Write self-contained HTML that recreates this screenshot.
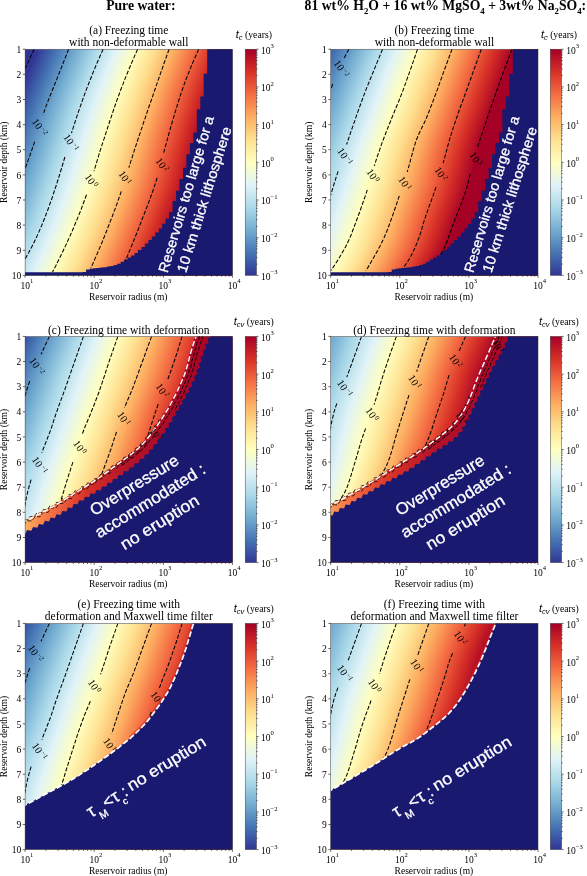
<!DOCTYPE html><html><head><meta charset="utf-8"><title>Figure</title><style>
html,body{margin:0;padding:0;background:#fff}svg{display:block;will-change:transform}text{font-family:"Liberation Serif",serif;fill:#000}.s{font-family:"Liberation Sans",sans-serif;fill:#fff;stroke:#fff;stroke-width:.3}.c{fill:none;stroke:#000;stroke-width:1.05;stroke-dasharray:4.1 1.75}.w{fill:none;stroke:#fff;stroke-width:1.7;stroke-dasharray:5.6 2.4}.t{font-size:9.5px}.l{fill:#000}.k{stroke:#000;stroke-width:.6;fill:none}
</style></head><body>
<svg width="587" height="876" viewBox="0 0 587 876">
<rect width="587" height="876" fill="#fff"/>
<defs>
<linearGradient id="cm" gradientUnits="userSpaceOnUse" x1="0" x2="100" y1="0" y2="0"><stop offset="0" stop-color="#313695"/><stop offset=".1" stop-color="#4575b4"/><stop offset=".2" stop-color="#74add1"/><stop offset=".3" stop-color="#abd9e9"/><stop offset=".4" stop-color="#e0f3f8"/><stop offset=".5" stop-color="#ffffbf"/><stop offset=".6" stop-color="#fee090"/><stop offset=".7" stop-color="#fdae61"/><stop offset=".8" stop-color="#f46d43"/><stop offset=".9" stop-color="#d73027"/><stop offset="1" stop-color="#a50026"/></linearGradient>
<linearGradient id="cb" x1="0" x2="0" y1="1" y2="0"><stop offset="0" stop-color="#313695"/><stop offset="0.1" stop-color="#4575b4"/><stop offset="0.2" stop-color="#74add1"/><stop offset="0.3" stop-color="#abd9e9"/><stop offset="0.4" stop-color="#e0f3f8"/><stop offset="0.5" stop-color="#ffffbf"/><stop offset="0.6" stop-color="#fee090"/><stop offset="0.7" stop-color="#fdae61"/><stop offset="0.8" stop-color="#f46d43"/><stop offset="0.9" stop-color="#d73027"/><stop offset="1" stop-color="#a50026"/></linearGradient>
<clipPath id="p0"><rect x="25.1" y="49.2" width="207.3" height="226.2"/></clipPath>
<linearGradient id="g0_0" href="#cm" x1="37.2" y1="50.2" x2="204.8" y2="118.7"/>
<linearGradient id="g0_1" href="#cm" x1="36.4" y1="52.2" x2="203.2" y2="121.4"/>
<linearGradient id="g0_2" href="#cm" x1="35.5" y1="54.2" x2="202.6" y2="123.2"/>
<linearGradient id="g0_3" href="#cm" x1="34.7" y1="56.2" x2="202" y2="125"/>
<linearGradient id="g0_4" href="#cm" x1="33.9" y1="58.2" x2="201.4" y2="126.7"/>
<linearGradient id="g0_5" href="#cm" x1="33.1" y1="60.2" x2="200.9" y2="128.5"/>
<linearGradient id="g0_6" href="#cm" x1="32.3" y1="62.2" x2="200.3" y2="130.2"/>
<linearGradient id="g0_7" href="#cm" x1="31.4" y1="64.2" x2="199.8" y2="132"/>
<linearGradient id="g0_8" href="#cm" x1="30.6" y1="66.2" x2="199.2" y2="133.7"/>
<linearGradient id="g0_9" href="#cm" x1="29.8" y1="68.2" x2="198.7" y2="135.4"/>
<linearGradient id="g0_10" href="#cm" x1="29" y1="70.2" x2="198.2" y2="137.1"/>
<linearGradient id="g0_11" href="#cm" x1="28.2" y1="72.2" x2="197.7" y2="138.9"/>
<linearGradient id="g0_12" href="#cm" x1="27.4" y1="74.2" x2="197.3" y2="140.6"/>
<linearGradient id="g0_13" href="#cm" x1="26.5" y1="76.2" x2="196.8" y2="142.3"/>
<linearGradient id="g0_14" href="#cm" x1="25.7" y1="78.2" x2="196.4" y2="144"/>
<linearGradient id="g0_15" href="#cm" x1="24.9" y1="80.2" x2="196" y2="145.7"/>
<linearGradient id="g0_16" href="#cm" x1="24.1" y1="82.2" x2="195.5" y2="147.4"/>
<linearGradient id="g0_17" href="#cm" x1="23.3" y1="84.2" x2="195" y2="149.2"/>
<linearGradient id="g0_18" href="#cm" x1="22.4" y1="86.2" x2="194.6" y2="150.9"/>
<linearGradient id="g0_19" href="#cm" x1="21.6" y1="88.2" x2="194.2" y2="152.6"/>
<linearGradient id="g0_20" href="#cm" x1="20.7" y1="90.2" x2="193.9" y2="154.3"/>
<linearGradient id="g0_21" href="#cm" x1="19.9" y1="92.2" x2="193.6" y2="155.9"/>
<linearGradient id="g0_22" href="#cm" x1="19.1" y1="94.2" x2="193.3" y2="157.5"/>
<linearGradient id="g0_23" href="#cm" x1="18.3" y1="96.2" x2="193.1" y2="159.1"/>
<linearGradient id="g0_24" href="#cm" x1="17.5" y1="98.2" x2="192.9" y2="160.6"/>
<linearGradient id="g0_25" href="#cm" x1="16.7" y1="100.2" x2="192.6" y2="162.2"/>
<linearGradient id="g0_26" href="#cm" x1="15.9" y1="102.2" x2="192.3" y2="163.9"/>
<linearGradient id="g0_27" href="#cm" x1="15.1" y1="104.2" x2="192" y2="165.5"/>
<linearGradient id="g0_28" href="#cm" x1="14.3" y1="106.2" x2="191.7" y2="167.1"/>
<linearGradient id="g0_29" href="#cm" x1="13.6" y1="108.2" x2="191.4" y2="168.8"/>
<linearGradient id="g0_30" href="#cm" x1="12.8" y1="110.2" x2="191.1" y2="170.3"/>
<linearGradient id="g0_31" href="#cm" x1="12.1" y1="112.2" x2="190.9" y2="171.9"/>
<linearGradient id="g0_32" href="#cm" x1="11.4" y1="114.2" x2="190.6" y2="173.5"/>
<linearGradient id="g0_33" href="#cm" x1="10.7" y1="116.2" x2="190.4" y2="175"/>
<linearGradient id="g0_34" href="#cm" x1="10" y1="118.2" x2="190.1" y2="176.5"/>
<linearGradient id="g0_35" href="#cm" x1="9.3" y1="120.2" x2="189.8" y2="178.1"/>
<linearGradient id="g0_36" href="#cm" x1="8.6" y1="122.2" x2="189.4" y2="179.8"/>
<linearGradient id="g0_37" href="#cm" x1="8" y1="124.2" x2="189" y2="181.5"/>
<linearGradient id="g0_38" href="#cm" x1="7.3" y1="126.2" x2="188.6" y2="183.2"/>
<linearGradient id="g0_39" href="#cm" x1="6.7" y1="128.2" x2="188.1" y2="185"/>
<linearGradient id="g0_40" href="#cm" x1="6.1" y1="130.2" x2="187.7" y2="186.7"/>
<linearGradient id="g0_41" href="#cm" x1="5.4" y1="132.2" x2="187.3" y2="188.4"/>
<linearGradient id="g0_42" href="#cm" x1="4.8" y1="134.2" x2="186.9" y2="190.2"/>
<linearGradient id="g0_43" href="#cm" x1="4.2" y1="136.2" x2="186.4" y2="192"/>
<linearGradient id="g0_44" href="#cm" x1="3.6" y1="138.2" x2="185.8" y2="193.9"/>
<linearGradient id="g0_45" href="#cm" x1="2.9" y1="140.2" x2="185.2" y2="196"/>
<linearGradient id="g0_46" href="#cm" x1="2.3" y1="142.2" x2="184.5" y2="198.1"/>
<linearGradient id="g0_47" href="#cm" x1="1.7" y1="144.2" x2="183.9" y2="200.2"/>
<linearGradient id="g0_48" href="#cm" x1="1" y1="146.2" x2="183.3" y2="202.3"/>
<linearGradient id="g0_49" href="#cm" x1="0.3" y1="148.2" x2="182.7" y2="204.2"/>
<linearGradient id="g0_50" href="#cm" x1="-0.3" y1="150.2" x2="182.2" y2="206.2"/>
<linearGradient id="g0_51" href="#cm" x1="-1" y1="152.2" x2="181.6" y2="208.2"/>
<linearGradient id="g0_52" href="#cm" x1="-1.7" y1="154.2" x2="181.2" y2="210.2"/>
<linearGradient id="g0_53" href="#cm" x1="-2.4" y1="156.2" x2="180.7" y2="212.2"/>
<linearGradient id="g0_54" href="#cm" x1="-3.1" y1="158.2" x2="180.2" y2="214.2"/>
<linearGradient id="g0_55" href="#cm" x1="-3.8" y1="160.2" x2="179.7" y2="216.2"/>
<linearGradient id="g0_56" href="#cm" x1="-4.6" y1="162.2" x2="179.2" y2="218.3"/>
<linearGradient id="g0_57" href="#cm" x1="-5.3" y1="164.2" x2="178.6" y2="220.5"/>
<linearGradient id="g0_58" href="#cm" x1="-6.1" y1="166.2" x2="178" y2="222.7"/>
<linearGradient id="g0_59" href="#cm" x1="-6.8" y1="168.2" x2="177.5" y2="224.8"/>
<linearGradient id="g0_60" href="#cm" x1="-7.6" y1="170.2" x2="177" y2="226.8"/>
<linearGradient id="g0_61" href="#cm" x1="-8.3" y1="172.2" x2="176.3" y2="229.2"/>
<linearGradient id="g0_62" href="#cm" x1="-9" y1="174.2" x2="175.5" y2="231.6"/>
<linearGradient id="g0_63" href="#cm" x1="-9.7" y1="176.2" x2="174.5" y2="234.2"/>
<linearGradient id="g0_64" href="#cm" x1="-10.4" y1="178.2" x2="173.6" y2="236.8"/>
<linearGradient id="g0_65" href="#cm" x1="-11.1" y1="180.2" x2="172.6" y2="239.3"/>
<linearGradient id="g0_66" href="#cm" x1="-11.8" y1="182.2" x2="171.6" y2="241.9"/>
<linearGradient id="g0_67" href="#cm" x1="-12.5" y1="184.2" x2="170.6" y2="244.4"/>
<linearGradient id="g0_68" href="#cm" x1="-13.2" y1="186.2" x2="169.6" y2="247"/>
<linearGradient id="g0_69" href="#cm" x1="-13.9" y1="188.2" x2="168.5" y2="249.5"/>
<linearGradient id="g0_70" href="#cm" x1="-14.5" y1="190.2" x2="167.4" y2="252.1"/>
<linearGradient id="g0_71" href="#cm" x1="-15.2" y1="192.2" x2="166.3" y2="254.6"/>
<linearGradient id="g0_72" href="#cm" x1="-15.9" y1="194.2" x2="165.2" y2="257.2"/>
<linearGradient id="g0_73" href="#cm" x1="-16.6" y1="196.2" x2="164" y2="259.8"/>
<linearGradient id="g0_74" href="#cm" x1="-17.3" y1="198.2" x2="162.8" y2="262.4"/>
<linearGradient id="g0_75" href="#cm" x1="-18" y1="200.2" x2="161.6" y2="264.9"/>
<linearGradient id="g0_76" href="#cm" x1="-18.7" y1="202.2" x2="160.4" y2="267.4"/>
<linearGradient id="g0_77" href="#cm" x1="-19.4" y1="204.2" x2="159.4" y2="269.7"/>
<linearGradient id="g0_78" href="#cm" x1="-20.1" y1="206.2" x2="158.3" y2="272.1"/>
<linearGradient id="g0_79" href="#cm" x1="-20.8" y1="208.2" x2="157.2" y2="274.4"/>
<linearGradient id="g0_80" href="#cm" x1="-21.5" y1="210.2" x2="156.1" y2="276.8"/>
<linearGradient id="g0_81" href="#cm" x1="-22.2" y1="212.2" x2="155" y2="279.1"/>
<linearGradient id="g0_82" href="#cm" x1="-22.9" y1="214.2" x2="153.9" y2="281.4"/>
<linearGradient id="g0_83" href="#cm" x1="-23.7" y1="216.2" x2="152.9" y2="283.7"/>
<linearGradient id="g0_84" href="#cm" x1="-24.4" y1="218.2" x2="151.8" y2="286"/>
<linearGradient id="g0_85" href="#cm" x1="-25.1" y1="220.2" x2="150.7" y2="288.3"/>
<linearGradient id="g0_86" href="#cm" x1="-25.9" y1="222.2" x2="149.6" y2="290.6"/>
<linearGradient id="g0_87" href="#cm" x1="-26.6" y1="224.2" x2="148.5" y2="292.9"/>
<linearGradient id="g0_88" href="#cm" x1="-27.4" y1="226.2" x2="147.3" y2="295.3"/>
<linearGradient id="g0_89" href="#cm" x1="-28.2" y1="228.2" x2="146.1" y2="297.7"/>
<linearGradient id="g0_90" href="#cm" x1="-28.9" y1="230.2" x2="144.9" y2="300.1"/>
<linearGradient id="g0_91" href="#cm" x1="-29.7" y1="232.2" x2="143.6" y2="302.6"/>
<linearGradient id="g0_92" href="#cm" x1="-30.5" y1="234.2" x2="142.3" y2="305"/>
<linearGradient id="g0_93" href="#cm" x1="-31.3" y1="236.2" x2="141" y2="307.5"/>
<linearGradient id="g0_94" href="#cm" x1="-32.2" y1="238.2" x2="139.6" y2="310"/>
<linearGradient id="g0_95" href="#cm" x1="-33" y1="240.2" x2="138.3" y2="312.5"/>
<linearGradient id="g0_96" href="#cm" x1="-33.8" y1="242.2" x2="136.9" y2="315"/>
<linearGradient id="g0_97" href="#cm" x1="-34.7" y1="244.2" x2="135.6" y2="317.5"/>
<linearGradient id="g0_98" href="#cm" x1="-35.5" y1="246.2" x2="134.2" y2="319.9"/>
<linearGradient id="g0_99" href="#cm" x1="-36.4" y1="248.2" x2="132.9" y2="322.3"/>
<linearGradient id="g0_100" href="#cm" x1="-37.3" y1="250.2" x2="131.6" y2="324.7"/>
<linearGradient id="g0_101" href="#cm" x1="-38.2" y1="252.2" x2="130.3" y2="327.1"/>
<linearGradient id="g0_102" href="#cm" x1="-39.1" y1="254.2" x2="129" y2="329.5"/>
<linearGradient id="g0_103" href="#cm" x1="-40" y1="256.2" x2="127.7" y2="331.8"/>
<linearGradient id="g0_104" href="#cm" x1="-40.9" y1="258.2" x2="126.9" y2="333.8"/>
<linearGradient id="g0_105" href="#cm" x1="-41.8" y1="260.2" x2="126.4" y2="335.3"/>
<linearGradient id="g0_106" href="#cm" x1="-42.6" y1="262.2" x2="125.8" y2="337.1"/>
<linearGradient id="g0_107" href="#cm" x1="-43.5" y1="264.2" x2="124.9" y2="339.1"/>
<linearGradient id="g0_108" href="#cm" x1="-44.4" y1="266.2" x2="123.8" y2="341.2"/>
<linearGradient id="g0_109" href="#cm" x1="-45.3" y1="268.2" x2="123.3" y2="342.9"/>
<linearGradient id="g0_110" href="#cm" x1="-46.2" y1="270.2" x2="122.9" y2="344.4"/>
<linearGradient id="g0_111" href="#cm" x1="-47.1" y1="272.2" x2="122.9" y2="345.7"/>
<linearGradient id="g0_112" href="#cm" x1="-47.9" y1="274.2" x2="122.9" y2="346.9"/>
<linearGradient id="g0_113" href="#cm" x1="-48.8" y1="276.2" x2="122" y2="348.9"/>
<clipPath id="p1"><rect x="330.7" y="49.2" width="207.3" height="226.2"/></clipPath>
<linearGradient id="g1_0" href="#cm" x1="317.3" y1="50.2" x2="485.5" y2="119.3"/>
<linearGradient id="g1_1" href="#cm" x1="316.3" y1="52.2" x2="484.4" y2="121.8"/>
<linearGradient id="g1_2" href="#cm" x1="315.3" y1="54.2" x2="484.1" y2="123.5"/>
<linearGradient id="g1_3" href="#cm" x1="314.3" y1="56.2" x2="483.7" y2="125.3"/>
<linearGradient id="g1_4" href="#cm" x1="313.3" y1="58.2" x2="483.3" y2="127.1"/>
<linearGradient id="g1_5" href="#cm" x1="312.4" y1="60.2" x2="482.9" y2="128.8"/>
<linearGradient id="g1_6" href="#cm" x1="311.5" y1="62.2" x2="482.5" y2="130.6"/>
<linearGradient id="g1_7" href="#cm" x1="310.6" y1="64.2" x2="482.1" y2="132.4"/>
<linearGradient id="g1_8" href="#cm" x1="309.7" y1="66.2" x2="481.7" y2="134.1"/>
<linearGradient id="g1_9" href="#cm" x1="308.8" y1="68.2" x2="481.2" y2="135.9"/>
<linearGradient id="g1_10" href="#cm" x1="307.9" y1="70.2" x2="480.8" y2="137.7"/>
<linearGradient id="g1_11" href="#cm" x1="307" y1="72.2" x2="480.3" y2="139.4"/>
<linearGradient id="g1_12" href="#cm" x1="306.2" y1="74.2" x2="479.9" y2="141.2"/>
<linearGradient id="g1_13" href="#cm" x1="305.3" y1="76.2" x2="479.4" y2="143"/>
<linearGradient id="g1_14" href="#cm" x1="304.5" y1="78.2" x2="479" y2="144.8"/>
<linearGradient id="g1_15" href="#cm" x1="303.7" y1="80.2" x2="478.5" y2="146.5"/>
<linearGradient id="g1_16" href="#cm" x1="302.8" y1="82.2" x2="478.3" y2="148"/>
<linearGradient id="g1_17" href="#cm" x1="302.1" y1="84.2" x2="478" y2="149.5"/>
<linearGradient id="g1_18" href="#cm" x1="301.3" y1="86.2" x2="477.7" y2="151"/>
<linearGradient id="g1_19" href="#cm" x1="300.6" y1="88.2" x2="477.2" y2="152.9"/>
<linearGradient id="g1_20" href="#cm" x1="299.8" y1="90.2" x2="476.2" y2="155.1"/>
<linearGradient id="g1_21" href="#cm" x1="299.1" y1="92.2" x2="475.2" y2="157.4"/>
<linearGradient id="g1_22" href="#cm" x1="298.3" y1="94.2" x2="474.4" y2="159.5"/>
<linearGradient id="g1_23" href="#cm" x1="297.5" y1="96.2" x2="473.6" y2="161.6"/>
<linearGradient id="g1_24" href="#cm" x1="296.8" y1="98.2" x2="472.9" y2="163.6"/>
<linearGradient id="g1_25" href="#cm" x1="296" y1="100.2" x2="472.1" y2="165.6"/>
<linearGradient id="g1_26" href="#cm" x1="295.3" y1="102.2" x2="471.4" y2="167.6"/>
<linearGradient id="g1_27" href="#cm" x1="294.5" y1="104.2" x2="470.7" y2="169.6"/>
<linearGradient id="g1_28" href="#cm" x1="293.8" y1="106.2" x2="470" y2="171.6"/>
<linearGradient id="g1_29" href="#cm" x1="293" y1="108.2" x2="469.3" y2="173.6"/>
<linearGradient id="g1_30" href="#cm" x1="292.2" y1="110.2" x2="468.6" y2="175.6"/>
<linearGradient id="g1_31" href="#cm" x1="291.5" y1="112.2" x2="467.9" y2="177.5"/>
<linearGradient id="g1_32" href="#cm" x1="290.7" y1="114.2" x2="467.2" y2="179.5"/>
<linearGradient id="g1_33" href="#cm" x1="290" y1="116.2" x2="466.5" y2="181.5"/>
<linearGradient id="g1_34" href="#cm" x1="289.2" y1="118.2" x2="465.7" y2="183.6"/>
<linearGradient id="g1_35" href="#cm" x1="288.4" y1="120.2" x2="464.7" y2="185.9"/>
<linearGradient id="g1_36" href="#cm" x1="287.7" y1="122.2" x2="463.6" y2="188.3"/>
<linearGradient id="g1_37" href="#cm" x1="286.9" y1="124.2" x2="462.6" y2="190.6"/>
<linearGradient id="g1_38" href="#cm" x1="286.1" y1="126.2" x2="461.8" y2="192.7"/>
<linearGradient id="g1_39" href="#cm" x1="285.4" y1="128.2" x2="461.2" y2="194.6"/>
<linearGradient id="g1_40" href="#cm" x1="284.6" y1="130.2" x2="460.7" y2="196.3"/>
<linearGradient id="g1_41" href="#cm" x1="283.8" y1="132.2" x2="460.4" y2="197.9"/>
<linearGradient id="g1_42" href="#cm" x1="283.1" y1="134.2" x2="460.2" y2="199.2"/>
<linearGradient id="g1_43" href="#cm" x1="282.3" y1="136.2" x2="460.3" y2="200.3"/>
<linearGradient id="g1_44" href="#cm" x1="281.6" y1="138.2" x2="460.5" y2="201.2"/>
<linearGradient id="g1_45" href="#cm" x1="280.8" y1="140.2" x2="460.6" y2="202.2"/>
<linearGradient id="g1_46" href="#cm" x1="280.1" y1="142.2" x2="460.6" y2="203.4"/>
<linearGradient id="g1_47" href="#cm" x1="279.4" y1="144.2" x2="460.5" y2="204.8"/>
<linearGradient id="g1_48" href="#cm" x1="278.6" y1="146.2" x2="460.4" y2="206.2"/>
<linearGradient id="g1_49" href="#cm" x1="277.9" y1="148.2" x2="460.2" y2="207.6"/>
<linearGradient id="g1_50" href="#cm" x1="277.2" y1="150.2" x2="460" y2="209.1"/>
<linearGradient id="g1_51" href="#cm" x1="276.5" y1="152.2" x2="459.8" y2="210.7"/>
<linearGradient id="g1_52" href="#cm" x1="275.7" y1="154.2" x2="459.5" y2="212.4"/>
<linearGradient id="g1_53" href="#cm" x1="275" y1="156.2" x2="459.2" y2="214.1"/>
<linearGradient id="g1_54" href="#cm" x1="274.3" y1="158.2" x2="458.8" y2="215.9"/>
<linearGradient id="g1_55" href="#cm" x1="273.5" y1="160.2" x2="458.4" y2="217.7"/>
<linearGradient id="g1_56" href="#cm" x1="272.8" y1="162.2" x2="458" y2="219.6"/>
<linearGradient id="g1_57" href="#cm" x1="272.1" y1="164.2" x2="457.6" y2="221.5"/>
<linearGradient id="g1_58" href="#cm" x1="271.3" y1="166.2" x2="457.2" y2="223.4"/>
<linearGradient id="g1_59" href="#cm" x1="270.6" y1="168.2" x2="456.8" y2="225.4"/>
<linearGradient id="g1_60" href="#cm" x1="269.9" y1="170.2" x2="456.2" y2="227.5"/>
<linearGradient id="g1_61" href="#cm" x1="269.1" y1="172.2" x2="455.6" y2="229.7"/>
<linearGradient id="g1_62" href="#cm" x1="268.4" y1="174.2" x2="455" y2="232"/>
<linearGradient id="g1_63" href="#cm" x1="267.7" y1="176.2" x2="454.3" y2="234.2"/>
<linearGradient id="g1_64" href="#cm" x1="267" y1="178.2" x2="453.6" y2="236.5"/>
<linearGradient id="g1_65" href="#cm" x1="266.2" y1="180.2" x2="452.9" y2="238.8"/>
<linearGradient id="g1_66" href="#cm" x1="265.5" y1="182.2" x2="452.1" y2="241.2"/>
<linearGradient id="g1_67" href="#cm" x1="264.8" y1="184.2" x2="451.2" y2="243.7"/>
<linearGradient id="g1_68" href="#cm" x1="264.1" y1="186.2" x2="450.2" y2="246.2"/>
<linearGradient id="g1_69" href="#cm" x1="263.4" y1="188.2" x2="449.2" y2="248.9"/>
<linearGradient id="g1_70" href="#cm" x1="262.7" y1="190.2" x2="448.1" y2="251.5"/>
<linearGradient id="g1_71" href="#cm" x1="262" y1="192.2" x2="447.1" y2="254"/>
<linearGradient id="g1_72" href="#cm" x1="261.4" y1="194.2" x2="446" y2="256.6"/>
<linearGradient id="g1_73" href="#cm" x1="260.7" y1="196.2" x2="445" y2="259"/>
<linearGradient id="g1_74" href="#cm" x1="260" y1="198.2" x2="444" y2="261.3"/>
<linearGradient id="g1_75" href="#cm" x1="259.4" y1="200.2" x2="443.1" y2="263.6"/>
<linearGradient id="g1_76" href="#cm" x1="258.7" y1="202.2" x2="442.2" y2="265.7"/>
<linearGradient id="g1_77" href="#cm" x1="258.1" y1="204.2" x2="441.3" y2="267.9"/>
<linearGradient id="g1_78" href="#cm" x1="257.4" y1="206.2" x2="440.5" y2="270"/>
<linearGradient id="g1_79" href="#cm" x1="256.8" y1="208.2" x2="439.7" y2="272.1"/>
<linearGradient id="g1_80" href="#cm" x1="256.2" y1="210.2" x2="438.8" y2="274.1"/>
<linearGradient id="g1_81" href="#cm" x1="255.5" y1="212.2" x2="438.1" y2="276.1"/>
<linearGradient id="g1_82" href="#cm" x1="254.9" y1="214.2" x2="437.3" y2="278.1"/>
<linearGradient id="g1_83" href="#cm" x1="254.2" y1="216.2" x2="436.6" y2="280.1"/>
<linearGradient id="g1_84" href="#cm" x1="253.6" y1="218.2" x2="435.9" y2="282"/>
<linearGradient id="g1_85" href="#cm" x1="252.9" y1="220.2" x2="435.2" y2="283.9"/>
<linearGradient id="g1_86" href="#cm" x1="252.2" y1="222.2" x2="434.6" y2="285.7"/>
<linearGradient id="g1_87" href="#cm" x1="251.6" y1="224.2" x2="434.1" y2="287.4"/>
<linearGradient id="g1_88" href="#cm" x1="250.9" y1="226.2" x2="433.6" y2="289.2"/>
<linearGradient id="g1_89" href="#cm" x1="250.2" y1="228.2" x2="432.9" y2="291.2"/>
<linearGradient id="g1_90" href="#cm" x1="249.4" y1="230.2" x2="432" y2="293.6"/>
<linearGradient id="g1_91" href="#cm" x1="248.7" y1="232.2" x2="430.7" y2="296.4"/>
<linearGradient id="g1_92" href="#cm" x1="248" y1="234.2" x2="428.8" y2="299.7"/>
<linearGradient id="g1_93" href="#cm" x1="247.3" y1="236.2" x2="426.9" y2="303.1"/>
<linearGradient id="g1_94" href="#cm" x1="246.6" y1="238.2" x2="425.1" y2="306.3"/>
<linearGradient id="g1_95" href="#cm" x1="245.8" y1="240.2" x2="423.4" y2="309.2"/>
<linearGradient id="g1_96" href="#cm" x1="245.1" y1="242.2" x2="421.6" y2="312.2"/>
<linearGradient id="g1_97" href="#cm" x1="244.4" y1="244.2" x2="419.7" y2="315.3"/>
<linearGradient id="g1_98" href="#cm" x1="243.7" y1="246.2" x2="417.7" y2="318.4"/>
<linearGradient id="g1_99" href="#cm" x1="243" y1="248.2" x2="415.5" y2="321.5"/>
<linearGradient id="g1_100" href="#cm" x1="242.3" y1="250.2" x2="413.3" y2="324.5"/>
<linearGradient id="g1_101" href="#cm" x1="241.6" y1="252.2" x2="411.1" y2="327.4"/>
<linearGradient id="g1_102" href="#cm" x1="241" y1="254.2" x2="409.3" y2="330"/>
<linearGradient id="g1_103" href="#cm" x1="240.3" y1="256.2" x2="407.4" y2="332.5"/>
<linearGradient id="g1_104" href="#cm" x1="239.6" y1="258.2" x2="405.3" y2="335.2"/>
<linearGradient id="g1_105" href="#cm" x1="238.9" y1="260.2" x2="402.7" y2="338.3"/>
<linearGradient id="g1_106" href="#cm" x1="238.2" y1="262.2" x2="399.8" y2="341.5"/>
<linearGradient id="g1_107" href="#cm" x1="237.5" y1="264.2" x2="397.1" y2="344.4"/>
<linearGradient id="g1_108" href="#cm" x1="236.8" y1="266.2" x2="394.8" y2="346.9"/>
<linearGradient id="g1_109" href="#cm" x1="236.1" y1="268.2" x2="393.3" y2="348.8"/>
<linearGradient id="g1_110" href="#cm" x1="235.4" y1="270.2" x2="394.2" y2="349"/>
<linearGradient id="g1_111" href="#cm" x1="234.8" y1="272.2" x2="395.5" y2="348.8"/>
<linearGradient id="g1_112" href="#cm" x1="234.2" y1="274.2" x2="394.9" y2="350.1"/>
<linearGradient id="g1_113" href="#cm" x1="233.5" y1="276.2" x2="393.8" y2="351.9"/>
<clipPath id="p2"><rect x="25.1" y="336.4" width="207.3" height="226.2"/></clipPath>
<linearGradient id="g2_0" href="#cm" x1="16.3" y1="337.4" x2="192.6" y2="402.6"/>
<linearGradient id="g2_1" href="#cm" x1="15.4" y1="339.4" x2="192.1" y2="404.6"/>
<linearGradient id="g2_2" href="#cm" x1="14.5" y1="341.4" x2="191.5" y2="406.7"/>
<linearGradient id="g2_3" href="#cm" x1="13.5" y1="343.4" x2="190.9" y2="408.8"/>
<linearGradient id="g2_4" href="#cm" x1="12.6" y1="345.4" x2="190.4" y2="410.9"/>
<linearGradient id="g2_5" href="#cm" x1="11.7" y1="347.4" x2="189.8" y2="413"/>
<linearGradient id="g2_6" href="#cm" x1="10.8" y1="349.4" x2="189.2" y2="415"/>
<linearGradient id="g2_7" href="#cm" x1="9.9" y1="351.4" x2="188.6" y2="417.1"/>
<linearGradient id="g2_8" href="#cm" x1="9.1" y1="353.4" x2="188" y2="419.2"/>
<linearGradient id="g2_9" href="#cm" x1="8.2" y1="355.4" x2="187.3" y2="421.4"/>
<linearGradient id="g2_10" href="#cm" x1="7.3" y1="357.4" x2="186.6" y2="423.5"/>
<linearGradient id="g2_11" href="#cm" x1="6.4" y1="359.4" x2="185.9" y2="425.7"/>
<linearGradient id="g2_12" href="#cm" x1="5.6" y1="361.4" x2="185.3" y2="427.6"/>
<linearGradient id="g2_13" href="#cm" x1="4.7" y1="363.4" x2="184.9" y2="429.5"/>
<linearGradient id="g2_14" href="#cm" x1="3.9" y1="365.4" x2="184.4" y2="431.3"/>
<linearGradient id="g2_15" href="#cm" x1="3" y1="367.4" x2="184" y2="433.2"/>
<linearGradient id="g2_16" href="#cm" x1="2.2" y1="369.4" x2="183.5" y2="435"/>
<linearGradient id="g2_17" href="#cm" x1="1.4" y1="371.4" x2="183" y2="436.9"/>
<linearGradient id="g2_18" href="#cm" x1="0.6" y1="373.4" x2="182.5" y2="438.8"/>
<linearGradient id="g2_19" href="#cm" x1="-0.1" y1="375.4" x2="181.8" y2="440.8"/>
<linearGradient id="g2_20" href="#cm" x1="-0.9" y1="377.4" x2="181.1" y2="442.8"/>
<linearGradient id="g2_21" href="#cm" x1="-1.6" y1="379.4" x2="180.4" y2="444.8"/>
<linearGradient id="g2_22" href="#cm" x1="-2.3" y1="381.4" x2="179.6" y2="446.8"/>
<linearGradient id="g2_23" href="#cm" x1="-2.9" y1="383.4" x2="178.7" y2="448.9"/>
<linearGradient id="g2_24" href="#cm" x1="-3.5" y1="385.4" x2="177.8" y2="451"/>
<linearGradient id="g2_25" href="#cm" x1="-4.2" y1="387.4" x2="176.9" y2="453.1"/>
<linearGradient id="g2_26" href="#cm" x1="-4.8" y1="389.4" x2="175.8" y2="455.3"/>
<linearGradient id="g2_27" href="#cm" x1="-5.4" y1="391.4" x2="174.6" y2="457.6"/>
<linearGradient id="g2_28" href="#cm" x1="-6" y1="393.4" x2="173.2" y2="460.1"/>
<linearGradient id="g2_29" href="#cm" x1="-6.6" y1="395.4" x2="171.9" y2="462.6"/>
<linearGradient id="g2_30" href="#cm" x1="-7.2" y1="397.4" x2="171" y2="464.6"/>
<linearGradient id="g2_31" href="#cm" x1="-7.9" y1="399.4" x2="170.5" y2="466.2"/>
<linearGradient id="g2_32" href="#cm" x1="-8.6" y1="401.4" x2="170.1" y2="467.6"/>
<linearGradient id="g2_33" href="#cm" x1="-9.2" y1="403.4" x2="169.9" y2="469"/>
<linearGradient id="g2_34" href="#cm" x1="-9.9" y1="405.4" x2="169.6" y2="470.4"/>
<linearGradient id="g2_35" href="#cm" x1="-10.6" y1="407.4" x2="169.1" y2="472"/>
<linearGradient id="g2_36" href="#cm" x1="-11.3" y1="409.4" x2="168.7" y2="473.6"/>
<linearGradient id="g2_37" href="#cm" x1="-12" y1="411.4" x2="168.3" y2="475.2"/>
<linearGradient id="g2_38" href="#cm" x1="-12.7" y1="413.4" x2="167.9" y2="476.8"/>
<linearGradient id="g2_39" href="#cm" x1="-13.4" y1="415.4" x2="167.4" y2="478.6"/>
<linearGradient id="g2_40" href="#cm" x1="-14.1" y1="417.4" x2="166.8" y2="480.4"/>
<linearGradient id="g2_41" href="#cm" x1="-14.8" y1="419.4" x2="166.2" y2="482.3"/>
<linearGradient id="g2_42" href="#cm" x1="-15.4" y1="421.4" x2="165.6" y2="484.1"/>
<linearGradient id="g2_43" href="#cm" x1="-16.1" y1="423.4" x2="165" y2="486"/>
<linearGradient id="g2_44" href="#cm" x1="-16.8" y1="425.4" x2="164.4" y2="487.9"/>
<linearGradient id="g2_45" href="#cm" x1="-17.5" y1="427.4" x2="163.8" y2="489.8"/>
<linearGradient id="g2_46" href="#cm" x1="-18.2" y1="429.4" x2="163.1" y2="491.9"/>
<linearGradient id="g2_47" href="#cm" x1="-18.9" y1="431.4" x2="162.3" y2="494"/>
<linearGradient id="g2_48" href="#cm" x1="-19.6" y1="433.4" x2="161.6" y2="496.1"/>
<linearGradient id="g2_49" href="#cm" x1="-20.3" y1="435.4" x2="160.9" y2="498.1"/>
<linearGradient id="g2_50" href="#cm" x1="-21.1" y1="437.4" x2="160.2" y2="500.1"/>
<linearGradient id="g2_51" href="#cm" x1="-21.8" y1="439.4" x2="159.5" y2="502.2"/>
<linearGradient id="g2_52" href="#cm" x1="-22.5" y1="441.4" x2="158.9" y2="504.2"/>
<linearGradient id="g2_53" href="#cm" x1="-23.2" y1="443.4" x2="158.2" y2="506.2"/>
<linearGradient id="g2_54" href="#cm" x1="-23.9" y1="445.4" x2="157.6" y2="508.1"/>
<linearGradient id="g2_55" href="#cm" x1="-24.7" y1="447.4" x2="156.9" y2="510.1"/>
<linearGradient id="g2_56" href="#cm" x1="-25.4" y1="449.4" x2="156.3" y2="512.1"/>
<linearGradient id="g2_57" href="#cm" x1="-26.1" y1="451.4" x2="155.5" y2="514.3"/>
<linearGradient id="g2_58" href="#cm" x1="-26.8" y1="453.4" x2="154.5" y2="516.6"/>
<linearGradient id="g2_59" href="#cm" x1="-27.5" y1="455.4" x2="153.6" y2="518.9"/>
<linearGradient id="g2_60" href="#cm" x1="-28.2" y1="457.4" x2="152.7" y2="521.2"/>
<linearGradient id="g2_61" href="#cm" x1="-29" y1="459.4" x2="151.9" y2="523.3"/>
<linearGradient id="g2_62" href="#cm" x1="-29.7" y1="461.4" x2="151.2" y2="525.4"/>
<linearGradient id="g2_63" href="#cm" x1="-30.4" y1="463.4" x2="150.5" y2="527.4"/>
<linearGradient id="g2_64" href="#cm" x1="-31.1" y1="465.4" x2="149.8" y2="529.4"/>
<linearGradient id="g2_65" href="#cm" x1="-31.9" y1="467.4" x2="149.2" y2="531.4"/>
<linearGradient id="g2_66" href="#cm" x1="-32.6" y1="469.4" x2="148.6" y2="533.3"/>
<linearGradient id="g2_67" href="#cm" x1="-33.3" y1="471.4" x2="148" y2="535"/>
<linearGradient id="g2_68" href="#cm" x1="-34" y1="473.4" x2="147.7" y2="536.6"/>
<linearGradient id="g2_69" href="#cm" x1="-34.7" y1="475.4" x2="147.4" y2="538"/>
<linearGradient id="g2_70" href="#cm" x1="-35.3" y1="477.4" x2="147.2" y2="539.4"/>
<linearGradient id="g2_71" href="#cm" x1="-36" y1="479.4" x2="147" y2="540.8"/>
<linearGradient id="g2_72" href="#cm" x1="-36.6" y1="481.4" x2="146.8" y2="542"/>
<linearGradient id="g2_73" href="#cm" x1="-37.2" y1="483.4" x2="146.5" y2="543.4"/>
<linearGradient id="g2_74" href="#cm" x1="-37.7" y1="485.4" x2="146.1" y2="545"/>
<linearGradient id="g2_75" href="#cm" x1="-38.3" y1="487.4" x2="145.6" y2="546.6"/>
<linearGradient id="g2_76" href="#cm" x1="-38.9" y1="489.4" x2="145" y2="548.3"/>
<linearGradient id="g2_77" href="#cm" x1="-39.4" y1="491.4" x2="144.5" y2="550.1"/>
<linearGradient id="g2_78" href="#cm" x1="-40" y1="493.4" x2="143.9" y2="551.8"/>
<linearGradient id="g2_79" href="#cm" x1="-40.5" y1="495.4" x2="143.5" y2="553.4"/>
<linearGradient id="g2_80" href="#cm" x1="-41" y1="497.4" x2="143" y2="555"/>
<linearGradient id="g2_81" href="#cm" x1="-41.5" y1="499.4" x2="142.5" y2="556.6"/>
<linearGradient id="g2_82" href="#cm" x1="-42" y1="501.4" x2="142" y2="558.1"/>
<linearGradient id="g2_83" href="#cm" x1="-42.5" y1="503.4" x2="141.3" y2="560.2"/>
<linearGradient id="g2_84" href="#cm" x1="-43" y1="505.4" x2="140" y2="562.8"/>
<linearGradient id="g2_85" href="#cm" x1="-43.6" y1="507.4" x2="139" y2="565.2"/>
<linearGradient id="g2_86" href="#cm" x1="-44.1" y1="509.4" x2="138.3" y2="567.2"/>
<linearGradient id="g2_87" href="#cm" x1="-44.6" y1="511.4" x2="137.6" y2="569.1"/>
<linearGradient id="g2_88" href="#cm" x1="-45.2" y1="513.4" x2="136.9" y2="571.1"/>
<linearGradient id="g2_89" href="#cm" x1="-45.7" y1="515.4" x2="136.1" y2="573"/>
<linearGradient id="g2_90" href="#cm" x1="-46.2" y1="517.4" x2="135.4" y2="574.9"/>
<linearGradient id="g2_91" href="#cm" x1="-46.8" y1="519.4" x2="134.7" y2="576.9"/>
<linearGradient id="g2_92" href="#cm" x1="-47.3" y1="521.4" x2="134" y2="578.8"/>
<linearGradient id="g2_93" href="#cm" x1="-47.8" y1="523.4" x2="133.3" y2="580.8"/>
<linearGradient id="g2_94" href="#cm" x1="-48.4" y1="525.4" x2="132.6" y2="582.7"/>
<linearGradient id="g2_95" href="#cm" x1="-48.9" y1="527.4" x2="131.9" y2="584.7"/>
<linearGradient id="g2_96" href="#cm" x1="-49.4" y1="529.4" x2="131.1" y2="586.6"/>
<linearGradient id="g2_97" href="#cm" x1="-50" y1="531.4" x2="130.4" y2="588.5"/>
<linearGradient id="g2_98" href="#cm" x1="-50.5" y1="533.4" x2="129.7" y2="590.5"/>
<linearGradient id="g2_99" href="#cm" x1="-51" y1="535.4" x2="129" y2="592.4"/>
<linearGradient id="g2_100" href="#cm" x1="-51.6" y1="537.4" x2="128.3" y2="594.4"/>
<linearGradient id="g2_101" href="#cm" x1="-52.1" y1="539.4" x2="127.6" y2="596.3"/>
<linearGradient id="g2_102" href="#cm" x1="-52.7" y1="541.4" x2="126.9" y2="598.3"/>
<linearGradient id="g2_103" href="#cm" x1="-53.2" y1="543.4" x2="126.2" y2="600.2"/>
<linearGradient id="g2_104" href="#cm" x1="-53.7" y1="545.4" x2="125.4" y2="602.1"/>
<linearGradient id="g2_105" href="#cm" x1="-54.3" y1="547.4" x2="124.7" y2="604.1"/>
<linearGradient id="g2_106" href="#cm" x1="-54.8" y1="549.4" x2="124" y2="606"/>
<linearGradient id="g2_107" href="#cm" x1="-55.3" y1="551.4" x2="123.3" y2="608"/>
<linearGradient id="g2_108" href="#cm" x1="-55.9" y1="553.4" x2="122.6" y2="609.9"/>
<linearGradient id="g2_109" href="#cm" x1="-56.4" y1="555.4" x2="121.9" y2="611.9"/>
<linearGradient id="g2_110" href="#cm" x1="-56.9" y1="557.4" x2="121.2" y2="613.8"/>
<linearGradient id="g2_111" href="#cm" x1="-57.5" y1="559.4" x2="120.4" y2="615.7"/>
<linearGradient id="g2_112" href="#cm" x1="-58" y1="561.4" x2="119.7" y2="617.7"/>
<linearGradient id="g2_113" href="#cm" x1="-58.5" y1="563.4" x2="119" y2="619.6"/>
<clipPath id="p3"><rect x="330.7" y="336.4" width="207.3" height="226.2"/></clipPath>
<linearGradient id="g3_0" href="#cm" x1="292.1" y1="337.4" x2="474.3" y2="404.3"/>
<linearGradient id="g3_1" href="#cm" x1="291.5" y1="339.4" x2="473.3" y2="406.3"/>
<linearGradient id="g3_2" href="#cm" x1="291" y1="341.4" x2="472.6" y2="408"/>
<linearGradient id="g3_3" href="#cm" x1="290.4" y1="343.4" x2="471.9" y2="409.8"/>
<linearGradient id="g3_4" href="#cm" x1="289.8" y1="345.4" x2="471.2" y2="411.6"/>
<linearGradient id="g3_5" href="#cm" x1="289.2" y1="347.4" x2="470.5" y2="413.3"/>
<linearGradient id="g3_6" href="#cm" x1="288.6" y1="349.4" x2="469.8" y2="415.1"/>
<linearGradient id="g3_7" href="#cm" x1="288" y1="351.4" x2="469.1" y2="416.8"/>
<linearGradient id="g3_8" href="#cm" x1="287.4" y1="353.4" x2="468.3" y2="418.7"/>
<linearGradient id="g3_9" href="#cm" x1="286.8" y1="355.4" x2="467.5" y2="420.5"/>
<linearGradient id="g3_10" href="#cm" x1="286.3" y1="357.4" x2="466.8" y2="422.4"/>
<linearGradient id="g3_11" href="#cm" x1="285.7" y1="359.4" x2="466" y2="424.1"/>
<linearGradient id="g3_12" href="#cm" x1="285.1" y1="361.4" x2="465.3" y2="425.9"/>
<linearGradient id="g3_13" href="#cm" x1="284.6" y1="363.4" x2="464.7" y2="427.6"/>
<linearGradient id="g3_14" href="#cm" x1="284" y1="365.4" x2="464.1" y2="429.2"/>
<linearGradient id="g3_15" href="#cm" x1="283.4" y1="367.4" x2="463.6" y2="430.9"/>
<linearGradient id="g3_16" href="#cm" x1="282.8" y1="369.4" x2="463.1" y2="432.4"/>
<linearGradient id="g3_17" href="#cm" x1="282.1" y1="371.4" x2="462.7" y2="434"/>
<linearGradient id="g3_18" href="#cm" x1="281.4" y1="373.4" x2="462.4" y2="435.5"/>
<linearGradient id="g3_19" href="#cm" x1="280.7" y1="375.4" x2="462.2" y2="436.9"/>
<linearGradient id="g3_20" href="#cm" x1="280" y1="377.4" x2="462" y2="438.4"/>
<linearGradient id="g3_21" href="#cm" x1="279.2" y1="379.4" x2="461.7" y2="440"/>
<linearGradient id="g3_22" href="#cm" x1="278.5" y1="381.4" x2="461.4" y2="441.8"/>
<linearGradient id="g3_23" href="#cm" x1="277.7" y1="383.4" x2="460.9" y2="443.7"/>
<linearGradient id="g3_24" href="#cm" x1="276.9" y1="385.4" x2="460.2" y2="446"/>
<linearGradient id="g3_25" href="#cm" x1="276.1" y1="387.4" x2="459.1" y2="448.7"/>
<linearGradient id="g3_26" href="#cm" x1="275.3" y1="389.4" x2="458" y2="451.5"/>
<linearGradient id="g3_27" href="#cm" x1="274.5" y1="391.4" x2="457.1" y2="454.1"/>
<linearGradient id="g3_28" href="#cm" x1="273.7" y1="393.4" x2="456.2" y2="456.5"/>
<linearGradient id="g3_29" href="#cm" x1="272.9" y1="395.4" x2="455.5" y2="458.7"/>
<linearGradient id="g3_30" href="#cm" x1="272.1" y1="397.4" x2="454.9" y2="460.8"/>
<linearGradient id="g3_31" href="#cm" x1="271.3" y1="399.4" x2="454.4" y2="462.7"/>
<linearGradient id="g3_32" href="#cm" x1="270.5" y1="401.4" x2="454" y2="464.4"/>
<linearGradient id="g3_33" href="#cm" x1="269.8" y1="403.4" x2="453.7" y2="466"/>
<linearGradient id="g3_34" href="#cm" x1="269.1" y1="405.4" x2="453.5" y2="467.4"/>
<linearGradient id="g3_35" href="#cm" x1="268.4" y1="407.4" x2="453.4" y2="468.7"/>
<linearGradient id="g3_36" href="#cm" x1="267.7" y1="409.4" x2="453.5" y2="469.7"/>
<linearGradient id="g3_37" href="#cm" x1="267.2" y1="411.4" x2="453.7" y2="470.4"/>
<linearGradient id="g3_38" href="#cm" x1="266.6" y1="413.4" x2="453.6" y2="471.4"/>
<linearGradient id="g3_39" href="#cm" x1="266.1" y1="415.4" x2="453.4" y2="472.6"/>
<linearGradient id="g3_40" href="#cm" x1="265.7" y1="417.4" x2="453.2" y2="473.8"/>
<linearGradient id="g3_41" href="#cm" x1="265.2" y1="419.4" x2="453" y2="474.9"/>
<linearGradient id="g3_42" href="#cm" x1="264.8" y1="421.4" x2="452.9" y2="475.9"/>
<linearGradient id="g3_43" href="#cm" x1="264.4" y1="423.4" x2="452.7" y2="476.9"/>
<linearGradient id="g3_44" href="#cm" x1="264" y1="425.4" x2="452.5" y2="477.9"/>
<linearGradient id="g3_45" href="#cm" x1="263.7" y1="427.4" x2="451.3" y2="480.6"/>
<linearGradient id="g3_46" href="#cm" x1="263.3" y1="429.4" x2="449.7" y2="483.8"/>
<linearGradient id="g3_47" href="#cm" x1="262.9" y1="431.4" x2="449" y2="485.6"/>
<linearGradient id="g3_48" href="#cm" x1="262.5" y1="433.4" x2="448.5" y2="487.2"/>
<linearGradient id="g3_49" href="#cm" x1="262.2" y1="435.4" x2="447.9" y2="488.7"/>
<linearGradient id="g3_50" href="#cm" x1="261.9" y1="437.4" x2="447.4" y2="490.2"/>
<linearGradient id="g3_51" href="#cm" x1="261.6" y1="439.4" x2="446.7" y2="491.7"/>
<linearGradient id="g3_52" href="#cm" x1="261.4" y1="441.4" x2="446.1" y2="493.2"/>
<linearGradient id="g3_53" href="#cm" x1="261.2" y1="443.4" x2="445.4" y2="494.8"/>
<linearGradient id="g3_54" href="#cm" x1="261" y1="445.4" x2="444.5" y2="496.5"/>
<linearGradient id="g3_55" href="#cm" x1="260.9" y1="447.4" x2="443.7" y2="498.1"/>
<linearGradient id="g3_56" href="#cm" x1="260.7" y1="449.4" x2="443" y2="499.7"/>
<linearGradient id="g3_57" href="#cm" x1="260.6" y1="451.4" x2="442" y2="501.6"/>
<linearGradient id="g3_58" href="#cm" x1="260.4" y1="453.4" x2="440.9" y2="503.7"/>
<linearGradient id="g3_59" href="#cm" x1="260.2" y1="455.4" x2="439.7" y2="506"/>
<linearGradient id="g3_60" href="#cm" x1="260.1" y1="457.4" x2="438.4" y2="508.4"/>
<linearGradient id="g3_61" href="#cm" x1="259.9" y1="459.4" x2="437" y2="511"/>
<linearGradient id="g3_62" href="#cm" x1="259.7" y1="461.4" x2="435.4" y2="513.8"/>
<linearGradient id="g3_63" href="#cm" x1="259.6" y1="463.4" x2="433.5" y2="517"/>
<linearGradient id="g3_64" href="#cm" x1="259.4" y1="465.4" x2="431.4" y2="520.3"/>
<linearGradient id="g3_65" href="#cm" x1="259.2" y1="467.4" x2="429.8" y2="522.8"/>
<linearGradient id="g3_66" href="#cm" x1="259.1" y1="469.4" x2="428.5" y2="524.9"/>
<linearGradient id="g3_67" href="#cm" x1="258.9" y1="471.4" x2="427.5" y2="526.4"/>
<linearGradient id="g3_68" href="#cm" x1="258.8" y1="473.4" x2="426.9" y2="527.5"/>
<linearGradient id="g3_69" href="#cm" x1="258.7" y1="475.4" x2="426" y2="529"/>
<linearGradient id="g3_70" href="#cm" x1="258.5" y1="477.4" x2="424.7" y2="531"/>
<linearGradient id="g3_71" href="#cm" x1="258.3" y1="479.4" x2="423.4" y2="533.2"/>
<linearGradient id="g3_72" href="#cm" x1="258.2" y1="481.4" x2="421.9" y2="535.5"/>
<linearGradient id="g3_73" href="#cm" x1="258" y1="483.4" x2="420.3" y2="537.9"/>
<linearGradient id="g3_74" href="#cm" x1="257.7" y1="485.4" x2="418.7" y2="540.4"/>
<linearGradient id="g3_75" href="#cm" x1="257.5" y1="487.4" x2="416.9" y2="543.1"/>
<linearGradient id="g3_76" href="#cm" x1="257.2" y1="489.4" x2="415" y2="545.9"/>
<linearGradient id="g3_77" href="#cm" x1="256.9" y1="491.4" x2="412.2" y2="549.8"/>
<linearGradient id="g3_78" href="#cm" x1="256.5" y1="493.4" x2="408.5" y2="554.4"/>
<linearGradient id="g3_79" href="#cm" x1="255.9" y1="495.4" x2="405.7" y2="557.9"/>
<linearGradient id="g3_80" href="#cm" x1="255.4" y1="497.4" x2="405.1" y2="559.3"/>
<linearGradient id="g3_81" href="#cm" x1="254.9" y1="499.4" x2="404.8" y2="560.3"/>
<linearGradient id="g3_82" href="#cm" x1="254.4" y1="501.4" x2="403.8" y2="562.1"/>
<linearGradient id="g3_83" href="#cm" x1="253.9" y1="503.4" x2="402.8" y2="563.8"/>
<linearGradient id="g3_84" href="#cm" x1="253.4" y1="505.4" x2="401.7" y2="565.6"/>
<linearGradient id="g3_85" href="#cm" x1="252.9" y1="507.4" x2="400.7" y2="567.4"/>
<linearGradient id="g3_86" href="#cm" x1="252.4" y1="509.4" x2="399.6" y2="569.2"/>
<linearGradient id="g3_87" href="#cm" x1="251.9" y1="511.4" x2="398.6" y2="570.9"/>
<linearGradient id="g3_88" href="#cm" x1="251.5" y1="513.4" x2="397.5" y2="572.7"/>
<linearGradient id="g3_89" href="#cm" x1="251" y1="515.4" x2="396.5" y2="574.5"/>
<linearGradient id="g3_90" href="#cm" x1="250.5" y1="517.4" x2="395.5" y2="576.3"/>
<linearGradient id="g3_91" href="#cm" x1="250" y1="519.4" x2="394.4" y2="578.1"/>
<linearGradient id="g3_92" href="#cm" x1="249.5" y1="521.4" x2="393.4" y2="579.8"/>
<linearGradient id="g3_93" href="#cm" x1="249" y1="523.4" x2="392.3" y2="581.6"/>
<linearGradient id="g3_94" href="#cm" x1="248.5" y1="525.4" x2="391.3" y2="583.4"/>
<linearGradient id="g3_95" href="#cm" x1="248" y1="527.4" x2="390.3" y2="585.2"/>
<linearGradient id="g3_96" href="#cm" x1="247.5" y1="529.4" x2="389.2" y2="586.9"/>
<linearGradient id="g3_97" href="#cm" x1="247" y1="531.4" x2="388.2" y2="588.7"/>
<linearGradient id="g3_98" href="#cm" x1="246.5" y1="533.4" x2="387.1" y2="590.5"/>
<linearGradient id="g3_99" href="#cm" x1="246" y1="535.4" x2="386.1" y2="592.3"/>
<linearGradient id="g3_100" href="#cm" x1="245.5" y1="537.4" x2="385" y2="594"/>
<linearGradient id="g3_101" href="#cm" x1="245.1" y1="539.4" x2="384" y2="595.8"/>
<linearGradient id="g3_102" href="#cm" x1="244.6" y1="541.4" x2="383" y2="597.6"/>
<linearGradient id="g3_103" href="#cm" x1="244.1" y1="543.4" x2="381.9" y2="599.4"/>
<linearGradient id="g3_104" href="#cm" x1="243.6" y1="545.4" x2="380.9" y2="601.2"/>
<linearGradient id="g3_105" href="#cm" x1="243.1" y1="547.4" x2="379.8" y2="602.9"/>
<linearGradient id="g3_106" href="#cm" x1="242.6" y1="549.4" x2="378.8" y2="604.7"/>
<linearGradient id="g3_107" href="#cm" x1="242.1" y1="551.4" x2="377.8" y2="606.5"/>
<linearGradient id="g3_108" href="#cm" x1="241.6" y1="553.4" x2="376.7" y2="608.3"/>
<linearGradient id="g3_109" href="#cm" x1="241.1" y1="555.4" x2="375.7" y2="610"/>
<linearGradient id="g3_110" href="#cm" x1="240.6" y1="557.4" x2="374.6" y2="611.8"/>
<linearGradient id="g3_111" href="#cm" x1="240.1" y1="559.4" x2="373.6" y2="613.6"/>
<linearGradient id="g3_112" href="#cm" x1="239.6" y1="561.4" x2="372.5" y2="615.4"/>
<linearGradient id="g3_113" href="#cm" x1="239.2" y1="563.4" x2="371.5" y2="617.1"/>
<clipPath id="p4"><rect x="25.1" y="623.4" width="207.3" height="226.2"/></clipPath>
<linearGradient id="g4_0" href="#cm" x1="16.3" y1="624.4" x2="192.6" y2="689.6"/>
<linearGradient id="g4_1" href="#cm" x1="15.4" y1="626.4" x2="192.1" y2="691.6"/>
<linearGradient id="g4_2" href="#cm" x1="14.5" y1="628.4" x2="191.5" y2="693.7"/>
<linearGradient id="g4_3" href="#cm" x1="13.5" y1="630.4" x2="190.9" y2="695.8"/>
<linearGradient id="g4_4" href="#cm" x1="12.6" y1="632.4" x2="190.4" y2="697.9"/>
<linearGradient id="g4_5" href="#cm" x1="11.7" y1="634.4" x2="189.8" y2="700"/>
<linearGradient id="g4_6" href="#cm" x1="10.8" y1="636.4" x2="189.2" y2="702"/>
<linearGradient id="g4_7" href="#cm" x1="9.9" y1="638.4" x2="188.6" y2="704.1"/>
<linearGradient id="g4_8" href="#cm" x1="9.1" y1="640.4" x2="188" y2="706.2"/>
<linearGradient id="g4_9" href="#cm" x1="8.2" y1="642.4" x2="187.3" y2="708.4"/>
<linearGradient id="g4_10" href="#cm" x1="7.3" y1="644.4" x2="186.6" y2="710.5"/>
<linearGradient id="g4_11" href="#cm" x1="6.4" y1="646.4" x2="185.9" y2="712.7"/>
<linearGradient id="g4_12" href="#cm" x1="5.6" y1="648.4" x2="185.3" y2="714.6"/>
<linearGradient id="g4_13" href="#cm" x1="4.7" y1="650.4" x2="184.9" y2="716.5"/>
<linearGradient id="g4_14" href="#cm" x1="3.9" y1="652.4" x2="184.4" y2="718.3"/>
<linearGradient id="g4_15" href="#cm" x1="3" y1="654.4" x2="184" y2="720.2"/>
<linearGradient id="g4_16" href="#cm" x1="2.2" y1="656.4" x2="183.5" y2="722"/>
<linearGradient id="g4_17" href="#cm" x1="1.4" y1="658.4" x2="183" y2="723.9"/>
<linearGradient id="g4_18" href="#cm" x1="0.6" y1="660.4" x2="182.5" y2="725.8"/>
<linearGradient id="g4_19" href="#cm" x1="-0.1" y1="662.4" x2="181.8" y2="727.8"/>
<linearGradient id="g4_20" href="#cm" x1="-0.9" y1="664.4" x2="181.1" y2="729.8"/>
<linearGradient id="g4_21" href="#cm" x1="-1.6" y1="666.4" x2="180.4" y2="731.8"/>
<linearGradient id="g4_22" href="#cm" x1="-2.3" y1="668.4" x2="179.6" y2="733.8"/>
<linearGradient id="g4_23" href="#cm" x1="-2.9" y1="670.4" x2="178.7" y2="735.9"/>
<linearGradient id="g4_24" href="#cm" x1="-3.5" y1="672.4" x2="177.8" y2="738"/>
<linearGradient id="g4_25" href="#cm" x1="-4.2" y1="674.4" x2="176.9" y2="740.1"/>
<linearGradient id="g4_26" href="#cm" x1="-4.8" y1="676.4" x2="175.8" y2="742.3"/>
<linearGradient id="g4_27" href="#cm" x1="-5.4" y1="678.4" x2="174.6" y2="744.6"/>
<linearGradient id="g4_28" href="#cm" x1="-6" y1="680.4" x2="173.2" y2="747.1"/>
<linearGradient id="g4_29" href="#cm" x1="-6.6" y1="682.4" x2="171.9" y2="749.6"/>
<linearGradient id="g4_30" href="#cm" x1="-7.2" y1="684.4" x2="171" y2="751.6"/>
<linearGradient id="g4_31" href="#cm" x1="-7.9" y1="686.4" x2="170.5" y2="753.2"/>
<linearGradient id="g4_32" href="#cm" x1="-8.6" y1="688.4" x2="170.1" y2="754.6"/>
<linearGradient id="g4_33" href="#cm" x1="-9.2" y1="690.4" x2="169.9" y2="756"/>
<linearGradient id="g4_34" href="#cm" x1="-9.9" y1="692.4" x2="169.6" y2="757.4"/>
<linearGradient id="g4_35" href="#cm" x1="-10.6" y1="694.4" x2="169.1" y2="759"/>
<linearGradient id="g4_36" href="#cm" x1="-11.3" y1="696.4" x2="168.7" y2="760.6"/>
<linearGradient id="g4_37" href="#cm" x1="-12" y1="698.4" x2="168.3" y2="762.2"/>
<linearGradient id="g4_38" href="#cm" x1="-12.7" y1="700.4" x2="167.9" y2="763.8"/>
<linearGradient id="g4_39" href="#cm" x1="-13.4" y1="702.4" x2="167.4" y2="765.6"/>
<linearGradient id="g4_40" href="#cm" x1="-14.1" y1="704.4" x2="166.8" y2="767.4"/>
<linearGradient id="g4_41" href="#cm" x1="-14.8" y1="706.4" x2="166.2" y2="769.3"/>
<linearGradient id="g4_42" href="#cm" x1="-15.4" y1="708.4" x2="165.6" y2="771.1"/>
<linearGradient id="g4_43" href="#cm" x1="-16.1" y1="710.4" x2="165" y2="773"/>
<linearGradient id="g4_44" href="#cm" x1="-16.8" y1="712.4" x2="164.4" y2="774.9"/>
<linearGradient id="g4_45" href="#cm" x1="-17.5" y1="714.4" x2="163.8" y2="776.8"/>
<linearGradient id="g4_46" href="#cm" x1="-18.2" y1="716.4" x2="163.1" y2="778.9"/>
<linearGradient id="g4_47" href="#cm" x1="-18.9" y1="718.4" x2="162.3" y2="781"/>
<linearGradient id="g4_48" href="#cm" x1="-19.6" y1="720.4" x2="161.6" y2="783.1"/>
<linearGradient id="g4_49" href="#cm" x1="-20.3" y1="722.4" x2="160.9" y2="785.1"/>
<linearGradient id="g4_50" href="#cm" x1="-21.1" y1="724.4" x2="160.2" y2="787.1"/>
<linearGradient id="g4_51" href="#cm" x1="-21.8" y1="726.4" x2="159.5" y2="789.2"/>
<linearGradient id="g4_52" href="#cm" x1="-22.5" y1="728.4" x2="158.9" y2="791.2"/>
<linearGradient id="g4_53" href="#cm" x1="-23.2" y1="730.4" x2="158.2" y2="793.2"/>
<linearGradient id="g4_54" href="#cm" x1="-23.9" y1="732.4" x2="157.6" y2="795.1"/>
<linearGradient id="g4_55" href="#cm" x1="-24.7" y1="734.4" x2="156.9" y2="797.1"/>
<linearGradient id="g4_56" href="#cm" x1="-25.4" y1="736.4" x2="156.3" y2="799.1"/>
<linearGradient id="g4_57" href="#cm" x1="-26.1" y1="738.4" x2="155.5" y2="801.3"/>
<linearGradient id="g4_58" href="#cm" x1="-26.8" y1="740.4" x2="154.5" y2="803.6"/>
<linearGradient id="g4_59" href="#cm" x1="-27.5" y1="742.4" x2="153.6" y2="805.9"/>
<linearGradient id="g4_60" href="#cm" x1="-28.2" y1="744.4" x2="152.7" y2="808.2"/>
<linearGradient id="g4_61" href="#cm" x1="-29" y1="746.4" x2="151.9" y2="810.3"/>
<linearGradient id="g4_62" href="#cm" x1="-29.7" y1="748.4" x2="151.2" y2="812.4"/>
<linearGradient id="g4_63" href="#cm" x1="-30.4" y1="750.4" x2="150.5" y2="814.4"/>
<linearGradient id="g4_64" href="#cm" x1="-31.1" y1="752.4" x2="149.8" y2="816.4"/>
<linearGradient id="g4_65" href="#cm" x1="-31.9" y1="754.4" x2="149.2" y2="818.4"/>
<linearGradient id="g4_66" href="#cm" x1="-32.6" y1="756.4" x2="148.6" y2="820.3"/>
<linearGradient id="g4_67" href="#cm" x1="-33.3" y1="758.4" x2="148" y2="822"/>
<linearGradient id="g4_68" href="#cm" x1="-34" y1="760.4" x2="147.7" y2="823.6"/>
<linearGradient id="g4_69" href="#cm" x1="-34.7" y1="762.4" x2="147.4" y2="825"/>
<linearGradient id="g4_70" href="#cm" x1="-35.3" y1="764.4" x2="147.2" y2="826.4"/>
<linearGradient id="g4_71" href="#cm" x1="-36" y1="766.4" x2="147" y2="827.8"/>
<linearGradient id="g4_72" href="#cm" x1="-36.6" y1="768.4" x2="146.8" y2="829"/>
<linearGradient id="g4_73" href="#cm" x1="-37.2" y1="770.4" x2="146.5" y2="830.4"/>
<linearGradient id="g4_74" href="#cm" x1="-37.7" y1="772.4" x2="146.1" y2="832"/>
<linearGradient id="g4_75" href="#cm" x1="-38.3" y1="774.4" x2="145.6" y2="833.6"/>
<linearGradient id="g4_76" href="#cm" x1="-38.9" y1="776.4" x2="145" y2="835.3"/>
<linearGradient id="g4_77" href="#cm" x1="-39.4" y1="778.4" x2="144.5" y2="837.1"/>
<linearGradient id="g4_78" href="#cm" x1="-40" y1="780.4" x2="143.9" y2="838.8"/>
<linearGradient id="g4_79" href="#cm" x1="-40.5" y1="782.4" x2="143.5" y2="840.4"/>
<linearGradient id="g4_80" href="#cm" x1="-41" y1="784.4" x2="143" y2="842"/>
<linearGradient id="g4_81" href="#cm" x1="-41.5" y1="786.4" x2="142.5" y2="843.6"/>
<linearGradient id="g4_82" href="#cm" x1="-42" y1="788.4" x2="142" y2="845.1"/>
<linearGradient id="g4_83" href="#cm" x1="-42.5" y1="790.4" x2="141.3" y2="847.2"/>
<linearGradient id="g4_84" href="#cm" x1="-43" y1="792.4" x2="140" y2="849.8"/>
<linearGradient id="g4_85" href="#cm" x1="-43.6" y1="794.4" x2="139" y2="852.2"/>
<linearGradient id="g4_86" href="#cm" x1="-44.1" y1="796.4" x2="138.3" y2="854.2"/>
<linearGradient id="g4_87" href="#cm" x1="-44.6" y1="798.4" x2="137.6" y2="856.1"/>
<linearGradient id="g4_88" href="#cm" x1="-45.2" y1="800.4" x2="136.9" y2="858.1"/>
<linearGradient id="g4_89" href="#cm" x1="-45.7" y1="802.4" x2="136.1" y2="860"/>
<linearGradient id="g4_90" href="#cm" x1="-46.2" y1="804.4" x2="135.4" y2="861.9"/>
<linearGradient id="g4_91" href="#cm" x1="-46.8" y1="806.4" x2="134.7" y2="863.9"/>
<linearGradient id="g4_92" href="#cm" x1="-47.3" y1="808.4" x2="134" y2="865.8"/>
<linearGradient id="g4_93" href="#cm" x1="-47.8" y1="810.4" x2="133.3" y2="867.8"/>
<linearGradient id="g4_94" href="#cm" x1="-48.4" y1="812.4" x2="132.6" y2="869.7"/>
<linearGradient id="g4_95" href="#cm" x1="-48.9" y1="814.4" x2="131.9" y2="871.7"/>
<linearGradient id="g4_96" href="#cm" x1="-49.4" y1="816.4" x2="131.1" y2="873.6"/>
<linearGradient id="g4_97" href="#cm" x1="-50" y1="818.4" x2="130.4" y2="875.5"/>
<linearGradient id="g4_98" href="#cm" x1="-50.5" y1="820.4" x2="129.7" y2="877.5"/>
<linearGradient id="g4_99" href="#cm" x1="-51" y1="822.4" x2="129" y2="879.4"/>
<linearGradient id="g4_100" href="#cm" x1="-51.6" y1="824.4" x2="128.3" y2="881.4"/>
<linearGradient id="g4_101" href="#cm" x1="-52.1" y1="826.4" x2="127.6" y2="883.3"/>
<linearGradient id="g4_102" href="#cm" x1="-52.7" y1="828.4" x2="126.9" y2="885.3"/>
<linearGradient id="g4_103" href="#cm" x1="-53.2" y1="830.4" x2="126.2" y2="887.2"/>
<linearGradient id="g4_104" href="#cm" x1="-53.7" y1="832.4" x2="125.4" y2="889.1"/>
<linearGradient id="g4_105" href="#cm" x1="-54.3" y1="834.4" x2="124.7" y2="891.1"/>
<linearGradient id="g4_106" href="#cm" x1="-54.8" y1="836.4" x2="124" y2="893"/>
<linearGradient id="g4_107" href="#cm" x1="-55.3" y1="838.4" x2="123.3" y2="895"/>
<linearGradient id="g4_108" href="#cm" x1="-55.9" y1="840.4" x2="122.6" y2="896.9"/>
<linearGradient id="g4_109" href="#cm" x1="-56.4" y1="842.4" x2="121.9" y2="898.9"/>
<linearGradient id="g4_110" href="#cm" x1="-56.9" y1="844.4" x2="121.2" y2="900.8"/>
<linearGradient id="g4_111" href="#cm" x1="-57.5" y1="846.4" x2="120.4" y2="902.7"/>
<linearGradient id="g4_112" href="#cm" x1="-58" y1="848.4" x2="119.7" y2="904.7"/>
<linearGradient id="g4_113" href="#cm" x1="-58.5" y1="850.4" x2="119" y2="906.6"/>
<clipPath id="p5"><rect x="330.7" y="623.4" width="207.3" height="226.2"/></clipPath>
<linearGradient id="g5_0" href="#cm" x1="292.1" y1="624.4" x2="474.3" y2="691.3"/>
<linearGradient id="g5_1" href="#cm" x1="291.5" y1="626.4" x2="473.3" y2="693.3"/>
<linearGradient id="g5_2" href="#cm" x1="291" y1="628.4" x2="472.6" y2="695"/>
<linearGradient id="g5_3" href="#cm" x1="290.4" y1="630.4" x2="471.9" y2="696.8"/>
<linearGradient id="g5_4" href="#cm" x1="289.8" y1="632.4" x2="471.2" y2="698.6"/>
<linearGradient id="g5_5" href="#cm" x1="289.2" y1="634.4" x2="470.5" y2="700.3"/>
<linearGradient id="g5_6" href="#cm" x1="288.6" y1="636.4" x2="469.8" y2="702.1"/>
<linearGradient id="g5_7" href="#cm" x1="288" y1="638.4" x2="469.1" y2="703.8"/>
<linearGradient id="g5_8" href="#cm" x1="287.4" y1="640.4" x2="468.3" y2="705.7"/>
<linearGradient id="g5_9" href="#cm" x1="286.8" y1="642.4" x2="467.5" y2="707.5"/>
<linearGradient id="g5_10" href="#cm" x1="286.3" y1="644.4" x2="466.8" y2="709.4"/>
<linearGradient id="g5_11" href="#cm" x1="285.7" y1="646.4" x2="466" y2="711.1"/>
<linearGradient id="g5_12" href="#cm" x1="285.1" y1="648.4" x2="465.3" y2="712.9"/>
<linearGradient id="g5_13" href="#cm" x1="284.6" y1="650.4" x2="464.7" y2="714.6"/>
<linearGradient id="g5_14" href="#cm" x1="284" y1="652.4" x2="464.1" y2="716.2"/>
<linearGradient id="g5_15" href="#cm" x1="283.4" y1="654.4" x2="463.6" y2="717.9"/>
<linearGradient id="g5_16" href="#cm" x1="282.8" y1="656.4" x2="463.1" y2="719.4"/>
<linearGradient id="g5_17" href="#cm" x1="282.1" y1="658.4" x2="462.7" y2="721"/>
<linearGradient id="g5_18" href="#cm" x1="281.4" y1="660.4" x2="462.4" y2="722.5"/>
<linearGradient id="g5_19" href="#cm" x1="280.7" y1="662.4" x2="462.2" y2="723.9"/>
<linearGradient id="g5_20" href="#cm" x1="280" y1="664.4" x2="462" y2="725.4"/>
<linearGradient id="g5_21" href="#cm" x1="279.2" y1="666.4" x2="461.7" y2="727"/>
<linearGradient id="g5_22" href="#cm" x1="278.5" y1="668.4" x2="461.4" y2="728.8"/>
<linearGradient id="g5_23" href="#cm" x1="277.7" y1="670.4" x2="460.9" y2="730.7"/>
<linearGradient id="g5_24" href="#cm" x1="276.9" y1="672.4" x2="460.2" y2="733"/>
<linearGradient id="g5_25" href="#cm" x1="276.1" y1="674.4" x2="459.1" y2="735.7"/>
<linearGradient id="g5_26" href="#cm" x1="275.3" y1="676.4" x2="458" y2="738.5"/>
<linearGradient id="g5_27" href="#cm" x1="274.5" y1="678.4" x2="457.1" y2="741.1"/>
<linearGradient id="g5_28" href="#cm" x1="273.7" y1="680.4" x2="456.2" y2="743.5"/>
<linearGradient id="g5_29" href="#cm" x1="272.9" y1="682.4" x2="455.5" y2="745.7"/>
<linearGradient id="g5_30" href="#cm" x1="272.1" y1="684.4" x2="454.9" y2="747.8"/>
<linearGradient id="g5_31" href="#cm" x1="271.3" y1="686.4" x2="454.4" y2="749.7"/>
<linearGradient id="g5_32" href="#cm" x1="270.5" y1="688.4" x2="454" y2="751.4"/>
<linearGradient id="g5_33" href="#cm" x1="269.8" y1="690.4" x2="453.7" y2="753"/>
<linearGradient id="g5_34" href="#cm" x1="269.1" y1="692.4" x2="453.5" y2="754.4"/>
<linearGradient id="g5_35" href="#cm" x1="268.4" y1="694.4" x2="453.4" y2="755.7"/>
<linearGradient id="g5_36" href="#cm" x1="267.7" y1="696.4" x2="453.5" y2="756.7"/>
<linearGradient id="g5_37" href="#cm" x1="267.2" y1="698.4" x2="453.7" y2="757.4"/>
<linearGradient id="g5_38" href="#cm" x1="266.6" y1="700.4" x2="453.6" y2="758.4"/>
<linearGradient id="g5_39" href="#cm" x1="266.1" y1="702.4" x2="453.4" y2="759.6"/>
<linearGradient id="g5_40" href="#cm" x1="265.7" y1="704.4" x2="453.2" y2="760.8"/>
<linearGradient id="g5_41" href="#cm" x1="265.2" y1="706.4" x2="453" y2="761.9"/>
<linearGradient id="g5_42" href="#cm" x1="264.8" y1="708.4" x2="452.9" y2="762.9"/>
<linearGradient id="g5_43" href="#cm" x1="264.4" y1="710.4" x2="452.7" y2="763.9"/>
<linearGradient id="g5_44" href="#cm" x1="264" y1="712.4" x2="452.5" y2="764.9"/>
<linearGradient id="g5_45" href="#cm" x1="263.7" y1="714.4" x2="451.3" y2="767.6"/>
<linearGradient id="g5_46" href="#cm" x1="263.3" y1="716.4" x2="449.7" y2="770.8"/>
<linearGradient id="g5_47" href="#cm" x1="262.9" y1="718.4" x2="449" y2="772.6"/>
<linearGradient id="g5_48" href="#cm" x1="262.5" y1="720.4" x2="448.5" y2="774.2"/>
<linearGradient id="g5_49" href="#cm" x1="262.2" y1="722.4" x2="447.9" y2="775.7"/>
<linearGradient id="g5_50" href="#cm" x1="261.9" y1="724.4" x2="447.4" y2="777.2"/>
<linearGradient id="g5_51" href="#cm" x1="261.6" y1="726.4" x2="446.7" y2="778.7"/>
<linearGradient id="g5_52" href="#cm" x1="261.4" y1="728.4" x2="446.1" y2="780.2"/>
<linearGradient id="g5_53" href="#cm" x1="261.2" y1="730.4" x2="445.4" y2="781.8"/>
<linearGradient id="g5_54" href="#cm" x1="261" y1="732.4" x2="444.5" y2="783.5"/>
<linearGradient id="g5_55" href="#cm" x1="260.9" y1="734.4" x2="443.7" y2="785.1"/>
<linearGradient id="g5_56" href="#cm" x1="260.7" y1="736.4" x2="443" y2="786.7"/>
<linearGradient id="g5_57" href="#cm" x1="260.6" y1="738.4" x2="442" y2="788.6"/>
<linearGradient id="g5_58" href="#cm" x1="260.4" y1="740.4" x2="440.9" y2="790.7"/>
<linearGradient id="g5_59" href="#cm" x1="260.2" y1="742.4" x2="439.7" y2="793"/>
<linearGradient id="g5_60" href="#cm" x1="260.1" y1="744.4" x2="438.4" y2="795.4"/>
<linearGradient id="g5_61" href="#cm" x1="259.9" y1="746.4" x2="437" y2="798"/>
<linearGradient id="g5_62" href="#cm" x1="259.7" y1="748.4" x2="435.4" y2="800.8"/>
<linearGradient id="g5_63" href="#cm" x1="259.6" y1="750.4" x2="433.5" y2="804"/>
<linearGradient id="g5_64" href="#cm" x1="259.4" y1="752.4" x2="431.4" y2="807.3"/>
<linearGradient id="g5_65" href="#cm" x1="259.2" y1="754.4" x2="429.8" y2="809.8"/>
<linearGradient id="g5_66" href="#cm" x1="259.1" y1="756.4" x2="428.5" y2="811.9"/>
<linearGradient id="g5_67" href="#cm" x1="258.9" y1="758.4" x2="427.5" y2="813.4"/>
<linearGradient id="g5_68" href="#cm" x1="258.8" y1="760.4" x2="426.9" y2="814.5"/>
<linearGradient id="g5_69" href="#cm" x1="258.7" y1="762.4" x2="426" y2="816"/>
<linearGradient id="g5_70" href="#cm" x1="258.5" y1="764.4" x2="424.7" y2="818"/>
<linearGradient id="g5_71" href="#cm" x1="258.3" y1="766.4" x2="423.4" y2="820.2"/>
<linearGradient id="g5_72" href="#cm" x1="258.2" y1="768.4" x2="421.9" y2="822.5"/>
<linearGradient id="g5_73" href="#cm" x1="258" y1="770.4" x2="420.3" y2="824.9"/>
<linearGradient id="g5_74" href="#cm" x1="257.7" y1="772.4" x2="418.7" y2="827.4"/>
<linearGradient id="g5_75" href="#cm" x1="257.5" y1="774.4" x2="416.9" y2="830.1"/>
<linearGradient id="g5_76" href="#cm" x1="257.2" y1="776.4" x2="415" y2="832.9"/>
<linearGradient id="g5_77" href="#cm" x1="256.9" y1="778.4" x2="412.2" y2="836.8"/>
<linearGradient id="g5_78" href="#cm" x1="256.5" y1="780.4" x2="408.5" y2="841.4"/>
<linearGradient id="g5_79" href="#cm" x1="255.9" y1="782.4" x2="405.7" y2="844.9"/>
<linearGradient id="g5_80" href="#cm" x1="255.4" y1="784.4" x2="405.1" y2="846.3"/>
<linearGradient id="g5_81" href="#cm" x1="254.9" y1="786.4" x2="404.8" y2="847.3"/>
<linearGradient id="g5_82" href="#cm" x1="254.4" y1="788.4" x2="403.8" y2="849.1"/>
<linearGradient id="g5_83" href="#cm" x1="253.9" y1="790.4" x2="402.8" y2="850.8"/>
<linearGradient id="g5_84" href="#cm" x1="253.4" y1="792.4" x2="401.7" y2="852.6"/>
<linearGradient id="g5_85" href="#cm" x1="252.9" y1="794.4" x2="400.7" y2="854.4"/>
<linearGradient id="g5_86" href="#cm" x1="252.4" y1="796.4" x2="399.6" y2="856.2"/>
<linearGradient id="g5_87" href="#cm" x1="251.9" y1="798.4" x2="398.6" y2="857.9"/>
<linearGradient id="g5_88" href="#cm" x1="251.5" y1="800.4" x2="397.5" y2="859.7"/>
<linearGradient id="g5_89" href="#cm" x1="251" y1="802.4" x2="396.5" y2="861.5"/>
<linearGradient id="g5_90" href="#cm" x1="250.5" y1="804.4" x2="395.5" y2="863.3"/>
<linearGradient id="g5_91" href="#cm" x1="250" y1="806.4" x2="394.4" y2="865.1"/>
<linearGradient id="g5_92" href="#cm" x1="249.5" y1="808.4" x2="393.4" y2="866.8"/>
<linearGradient id="g5_93" href="#cm" x1="249" y1="810.4" x2="392.3" y2="868.6"/>
<linearGradient id="g5_94" href="#cm" x1="248.5" y1="812.4" x2="391.3" y2="870.4"/>
<linearGradient id="g5_95" href="#cm" x1="248" y1="814.4" x2="390.3" y2="872.2"/>
<linearGradient id="g5_96" href="#cm" x1="247.5" y1="816.4" x2="389.2" y2="873.9"/>
<linearGradient id="g5_97" href="#cm" x1="247" y1="818.4" x2="388.2" y2="875.7"/>
<linearGradient id="g5_98" href="#cm" x1="246.5" y1="820.4" x2="387.1" y2="877.5"/>
<linearGradient id="g5_99" href="#cm" x1="246" y1="822.4" x2="386.1" y2="879.3"/>
<linearGradient id="g5_100" href="#cm" x1="245.5" y1="824.4" x2="385" y2="881"/>
<linearGradient id="g5_101" href="#cm" x1="245.1" y1="826.4" x2="384" y2="882.8"/>
<linearGradient id="g5_102" href="#cm" x1="244.6" y1="828.4" x2="383" y2="884.6"/>
<linearGradient id="g5_103" href="#cm" x1="244.1" y1="830.4" x2="381.9" y2="886.4"/>
<linearGradient id="g5_104" href="#cm" x1="243.6" y1="832.4" x2="380.9" y2="888.2"/>
<linearGradient id="g5_105" href="#cm" x1="243.1" y1="834.4" x2="379.8" y2="889.9"/>
<linearGradient id="g5_106" href="#cm" x1="242.6" y1="836.4" x2="378.8" y2="891.7"/>
<linearGradient id="g5_107" href="#cm" x1="242.1" y1="838.4" x2="377.8" y2="893.5"/>
<linearGradient id="g5_108" href="#cm" x1="241.6" y1="840.4" x2="376.7" y2="895.3"/>
<linearGradient id="g5_109" href="#cm" x1="241.1" y1="842.4" x2="375.7" y2="897"/>
<linearGradient id="g5_110" href="#cm" x1="240.6" y1="844.4" x2="374.6" y2="898.8"/>
<linearGradient id="g5_111" href="#cm" x1="240.1" y1="846.4" x2="373.6" y2="900.6"/>
<linearGradient id="g5_112" href="#cm" x1="239.6" y1="848.4" x2="372.5" y2="902.4"/>
<linearGradient id="g5_113" href="#cm" x1="239.2" y1="850.4" x2="371.5" y2="904.1"/>
</defs>
<g clip-path="url(#p0)">
<rect x="25.1" y="49.2" width="207.3" height="3.3" fill="url(#g0_0)"/>
<rect x="25.1" y="51.2" width="207.3" height="3.3" fill="url(#g0_1)"/>
<rect x="25.1" y="53.2" width="207.3" height="3.3" fill="url(#g0_2)"/>
<rect x="25.1" y="55.2" width="207.3" height="3.3" fill="url(#g0_3)"/>
<rect x="25.1" y="57.2" width="207.3" height="3.3" fill="url(#g0_4)"/>
<rect x="25.1" y="59.2" width="207.3" height="3.3" fill="url(#g0_5)"/>
<rect x="25.1" y="61.2" width="207.3" height="3.3" fill="url(#g0_6)"/>
<rect x="25.1" y="63.2" width="207.3" height="3.3" fill="url(#g0_7)"/>
<rect x="25.1" y="65.2" width="207.3" height="3.3" fill="url(#g0_8)"/>
<rect x="25.1" y="67.2" width="207.3" height="3.3" fill="url(#g0_9)"/>
<rect x="25.1" y="69.2" width="207.3" height="3.3" fill="url(#g0_10)"/>
<rect x="25.1" y="71.2" width="207.3" height="3.3" fill="url(#g0_11)"/>
<rect x="25.1" y="73.2" width="207.3" height="3.3" fill="url(#g0_12)"/>
<rect x="25.1" y="75.2" width="207.3" height="3.3" fill="url(#g0_13)"/>
<rect x="25.1" y="77.2" width="207.3" height="3.3" fill="url(#g0_14)"/>
<rect x="25.1" y="79.2" width="207.3" height="3.3" fill="url(#g0_15)"/>
<rect x="25.1" y="81.2" width="207.3" height="3.3" fill="url(#g0_16)"/>
<rect x="25.1" y="83.2" width="207.3" height="3.3" fill="url(#g0_17)"/>
<rect x="25.1" y="85.2" width="207.3" height="3.3" fill="url(#g0_18)"/>
<rect x="25.1" y="87.2" width="207.3" height="3.3" fill="url(#g0_19)"/>
<rect x="25.1" y="89.2" width="207.3" height="3.3" fill="url(#g0_20)"/>
<rect x="25.1" y="91.2" width="207.3" height="3.3" fill="url(#g0_21)"/>
<rect x="25.1" y="93.2" width="207.3" height="3.3" fill="url(#g0_22)"/>
<rect x="25.1" y="95.2" width="207.3" height="3.3" fill="url(#g0_23)"/>
<rect x="25.1" y="97.2" width="207.3" height="3.3" fill="url(#g0_24)"/>
<rect x="25.1" y="99.2" width="207.3" height="3.3" fill="url(#g0_25)"/>
<rect x="25.1" y="101.2" width="207.3" height="3.3" fill="url(#g0_26)"/>
<rect x="25.1" y="103.2" width="207.3" height="3.3" fill="url(#g0_27)"/>
<rect x="25.1" y="105.2" width="207.3" height="3.3" fill="url(#g0_28)"/>
<rect x="25.1" y="107.2" width="207.3" height="3.3" fill="url(#g0_29)"/>
<rect x="25.1" y="109.2" width="207.3" height="3.3" fill="url(#g0_30)"/>
<rect x="25.1" y="111.2" width="207.3" height="3.3" fill="url(#g0_31)"/>
<rect x="25.1" y="113.2" width="207.3" height="3.3" fill="url(#g0_32)"/>
<rect x="25.1" y="115.2" width="207.3" height="3.3" fill="url(#g0_33)"/>
<rect x="25.1" y="117.2" width="207.3" height="3.3" fill="url(#g0_34)"/>
<rect x="25.1" y="119.2" width="207.3" height="3.3" fill="url(#g0_35)"/>
<rect x="25.1" y="121.2" width="207.3" height="3.3" fill="url(#g0_36)"/>
<rect x="25.1" y="123.2" width="207.3" height="3.3" fill="url(#g0_37)"/>
<rect x="25.1" y="125.2" width="207.3" height="3.3" fill="url(#g0_38)"/>
<rect x="25.1" y="127.2" width="207.3" height="3.3" fill="url(#g0_39)"/>
<rect x="25.1" y="129.2" width="207.3" height="3.3" fill="url(#g0_40)"/>
<rect x="25.1" y="131.2" width="207.3" height="3.3" fill="url(#g0_41)"/>
<rect x="25.1" y="133.2" width="207.3" height="3.3" fill="url(#g0_42)"/>
<rect x="25.1" y="135.2" width="207.3" height="3.3" fill="url(#g0_43)"/>
<rect x="25.1" y="137.2" width="207.3" height="3.3" fill="url(#g0_44)"/>
<rect x="25.1" y="139.2" width="207.3" height="3.3" fill="url(#g0_45)"/>
<rect x="25.1" y="141.2" width="207.3" height="3.3" fill="url(#g0_46)"/>
<rect x="25.1" y="143.2" width="207.3" height="3.3" fill="url(#g0_47)"/>
<rect x="25.1" y="145.2" width="207.3" height="3.3" fill="url(#g0_48)"/>
<rect x="25.1" y="147.2" width="207.3" height="3.3" fill="url(#g0_49)"/>
<rect x="25.1" y="149.2" width="207.3" height="3.3" fill="url(#g0_50)"/>
<rect x="25.1" y="151.2" width="207.3" height="3.3" fill="url(#g0_51)"/>
<rect x="25.1" y="153.2" width="207.3" height="3.3" fill="url(#g0_52)"/>
<rect x="25.1" y="155.2" width="207.3" height="3.3" fill="url(#g0_53)"/>
<rect x="25.1" y="157.2" width="207.3" height="3.3" fill="url(#g0_54)"/>
<rect x="25.1" y="159.2" width="207.3" height="3.3" fill="url(#g0_55)"/>
<rect x="25.1" y="161.2" width="207.3" height="3.3" fill="url(#g0_56)"/>
<rect x="25.1" y="163.2" width="207.3" height="3.3" fill="url(#g0_57)"/>
<rect x="25.1" y="165.2" width="207.3" height="3.3" fill="url(#g0_58)"/>
<rect x="25.1" y="167.2" width="207.3" height="3.3" fill="url(#g0_59)"/>
<rect x="25.1" y="169.2" width="207.3" height="3.3" fill="url(#g0_60)"/>
<rect x="25.1" y="171.2" width="207.3" height="3.3" fill="url(#g0_61)"/>
<rect x="25.1" y="173.2" width="207.3" height="3.3" fill="url(#g0_62)"/>
<rect x="25.1" y="175.2" width="207.3" height="3.3" fill="url(#g0_63)"/>
<rect x="25.1" y="177.2" width="207.3" height="3.3" fill="url(#g0_64)"/>
<rect x="25.1" y="179.2" width="207.3" height="3.3" fill="url(#g0_65)"/>
<rect x="25.1" y="181.2" width="207.3" height="3.3" fill="url(#g0_66)"/>
<rect x="25.1" y="183.2" width="207.3" height="3.3" fill="url(#g0_67)"/>
<rect x="25.1" y="185.2" width="207.3" height="3.3" fill="url(#g0_68)"/>
<rect x="25.1" y="187.2" width="207.3" height="3.3" fill="url(#g0_69)"/>
<rect x="25.1" y="189.2" width="207.3" height="3.3" fill="url(#g0_70)"/>
<rect x="25.1" y="191.2" width="207.3" height="3.3" fill="url(#g0_71)"/>
<rect x="25.1" y="193.2" width="207.3" height="3.3" fill="url(#g0_72)"/>
<rect x="25.1" y="195.2" width="207.3" height="3.3" fill="url(#g0_73)"/>
<rect x="25.1" y="197.2" width="207.3" height="3.3" fill="url(#g0_74)"/>
<rect x="25.1" y="199.2" width="207.3" height="3.3" fill="url(#g0_75)"/>
<rect x="25.1" y="201.2" width="207.3" height="3.3" fill="url(#g0_76)"/>
<rect x="25.1" y="203.2" width="207.3" height="3.3" fill="url(#g0_77)"/>
<rect x="25.1" y="205.2" width="207.3" height="3.3" fill="url(#g0_78)"/>
<rect x="25.1" y="207.2" width="207.3" height="3.3" fill="url(#g0_79)"/>
<rect x="25.1" y="209.2" width="207.3" height="3.3" fill="url(#g0_80)"/>
<rect x="25.1" y="211.2" width="207.3" height="3.3" fill="url(#g0_81)"/>
<rect x="25.1" y="213.2" width="207.3" height="3.3" fill="url(#g0_82)"/>
<rect x="25.1" y="215.2" width="207.3" height="3.3" fill="url(#g0_83)"/>
<rect x="25.1" y="217.2" width="207.3" height="3.3" fill="url(#g0_84)"/>
<rect x="25.1" y="219.2" width="207.3" height="3.3" fill="url(#g0_85)"/>
<rect x="25.1" y="221.2" width="207.3" height="3.3" fill="url(#g0_86)"/>
<rect x="25.1" y="223.2" width="207.3" height="3.3" fill="url(#g0_87)"/>
<rect x="25.1" y="225.2" width="207.3" height="3.3" fill="url(#g0_88)"/>
<rect x="25.1" y="227.2" width="207.3" height="3.3" fill="url(#g0_89)"/>
<rect x="25.1" y="229.2" width="207.3" height="3.3" fill="url(#g0_90)"/>
<rect x="25.1" y="231.2" width="207.3" height="3.3" fill="url(#g0_91)"/>
<rect x="25.1" y="233.2" width="207.3" height="3.3" fill="url(#g0_92)"/>
<rect x="25.1" y="235.2" width="207.3" height="3.3" fill="url(#g0_93)"/>
<rect x="25.1" y="237.2" width="207.3" height="3.3" fill="url(#g0_94)"/>
<rect x="25.1" y="239.2" width="207.3" height="3.3" fill="url(#g0_95)"/>
<rect x="25.1" y="241.2" width="207.3" height="3.3" fill="url(#g0_96)"/>
<rect x="25.1" y="243.2" width="207.3" height="3.3" fill="url(#g0_97)"/>
<rect x="25.1" y="245.2" width="207.3" height="3.3" fill="url(#g0_98)"/>
<rect x="25.1" y="247.2" width="207.3" height="3.3" fill="url(#g0_99)"/>
<rect x="25.1" y="249.2" width="207.3" height="3.3" fill="url(#g0_100)"/>
<rect x="25.1" y="251.2" width="207.3" height="3.3" fill="url(#g0_101)"/>
<rect x="25.1" y="253.2" width="207.3" height="3.3" fill="url(#g0_102)"/>
<rect x="25.1" y="255.2" width="207.3" height="3.3" fill="url(#g0_103)"/>
<rect x="25.1" y="257.2" width="207.3" height="3.3" fill="url(#g0_104)"/>
<rect x="25.1" y="259.2" width="207.3" height="3.3" fill="url(#g0_105)"/>
<rect x="25.1" y="261.2" width="207.3" height="3.3" fill="url(#g0_106)"/>
<rect x="25.1" y="263.2" width="207.3" height="3.3" fill="url(#g0_107)"/>
<rect x="25.1" y="265.2" width="207.3" height="3.3" fill="url(#g0_108)"/>
<rect x="25.1" y="267.2" width="207.3" height="3.3" fill="url(#g0_109)"/>
<rect x="25.1" y="269.2" width="207.3" height="3.3" fill="url(#g0_110)"/>
<rect x="25.1" y="271.2" width="207.3" height="3.3" fill="url(#g0_111)"/>
<rect x="25.1" y="273.2" width="207.3" height="3.3" fill="url(#g0_112)"/>
<rect x="25.1" y="275.2" width="207.3" height="3.3" fill="url(#g0_113)"/>
<path fill="#191970" d="M24.1 276.4V272.3H27.3V272.3H30.7V272.3H34.2V272.3H37.7V272.3H41.1V272.3H44.6V272.3H48V272.3H51.5V272.3H55V272.3H58.4V272.3H61.9V272.3H65.3V272.3H68.8V272.3H72.3V272.2H75.7V272.2H79.2V272.2H82.6V272.1H86.1V269.4H89.6V268.7H93V268.2H96.5V267.9H99.9V267.6H103.4V267.2H106.9V266.6H110.3V265.9H113.8V265H117.2V263.8H120.7V261.7H124.2V259.5H127.6V257.6H131.1V255.4H134.5V252.9H138V250.1H141.5V247H144.9V243.6H148.4V240.1H151.8V236.5H155.3V232.6H158.8V228.4H162.2V223.7H165.7V218.6H169.1V212.2H172.6V201.1H176.1V190.7H179.5V179H183V167.7H186.4V154.2H189.9V142.9H193.4V132.4H196.8V109.2H200.3V96.4H203.7V73.8H207.2V48.2H233.4V276.4Z"/>
<path class="c" d="M34.1 49.2L32.8 52L31.5 54.7L30.2 57.5L29 60.3L27.7 63.1L26.4 65.8L25.1 68.6"/>
<path class="c" d="M68.6 49.2L67.4 52.2L66.3 55.2L65.1 58.2L63.9 61.1L62.8 64.1L61.6 67.1L60.4 70.1L59.2 73.1L58 76.1L56.8 79.1L55.6 82L54.4 85L53.2 88L52 91L50.8 94L49.6 97L48.5 99.9L47.3 102.9L46.2 105.9L45.1 108.9L44 111.9L43 114.9M34.6 141.7L33.6 144.7L32.6 147.7L31.6 150.7L30.5 153.7L29.5 156.7L28.4 159.6L27.3 162.6L26.2 165.6L25.1 168.6"/>
<path class="c" d="M103.1 49.2L101.8 52.2L100.4 55.2L99.1 58.2L97.8 61.2L96.5 64.2L95.3 67.2L94 70.2L92.8 73.2L91.6 76.2L90.4 79.2L89.2 82.2L88.1 85.1L86.9 88.1L85.8 91.1L84.7 94.1L83.6 97.1L82.5 100.1L81.5 103.1L80.4 106.1L79.4 109.1L78.3 112.1L77.3 115.1L76.3 118.1L75.3 121.1L74.4 124.1L73.4 127.1L72.4 130.1L71.5 133.1M64.9 157L64 160L63.1 163L62.2 166L61.3 169L60.4 172L59.5 175L58.5 178L57.6 181L56.7 184L55.7 187L54.7 190L53.7 193L52.7 196L51.7 199L50.6 202L49.5 205L48.5 208L47.4 211L46.2 214L45.1 217L43.9 220L42.7 223L41.5 225.9L40.2 228.9L38.9 231.9L37.6 234.9L36.2 237.9L34.7 240.9L33.2 243.9L31.7 246.9L30.1 249.9L28.5 252.9L26.8 255.9L25.1 258.9"/>
<path class="c" d="M137.6 49.2L136.3 52.2L135 55.1L133.7 58.1L132.4 61.1L131.1 64.1L129.9 67L128.6 70L127.4 73L126.2 75.9L125 78.9L123.8 81.9L122.7 84.9L121.5 87.8L120.4 90.8L119.3 93.8L118.2 96.8L117.1 99.7L116.1 102.7L115 105.7L114 108.6L113 111.6L112 114.6L111 117.6L110 120.5L109 123.5L108 126.5L107.1 129.4L106.1 132.4L105.1 135.4L104.2 138.4L103.2 141.3L102.2 144.3L101.3 147.3L100.3 150.2L99.4 153.2L98.5 156.2L97.6 159.2L96.7 162.1L95.8 165.1L94.9 168.1L94 171.1M86.5 194.8L85.4 197.8L84.3 200.8L83.2 203.7L82.1 206.7L81 209.7L79.8 212.7L78.6 215.6L77.4 218.6L76.2 221.6L74.9 224.5L73.7 227.5L72.4 230.5L71.1 233.5L69.8 236.4L68.4 239.4L67.1 242.4L65.7 245.4L64.3 248.3L62.9 251.3L61.5 254.3L60 257.2L58.5 260.2L57.1 263.2L55.6 266.2L54 269.1L52.5 272.1"/>
<path class="c" d="M169.1 49.2L168 52.2L167 55.1L165.9 58.1L164.9 61L163.8 64L162.8 67L161.8 69.9L160.7 72.9L159.7 75.8L158.6 78.8L157.6 81.8L156.6 84.7L155.6 87.7L154.5 90.7L153.5 93.6L152.5 96.6L151.5 99.5L150.5 102.5L149.4 105.5L148.4 108.4L147.4 111.4L146.4 114.3L145.4 117.3L144.4 120.3L143.4 123.2L142.4 126.2L141.4 129.1L140.4 132.1L139.4 135.1L138.4 138L137.4 141L136.5 143.9L135.5 146.9L134.5 149.9L133.5 152.8L132.6 155.8L131.7 158.8L130.7 161.7L129.8 164.7L128.9 167.6M121.3 191.3L120.3 194.3L119.3 197.2L118.2 200.2L117.2 203.2L116.1 206.1L115 209.1L113.9 212L112.8 215L111.7 218L110.5 220.9L109.4 223.9L108.2 226.8L107.1 229.8L105.9 232.8L104.7 235.7L103.5 238.7L102.3 241.7L101 244.6L99.8 247.6L98.5 250.5L97.3 253.5L96 256.5L94.7 259.4L93.4 262.4L92.1 265.3L90.8 268.3"/>
<path class="c" d="M198.6 49.2L197.3 52.2L196 55.2L194.7 58.2L193.4 61.2L192.1 64.2L190.9 67.1L189.7 70.1L188.5 73.1L187.3 76.1L186.1 79.1L185 82.1L183.9 85.1L182.9 88.1L181.8 91.1L180.8 94.1L179.8 97.1L178.9 100.1L177.9 103L177 106L176.1 109L175.2 112L174.3 115L173.4 118L172.5 121L171.7 124L170.8 127L170 130L169.1 133L168.3 136L167.5 138.9L166.7 141.9L165.8 144.9L165 147.9L164.2 150.9L163.4 153.9M157.1 177.8L156.2 180.8L155.2 183.8L154.2 186.8L153.2 189.8L152.2 192.8L151.1 195.8L150 198.8L148.9 201.8L147.7 204.8L146.6 207.8L145.4 210.7L144.3 213.7L143.1 216.7L141.9 219.7L140.8 222.7L139.6 225.7L138.5 228.7L137.3 231.7L136.1 234.7L134.9 237.7L133.7 240.7L132.5 243.7L131.3 246.6L130.1 249.6L128.8 252.6L127.6 255.6L126.4 258.6L125.1 261.6"/>
</g>
<text class="l" transform="translate(39.1 128.7) rotate(56)" text-anchor="middle" font-size="10.4" x="-0.8" y="2.2">10<tspan dx="0.9" dy="-3.5" font-size="6.9">−2</tspan></text>
<text class="l" transform="translate(70.4 144.2) rotate(56)" text-anchor="middle" font-size="10.4" x="-0.8" y="2.2">10<tspan dx="0.9" dy="-3.5" font-size="6.9">−1</tspan></text>
<text class="l" transform="translate(90.6 182.2) rotate(56)" text-anchor="middle" font-size="10.4" x="-0.8" y="2.2">10<tspan dx="0.9" dy="-3.5" font-size="6.9">0</tspan></text>
<text class="l" transform="translate(124.3 179.2) rotate(56)" text-anchor="middle" font-size="10.4" x="-0.8" y="2.2">10<tspan dx="0.9" dy="-3.5" font-size="6.9">1</tspan></text>
<text class="l" transform="translate(161.4 166.2) rotate(56)" text-anchor="middle" font-size="10.4" x="-0.8" y="2.2">10<tspan dx="0.9" dy="-3.5" font-size="6.9">2</tspan></text>
<text class="s" font-size="14.2" transform="translate(167.6 273.5) rotate(-73.4)" textLength="162.5" lengthAdjust="spacingAndGlyphs">Reservoirs too large for a</text><text class="s" font-size="14.2" transform="translate(186 273.5) rotate(-72.5)" textLength="152" lengthAdjust="spacingAndGlyphs">10 km thick lithosphere</text>
<text class="t" x="21.2" y="52.8" text-anchor="end">1</text>
<text class="t" x="21.2" y="77.9" text-anchor="end">2</text>
<text class="t" x="21.2" y="103.1" text-anchor="end">3</text>
<text class="t" x="21.2" y="128.2" text-anchor="end">4</text>
<text class="t" x="21.2" y="153.3" text-anchor="end">5</text>
<text class="t" x="21.2" y="178.5" text-anchor="end">6</text>
<text class="t" x="21.2" y="203.6" text-anchor="end">7</text>
<text class="t" x="21.2" y="228.7" text-anchor="end">8</text>
<text class="t" x="21.2" y="253.9" text-anchor="end">9</text>
<text class="t" x="21.2" y="279" text-anchor="end">10</text>
<text x="20.4" y="288.7" font-size="9.5" text-anchor="start">10<tspan dy="-5.5" font-size="6.6">1</tspan></text>
<text x="89.5" y="288.7" font-size="9.5" text-anchor="start">10<tspan dy="-5.5" font-size="6.6">2</tspan></text>
<text x="158.6" y="288.7" font-size="9.5" text-anchor="start">10<tspan dy="-5.5" font-size="6.6">3</tspan></text>
<text x="227.7" y="288.7" font-size="9.5" text-anchor="start">10<tspan dy="-5.5" font-size="6.6">4</tspan></text>
<path class="k" d="M25.1 49.2h-2.3M25.1 74.3h-2.3M25.1 99.5h-2.3M25.1 124.6h-2.3M25.1 149.7h-2.3M25.1 174.9h-2.3M25.1 200h-2.3M25.1 225.1h-2.3M25.1 250.3h-2.3M25.1 275.4h-2.3M25.1 275.4v2.3M45.9 275.4v1.3M58.1 275.4v1.3M66.7 275.4v1.3M73.4 275.4v1.3M78.9 275.4v1.3M83.5 275.4v1.3M87.5 275.4v1.3M91 275.4v1.3M94.2 275.4v2.3M115 275.4v1.3M127.2 275.4v1.3M135.8 275.4v1.3M142.5 275.4v1.3M148 275.4v1.3M152.6 275.4v1.3M156.6 275.4v1.3M160.1 275.4v1.3M163.3 275.4v2.3M184.1 275.4v1.3M196.3 275.4v1.3M204.9 275.4v1.3M211.6 275.4v1.3M217.1 275.4v1.3M221.7 275.4v1.3M225.7 275.4v1.3M229.2 275.4v1.3M232.4 275.4v2.3"/>
<text class="t" x="128.2" y="299.7" text-anchor="middle" font-size="9.6">Reservoir radius (m)</text>
<text class="t" transform="translate(6.7 162.3) rotate(-90)" text-anchor="middle" font-size="9.7">Reservoir depth (km)</text>
<text x="128.8" y="34" text-anchor="middle" font-size="11.5">(a) Freezing time</text>
<text x="128.8" y="45.7" text-anchor="middle" font-size="11.5">with non-deformable wall</text>
<rect x="245.2" y="49.2" width="11.3" height="226.2" fill="url(#cb)" stroke="#333" stroke-width=".45"/>
<rect x="25.1" y="49.2" width="207.3" height="226.2" fill="none" stroke="#222" stroke-width=".45"/>
<text x="261.1" y="53.6" font-size="9.5" text-anchor="start">10<tspan dy="-5.5" font-size="6.6">3</tspan></text>
<text x="261.1" y="91.3" font-size="9.5" text-anchor="start">10<tspan dy="-5.5" font-size="6.6">2</tspan></text>
<text x="261.1" y="129" font-size="9.5" text-anchor="start">10<tspan dy="-5.5" font-size="6.6">1</tspan></text>
<text x="261.1" y="166.7" font-size="9.5" text-anchor="start">10<tspan dy="-5.5" font-size="6.6">0</tspan></text>
<text x="261.1" y="204.4" font-size="9.5" text-anchor="start">10<tspan dy="-5.5" font-size="6.6">−1</tspan></text>
<text x="261.1" y="242.1" font-size="9.5" text-anchor="start">10<tspan dy="-5.5" font-size="6.6">−2</tspan></text>
<text x="261.1" y="279.8" font-size="9.5" text-anchor="start">10<tspan dy="-5.5" font-size="6.6">−3</tspan></text>
<path class="k" d="M256.5 49.2h2M256.5 75.6h1.1M256.5 68.9h1.1M256.5 64.2h1.1M256.5 60.5h1.1M256.5 57.6h1.1M256.5 55h1.1M256.5 52.9h1.1M256.5 50.9h1.1M256.5 86.9h2M256.5 113.3h1.1M256.5 106.6h1.1M256.5 101.9h1.1M256.5 98.2h1.1M256.5 95.3h1.1M256.5 92.7h1.1M256.5 90.6h1.1M256.5 88.6h1.1M256.5 124.6h2M256.5 151h1.1M256.5 144.3h1.1M256.5 139.6h1.1M256.5 135.9h1.1M256.5 133h1.1M256.5 130.4h1.1M256.5 128.3h1.1M256.5 126.3h1.1M256.5 162.3h2M256.5 188.7h1.1M256.5 182h1.1M256.5 177.3h1.1M256.5 173.6h1.1M256.5 170.7h1.1M256.5 168.1h1.1M256.5 166h1.1M256.5 164h1.1M256.5 200h2M256.5 226.4h1.1M256.5 219.7h1.1M256.5 215h1.1M256.5 211.3h1.1M256.5 208.4h1.1M256.5 205.8h1.1M256.5 203.7h1.1M256.5 201.7h1.1M256.5 237.7h2M256.5 264.1h1.1M256.5 257.4h1.1M256.5 252.7h1.1M256.5 249h1.1M256.5 246.1h1.1M256.5 243.5h1.1M256.5 241.4h1.1M256.5 239.4h1.1M256.5 275.4h2"/>
<text x="235.8" y="38.1" font-size="9.7"><tspan font-style="italic" font-family="Liberation Sans" font-size="11">t</tspan><tspan dy="2" font-size="7.5" font-style="italic" font-family="Liberation Sans">c</tspan><tspan dy="-2"> (years)</tspan></text>
<g clip-path="url(#p1)">
<rect x="330.7" y="49.2" width="207.3" height="3.3" fill="url(#g1_0)"/>
<rect x="330.7" y="51.2" width="207.3" height="3.3" fill="url(#g1_1)"/>
<rect x="330.7" y="53.2" width="207.3" height="3.3" fill="url(#g1_2)"/>
<rect x="330.7" y="55.2" width="207.3" height="3.3" fill="url(#g1_3)"/>
<rect x="330.7" y="57.2" width="207.3" height="3.3" fill="url(#g1_4)"/>
<rect x="330.7" y="59.2" width="207.3" height="3.3" fill="url(#g1_5)"/>
<rect x="330.7" y="61.2" width="207.3" height="3.3" fill="url(#g1_6)"/>
<rect x="330.7" y="63.2" width="207.3" height="3.3" fill="url(#g1_7)"/>
<rect x="330.7" y="65.2" width="207.3" height="3.3" fill="url(#g1_8)"/>
<rect x="330.7" y="67.2" width="207.3" height="3.3" fill="url(#g1_9)"/>
<rect x="330.7" y="69.2" width="207.3" height="3.3" fill="url(#g1_10)"/>
<rect x="330.7" y="71.2" width="207.3" height="3.3" fill="url(#g1_11)"/>
<rect x="330.7" y="73.2" width="207.3" height="3.3" fill="url(#g1_12)"/>
<rect x="330.7" y="75.2" width="207.3" height="3.3" fill="url(#g1_13)"/>
<rect x="330.7" y="77.2" width="207.3" height="3.3" fill="url(#g1_14)"/>
<rect x="330.7" y="79.2" width="207.3" height="3.3" fill="url(#g1_15)"/>
<rect x="330.7" y="81.2" width="207.3" height="3.3" fill="url(#g1_16)"/>
<rect x="330.7" y="83.2" width="207.3" height="3.3" fill="url(#g1_17)"/>
<rect x="330.7" y="85.2" width="207.3" height="3.3" fill="url(#g1_18)"/>
<rect x="330.7" y="87.2" width="207.3" height="3.3" fill="url(#g1_19)"/>
<rect x="330.7" y="89.2" width="207.3" height="3.3" fill="url(#g1_20)"/>
<rect x="330.7" y="91.2" width="207.3" height="3.3" fill="url(#g1_21)"/>
<rect x="330.7" y="93.2" width="207.3" height="3.3" fill="url(#g1_22)"/>
<rect x="330.7" y="95.2" width="207.3" height="3.3" fill="url(#g1_23)"/>
<rect x="330.7" y="97.2" width="207.3" height="3.3" fill="url(#g1_24)"/>
<rect x="330.7" y="99.2" width="207.3" height="3.3" fill="url(#g1_25)"/>
<rect x="330.7" y="101.2" width="207.3" height="3.3" fill="url(#g1_26)"/>
<rect x="330.7" y="103.2" width="207.3" height="3.3" fill="url(#g1_27)"/>
<rect x="330.7" y="105.2" width="207.3" height="3.3" fill="url(#g1_28)"/>
<rect x="330.7" y="107.2" width="207.3" height="3.3" fill="url(#g1_29)"/>
<rect x="330.7" y="109.2" width="207.3" height="3.3" fill="url(#g1_30)"/>
<rect x="330.7" y="111.2" width="207.3" height="3.3" fill="url(#g1_31)"/>
<rect x="330.7" y="113.2" width="207.3" height="3.3" fill="url(#g1_32)"/>
<rect x="330.7" y="115.2" width="207.3" height="3.3" fill="url(#g1_33)"/>
<rect x="330.7" y="117.2" width="207.3" height="3.3" fill="url(#g1_34)"/>
<rect x="330.7" y="119.2" width="207.3" height="3.3" fill="url(#g1_35)"/>
<rect x="330.7" y="121.2" width="207.3" height="3.3" fill="url(#g1_36)"/>
<rect x="330.7" y="123.2" width="207.3" height="3.3" fill="url(#g1_37)"/>
<rect x="330.7" y="125.2" width="207.3" height="3.3" fill="url(#g1_38)"/>
<rect x="330.7" y="127.2" width="207.3" height="3.3" fill="url(#g1_39)"/>
<rect x="330.7" y="129.2" width="207.3" height="3.3" fill="url(#g1_40)"/>
<rect x="330.7" y="131.2" width="207.3" height="3.3" fill="url(#g1_41)"/>
<rect x="330.7" y="133.2" width="207.3" height="3.3" fill="url(#g1_42)"/>
<rect x="330.7" y="135.2" width="207.3" height="3.3" fill="url(#g1_43)"/>
<rect x="330.7" y="137.2" width="207.3" height="3.3" fill="url(#g1_44)"/>
<rect x="330.7" y="139.2" width="207.3" height="3.3" fill="url(#g1_45)"/>
<rect x="330.7" y="141.2" width="207.3" height="3.3" fill="url(#g1_46)"/>
<rect x="330.7" y="143.2" width="207.3" height="3.3" fill="url(#g1_47)"/>
<rect x="330.7" y="145.2" width="207.3" height="3.3" fill="url(#g1_48)"/>
<rect x="330.7" y="147.2" width="207.3" height="3.3" fill="url(#g1_49)"/>
<rect x="330.7" y="149.2" width="207.3" height="3.3" fill="url(#g1_50)"/>
<rect x="330.7" y="151.2" width="207.3" height="3.3" fill="url(#g1_51)"/>
<rect x="330.7" y="153.2" width="207.3" height="3.3" fill="url(#g1_52)"/>
<rect x="330.7" y="155.2" width="207.3" height="3.3" fill="url(#g1_53)"/>
<rect x="330.7" y="157.2" width="207.3" height="3.3" fill="url(#g1_54)"/>
<rect x="330.7" y="159.2" width="207.3" height="3.3" fill="url(#g1_55)"/>
<rect x="330.7" y="161.2" width="207.3" height="3.3" fill="url(#g1_56)"/>
<rect x="330.7" y="163.2" width="207.3" height="3.3" fill="url(#g1_57)"/>
<rect x="330.7" y="165.2" width="207.3" height="3.3" fill="url(#g1_58)"/>
<rect x="330.7" y="167.2" width="207.3" height="3.3" fill="url(#g1_59)"/>
<rect x="330.7" y="169.2" width="207.3" height="3.3" fill="url(#g1_60)"/>
<rect x="330.7" y="171.2" width="207.3" height="3.3" fill="url(#g1_61)"/>
<rect x="330.7" y="173.2" width="207.3" height="3.3" fill="url(#g1_62)"/>
<rect x="330.7" y="175.2" width="207.3" height="3.3" fill="url(#g1_63)"/>
<rect x="330.7" y="177.2" width="207.3" height="3.3" fill="url(#g1_64)"/>
<rect x="330.7" y="179.2" width="207.3" height="3.3" fill="url(#g1_65)"/>
<rect x="330.7" y="181.2" width="207.3" height="3.3" fill="url(#g1_66)"/>
<rect x="330.7" y="183.2" width="207.3" height="3.3" fill="url(#g1_67)"/>
<rect x="330.7" y="185.2" width="207.3" height="3.3" fill="url(#g1_68)"/>
<rect x="330.7" y="187.2" width="207.3" height="3.3" fill="url(#g1_69)"/>
<rect x="330.7" y="189.2" width="207.3" height="3.3" fill="url(#g1_70)"/>
<rect x="330.7" y="191.2" width="207.3" height="3.3" fill="url(#g1_71)"/>
<rect x="330.7" y="193.2" width="207.3" height="3.3" fill="url(#g1_72)"/>
<rect x="330.7" y="195.2" width="207.3" height="3.3" fill="url(#g1_73)"/>
<rect x="330.7" y="197.2" width="207.3" height="3.3" fill="url(#g1_74)"/>
<rect x="330.7" y="199.2" width="207.3" height="3.3" fill="url(#g1_75)"/>
<rect x="330.7" y="201.2" width="207.3" height="3.3" fill="url(#g1_76)"/>
<rect x="330.7" y="203.2" width="207.3" height="3.3" fill="url(#g1_77)"/>
<rect x="330.7" y="205.2" width="207.3" height="3.3" fill="url(#g1_78)"/>
<rect x="330.7" y="207.2" width="207.3" height="3.3" fill="url(#g1_79)"/>
<rect x="330.7" y="209.2" width="207.3" height="3.3" fill="url(#g1_80)"/>
<rect x="330.7" y="211.2" width="207.3" height="3.3" fill="url(#g1_81)"/>
<rect x="330.7" y="213.2" width="207.3" height="3.3" fill="url(#g1_82)"/>
<rect x="330.7" y="215.2" width="207.3" height="3.3" fill="url(#g1_83)"/>
<rect x="330.7" y="217.2" width="207.3" height="3.3" fill="url(#g1_84)"/>
<rect x="330.7" y="219.2" width="207.3" height="3.3" fill="url(#g1_85)"/>
<rect x="330.7" y="221.2" width="207.3" height="3.3" fill="url(#g1_86)"/>
<rect x="330.7" y="223.2" width="207.3" height="3.3" fill="url(#g1_87)"/>
<rect x="330.7" y="225.2" width="207.3" height="3.3" fill="url(#g1_88)"/>
<rect x="330.7" y="227.2" width="207.3" height="3.3" fill="url(#g1_89)"/>
<rect x="330.7" y="229.2" width="207.3" height="3.3" fill="url(#g1_90)"/>
<rect x="330.7" y="231.2" width="207.3" height="3.3" fill="url(#g1_91)"/>
<rect x="330.7" y="233.2" width="207.3" height="3.3" fill="url(#g1_92)"/>
<rect x="330.7" y="235.2" width="207.3" height="3.3" fill="url(#g1_93)"/>
<rect x="330.7" y="237.2" width="207.3" height="3.3" fill="url(#g1_94)"/>
<rect x="330.7" y="239.2" width="207.3" height="3.3" fill="url(#g1_95)"/>
<rect x="330.7" y="241.2" width="207.3" height="3.3" fill="url(#g1_96)"/>
<rect x="330.7" y="243.2" width="207.3" height="3.3" fill="url(#g1_97)"/>
<rect x="330.7" y="245.2" width="207.3" height="3.3" fill="url(#g1_98)"/>
<rect x="330.7" y="247.2" width="207.3" height="3.3" fill="url(#g1_99)"/>
<rect x="330.7" y="249.2" width="207.3" height="3.3" fill="url(#g1_100)"/>
<rect x="330.7" y="251.2" width="207.3" height="3.3" fill="url(#g1_101)"/>
<rect x="330.7" y="253.2" width="207.3" height="3.3" fill="url(#g1_102)"/>
<rect x="330.7" y="255.2" width="207.3" height="3.3" fill="url(#g1_103)"/>
<rect x="330.7" y="257.2" width="207.3" height="3.3" fill="url(#g1_104)"/>
<rect x="330.7" y="259.2" width="207.3" height="3.3" fill="url(#g1_105)"/>
<rect x="330.7" y="261.2" width="207.3" height="3.3" fill="url(#g1_106)"/>
<rect x="330.7" y="263.2" width="207.3" height="3.3" fill="url(#g1_107)"/>
<rect x="330.7" y="265.2" width="207.3" height="3.3" fill="url(#g1_108)"/>
<rect x="330.7" y="267.2" width="207.3" height="3.3" fill="url(#g1_109)"/>
<rect x="330.7" y="269.2" width="207.3" height="3.3" fill="url(#g1_110)"/>
<rect x="330.7" y="271.2" width="207.3" height="3.3" fill="url(#g1_111)"/>
<rect x="330.7" y="273.2" width="207.3" height="3.3" fill="url(#g1_112)"/>
<rect x="330.7" y="275.2" width="207.3" height="3.3" fill="url(#g1_113)"/>
<path fill="#191970" d="M329.7 276.4V272.3H332.9V272.3H336.3V272.3H339.8V272.3H343.3V272.3H346.7V272.3H350.2V272.3H353.6V272.3H357.1V272.3H360.6V272.3H364V272.3H367.5V272.3H370.9V272.3H374.4V272.3H377.9V272.2H381.3V272.2H384.8V272.2H388.2V272.1H391.7V269.4H395.2V268.7H398.6V268.2H402.1V267.9H405.5V267.6H409V267.2H412.5V266.6H415.9V265.9H419.4V265H422.8V263.8H426.3V261.7H429.8V259.5H433.2V257.6H436.7V255.4H440.1V252.9H443.6V250.1H447.1V247H450.5V243.6H454V240.1H457.4V236.5H460.9V232.6H464.4V228.4H467.8V223.7H471.3V218.6H474.7V212.2H478.2V201.1H481.7V190.7H485.1V179H488.6V167.7H492V154.2H495.5V142.9H499V132.4H502.4V109.2H505.9V96.4H509.3V73.8H512.8V48.2H539V276.4Z"/>
<path class="c" d="M348.9 49.2L347.3 52.1L345.7 55L344.2 57.9M332.7 83.9L331.7 86.8L330.7 89.7"/>
<path class="c" d="M382.5 49.2L381.3 52.2L380.1 55.2L378.9 58.1L377.6 61.1L376.4 64.1L375.2 67.1L374 70L372.8 73L371.6 76L370.3 79L369.1 82L367.9 84.9L366.7 87.9L365.5 90.9L364.4 93.9L363.3 96.8L362.2 99.8L361.1 102.8L360 105.8L358.9 108.8L357.9 111.7L356.8 114.7L355.8 117.7L354.8 120.7L353.7 123.6L352.7 126.6L351.6 129.6L350.6 132.6L349.6 135.5L348.6 138.5L347.6 141.5L346.6 144.5M338.1 171.3L337.1 174.3L336.2 177.2L335.3 180.2L334.3 183.2L333.4 186.2L332.5 189.1L331.6 192.1L330.7 195.1"/>
<path class="c" d="M417.5 49.2L416.5 52.2L415.5 55.2L414.4 58.2L413.4 61.2L412.3 64.2L411.3 67.2L410.2 70.1L409.2 73.1L408.1 76.1L407 79.1L406 82.1L404.9 85.1L403.8 88.1L402.7 91.1L401.5 94.1L400.4 97.1L399.2 100.1L398 103.1L396.7 106L395.5 109L394.3 112L393 115L391.8 118L390.6 121L389.4 124L388.2 127L387 130L385.8 133L384.7 136L383.5 139L382.4 141.9L381.3 144.9L380.3 147.9L379.3 150.9L378.2 153.9L377.2 156.9L376.2 159.9L375.3 162.9L374.3 165.9M367.3 189.8L366.3 192.8L365.3 195.8L364.3 198.8L363.2 201.8L362.2 204.8L361.1 207.8L360.1 210.8L359 213.8L357.9 216.7L356.8 219.7L355.7 222.7L354.5 225.7L353.4 228.7L352.3 231.7L351.2 234.7L349.9 237.7L348.5 240.7L347.1 243.7L345.6 246.7L344 249.7L342.3 252.6L340.6 255.6L338.8 258.6L336.9 261.6L334.9 264.6L332.9 267.6L330.7 270.6"/>
<path class="c" d="M452 49.2L450.9 52.2L449.8 55.2L448.7 58.2L447.6 61.2L446.5 64.2L445.4 67.2L444.3 70.1L443.2 73.1L442.2 76.1L441.1 79.1L440 82.1L438.9 85.1L437.9 88.1L436.8 91.1L435.7 94.1L434.5 97.1L433.4 100.1L432.3 103.1L431.1 106L430 109L428.8 112L427.6 115L426.4 118L425.1 121L423.7 124L422.2 127L420.7 130L419.3 133L418 136L416.8 139L415.7 141.9L414.8 144.9L413.9 147.9L413 150.9L412.2 153.9L411.4 156.9L410.6 159.9L409.8 162.9L409 165.9L408.1 168.9L407.2 171.9M399.3 195.8L398.3 198.8L397.3 201.8L396.3 204.8L395.3 207.8L394.2 210.8L393.2 213.8L392.2 216.7L391.1 219.7L390.1 222.7L388.9 225.7L387.8 228.7L386.6 231.7L385.3 234.7L384 237.7L382.6 240.7L381.2 243.7L379.7 246.7L378.1 249.7L376.5 252.6L374.8 255.6L373.1 258.6L371.4 261.6L369.6 264.6L367.8 267.6L365.9 270.6"/>
<path class="c" d="M481.3 49.2L480.2 52.2L479.1 55.2L478.1 58.2L477 61.2L475.9 64.2L474.8 67.2L473.7 70.2L472.7 73.2L471.6 76.2L470.5 79.2L469.4 82.2L468.4 85.2L467.3 88.2L466.2 91.2L465.1 94.2L464 97.2L462.9 100.2L461.8 103.2L460.7 106.2L459.6 109.2L458.5 112.2L457.5 115.2L456.5 118.2L455.5 121.2L454.5 124.2L453.5 127.2L452.5 130.2L451.5 133.2L450.6 136.2L449.7 139.2L448.8 142.2L448 145.2L447.2 148.2L446.4 151.2L445.6 154.2L444.8 157.2L443.9 160.1L443.1 163.1M436 187.1L435 190.1L434 193.1L432.9 196.1L431.8 199.1L430.7 202.1L429.6 205.1L428.5 208.1L427.5 211.1L426.4 214.1L425.4 217.1L424.4 220.1L423.4 223.1L422.6 226.1L421.8 229.1L420.9 232.1L419.9 235.1L418.8 238.1L417.7 241.1L416.5 244.1L415.2 247.1L413.9 250.1L412.5 253.1L410.9 256.1L409.3 259.1L407.4 262.1L405.2 265.1L402.9 268.1"/>
<path class="c" d="M511.9 49.2L510.8 52.2L509.7 55.1L508.6 58.1L507.5 61.1L506.4 64L505.3 67L504.2 70L503.1 72.9L502 75.9L501 78.9L499.9 81.8L498.8 84.8L497.8 87.8L496.7 90.8L495.7 93.7L494.6 96.7L493.6 99.7L492.6 102.6L491.5 105.6L490.5 108.6L489.5 111.5L488.5 114.5L487.5 117.5L486.5 120.4L485.5 123.4L484.5 126.4L483.5 129.3L482.5 132.3L481.5 135.3L480.5 138.2L479.5 141.2L478.5 144.2L477.5 147.1M470.3 173.9L469.6 176.8L468.8 179.8L468.1 182.8L467.3 185.7L466.5 188.7L465.6 191.7L464.6 194.6L463.6 197.6L462.5 200.6L461.3 203.5L460.2 206.5L459 209.5L457.8 212.4L456.6 215.4L455.4 218.4L454.3 221.4L453.1 224.3L452 227.3L451 230.3L450 233.2L448.9 236.2L447.9 239.2L446.8 242.1L445.6 245.1L444.3 248.1L442.8 251L441.3 254"/>
</g>
<text class="l" transform="translate(340.7 70.2) rotate(56)" text-anchor="middle" font-size="10.4" x="-0.8" y="2.2">10<tspan dx="0.9" dy="-3.5" font-size="6.9">−2</tspan></text>
<text class="l" transform="translate(344.2 158) rotate(56)" text-anchor="middle" font-size="10.4" x="-0.8" y="2.2">10<tspan dx="0.9" dy="-3.5" font-size="6.9">−1</tspan></text>
<text class="l" transform="translate(372.3 177.2) rotate(56)" text-anchor="middle" font-size="10.4" x="-0.8" y="2.2">10<tspan dx="0.9" dy="-3.5" font-size="6.9">0</tspan></text>
<text class="l" transform="translate(404.2 184.8) rotate(56)" text-anchor="middle" font-size="10.4" x="-0.8" y="2.2">10<tspan dx="0.9" dy="-3.5" font-size="6.9">1</tspan></text>
<text class="l" transform="translate(440.3 175.3) rotate(56)" text-anchor="middle" font-size="10.4" x="-0.8" y="2.2">10<tspan dx="0.9" dy="-3.5" font-size="6.9">2</tspan></text>
<text class="l" transform="translate(475.3 160.4) rotate(56)" text-anchor="middle" font-size="10.4" x="-0.8" y="2.2">10<tspan dx="0.9" dy="-3.5" font-size="6.9">3</tspan></text>
<text class="s" font-size="14.2" transform="translate(473.2 273.5) rotate(-73.4)" textLength="162.5" lengthAdjust="spacingAndGlyphs">Reservoirs too large for a</text><text class="s" font-size="14.2" transform="translate(491.6 273.5) rotate(-72.5)" textLength="152" lengthAdjust="spacingAndGlyphs">10 km thick lithosphere</text>
<text class="t" x="326.8" y="52.8" text-anchor="end">1</text>
<text class="t" x="326.8" y="77.9" text-anchor="end">2</text>
<text class="t" x="326.8" y="103.1" text-anchor="end">3</text>
<text class="t" x="326.8" y="128.2" text-anchor="end">4</text>
<text class="t" x="326.8" y="153.3" text-anchor="end">5</text>
<text class="t" x="326.8" y="178.5" text-anchor="end">6</text>
<text class="t" x="326.8" y="203.6" text-anchor="end">7</text>
<text class="t" x="326.8" y="228.7" text-anchor="end">8</text>
<text class="t" x="326.8" y="253.9" text-anchor="end">9</text>
<text class="t" x="326.8" y="279" text-anchor="end">10</text>
<text x="326" y="288.7" font-size="9.5" text-anchor="start">10<tspan dy="-5.5" font-size="6.6">1</tspan></text>
<text x="395.1" y="288.7" font-size="9.5" text-anchor="start">10<tspan dy="-5.5" font-size="6.6">2</tspan></text>
<text x="464.2" y="288.7" font-size="9.5" text-anchor="start">10<tspan dy="-5.5" font-size="6.6">3</tspan></text>
<text x="533.3" y="288.7" font-size="9.5" text-anchor="start">10<tspan dy="-5.5" font-size="6.6">4</tspan></text>
<path class="k" d="M330.7 49.2h-2.3M330.7 74.3h-2.3M330.7 99.5h-2.3M330.7 124.6h-2.3M330.7 149.7h-2.3M330.7 174.9h-2.3M330.7 200h-2.3M330.7 225.1h-2.3M330.7 250.3h-2.3M330.7 275.4h-2.3M330.7 275.4v2.3M351.5 275.4v1.3M363.7 275.4v1.3M372.3 275.4v1.3M379 275.4v1.3M384.5 275.4v1.3M389.1 275.4v1.3M393.1 275.4v1.3M396.6 275.4v1.3M399.8 275.4v2.3M420.6 275.4v1.3M432.8 275.4v1.3M441.4 275.4v1.3M448.1 275.4v1.3M453.6 275.4v1.3M458.2 275.4v1.3M462.2 275.4v1.3M465.7 275.4v1.3M468.9 275.4v2.3M489.7 275.4v1.3M501.9 275.4v1.3M510.5 275.4v1.3M517.2 275.4v1.3M522.7 275.4v1.3M527.3 275.4v1.3M531.3 275.4v1.3M534.8 275.4v1.3M538 275.4v2.3"/>
<text class="t" x="433.9" y="299.7" text-anchor="middle" font-size="9.6">Reservoir radius (m)</text>
<text class="t" transform="translate(312.3 162.3) rotate(-90)" text-anchor="middle" font-size="9.7">Reservoir depth (km)</text>
<text x="434.4" y="34" text-anchor="middle" font-size="11.5">(b) Freezing time</text>
<text x="434.4" y="45.7" text-anchor="middle" font-size="11.5">with non-deformable wall</text>
<rect x="550.3" y="49.2" width="11.3" height="226.2" fill="url(#cb)" stroke="#333" stroke-width=".45"/>
<rect x="330.7" y="49.2" width="207.3" height="226.2" fill="none" stroke="#222" stroke-width=".45"/>
<text x="566.2" y="53.6" font-size="9.5" text-anchor="start">10<tspan dy="-5.5" font-size="6.6">3</tspan></text>
<text x="566.2" y="91.3" font-size="9.5" text-anchor="start">10<tspan dy="-5.5" font-size="6.6">2</tspan></text>
<text x="566.2" y="129" font-size="9.5" text-anchor="start">10<tspan dy="-5.5" font-size="6.6">1</tspan></text>
<text x="566.2" y="166.7" font-size="9.5" text-anchor="start">10<tspan dy="-5.5" font-size="6.6">0</tspan></text>
<text x="566.2" y="204.4" font-size="9.5" text-anchor="start">10<tspan dy="-5.5" font-size="6.6">−1</tspan></text>
<text x="566.2" y="242.1" font-size="9.5" text-anchor="start">10<tspan dy="-5.5" font-size="6.6">−2</tspan></text>
<text x="566.2" y="279.8" font-size="9.5" text-anchor="start">10<tspan dy="-5.5" font-size="6.6">−3</tspan></text>
<path class="k" d="M561.6 49.2h2M561.6 75.6h1.1M561.6 68.9h1.1M561.6 64.2h1.1M561.6 60.5h1.1M561.6 57.6h1.1M561.6 55h1.1M561.6 52.9h1.1M561.6 50.9h1.1M561.6 86.9h2M561.6 113.3h1.1M561.6 106.6h1.1M561.6 101.9h1.1M561.6 98.2h1.1M561.6 95.3h1.1M561.6 92.7h1.1M561.6 90.6h1.1M561.6 88.6h1.1M561.6 124.6h2M561.6 151h1.1M561.6 144.3h1.1M561.6 139.6h1.1M561.6 135.9h1.1M561.6 133h1.1M561.6 130.4h1.1M561.6 128.3h1.1M561.6 126.3h1.1M561.6 162.3h2M561.6 188.7h1.1M561.6 182h1.1M561.6 177.3h1.1M561.6 173.6h1.1M561.6 170.7h1.1M561.6 168.1h1.1M561.6 166h1.1M561.6 164h1.1M561.6 200h2M561.6 226.4h1.1M561.6 219.7h1.1M561.6 215h1.1M561.6 211.3h1.1M561.6 208.4h1.1M561.6 205.8h1.1M561.6 203.7h1.1M561.6 201.7h1.1M561.6 237.7h2M561.6 264.1h1.1M561.6 257.4h1.1M561.6 252.7h1.1M561.6 249h1.1M561.6 246.1h1.1M561.6 243.5h1.1M561.6 241.4h1.1M561.6 239.4h1.1M561.6 275.4h2"/>
<text x="540.9" y="38.1" font-size="9.7"><tspan font-style="italic" font-family="Liberation Sans" font-size="11">t</tspan><tspan dy="2" font-size="7.5" font-style="italic" font-family="Liberation Sans">c</tspan><tspan dy="-2"> (years)</tspan></text>
<g clip-path="url(#p2)">
<rect x="25.1" y="336.4" width="207.3" height="3.3" fill="url(#g2_0)"/>
<rect x="25.1" y="338.4" width="207.3" height="3.3" fill="url(#g2_1)"/>
<rect x="25.1" y="340.4" width="207.3" height="3.3" fill="url(#g2_2)"/>
<rect x="25.1" y="342.4" width="207.3" height="3.3" fill="url(#g2_3)"/>
<rect x="25.1" y="344.4" width="207.3" height="3.3" fill="url(#g2_4)"/>
<rect x="25.1" y="346.4" width="207.3" height="3.3" fill="url(#g2_5)"/>
<rect x="25.1" y="348.4" width="207.3" height="3.3" fill="url(#g2_6)"/>
<rect x="25.1" y="350.4" width="207.3" height="3.3" fill="url(#g2_7)"/>
<rect x="25.1" y="352.4" width="207.3" height="3.3" fill="url(#g2_8)"/>
<rect x="25.1" y="354.4" width="207.3" height="3.3" fill="url(#g2_9)"/>
<rect x="25.1" y="356.4" width="207.3" height="3.3" fill="url(#g2_10)"/>
<rect x="25.1" y="358.4" width="207.3" height="3.3" fill="url(#g2_11)"/>
<rect x="25.1" y="360.4" width="207.3" height="3.3" fill="url(#g2_12)"/>
<rect x="25.1" y="362.4" width="207.3" height="3.3" fill="url(#g2_13)"/>
<rect x="25.1" y="364.4" width="207.3" height="3.3" fill="url(#g2_14)"/>
<rect x="25.1" y="366.4" width="207.3" height="3.3" fill="url(#g2_15)"/>
<rect x="25.1" y="368.4" width="207.3" height="3.3" fill="url(#g2_16)"/>
<rect x="25.1" y="370.4" width="207.3" height="3.3" fill="url(#g2_17)"/>
<rect x="25.1" y="372.4" width="207.3" height="3.3" fill="url(#g2_18)"/>
<rect x="25.1" y="374.4" width="207.3" height="3.3" fill="url(#g2_19)"/>
<rect x="25.1" y="376.4" width="207.3" height="3.3" fill="url(#g2_20)"/>
<rect x="25.1" y="378.4" width="207.3" height="3.3" fill="url(#g2_21)"/>
<rect x="25.1" y="380.4" width="207.3" height="3.3" fill="url(#g2_22)"/>
<rect x="25.1" y="382.4" width="207.3" height="3.3" fill="url(#g2_23)"/>
<rect x="25.1" y="384.4" width="207.3" height="3.3" fill="url(#g2_24)"/>
<rect x="25.1" y="386.4" width="207.3" height="3.3" fill="url(#g2_25)"/>
<rect x="25.1" y="388.4" width="207.3" height="3.3" fill="url(#g2_26)"/>
<rect x="25.1" y="390.4" width="207.3" height="3.3" fill="url(#g2_27)"/>
<rect x="25.1" y="392.4" width="207.3" height="3.3" fill="url(#g2_28)"/>
<rect x="25.1" y="394.4" width="207.3" height="3.3" fill="url(#g2_29)"/>
<rect x="25.1" y="396.4" width="207.3" height="3.3" fill="url(#g2_30)"/>
<rect x="25.1" y="398.4" width="207.3" height="3.3" fill="url(#g2_31)"/>
<rect x="25.1" y="400.4" width="207.3" height="3.3" fill="url(#g2_32)"/>
<rect x="25.1" y="402.4" width="207.3" height="3.3" fill="url(#g2_33)"/>
<rect x="25.1" y="404.4" width="207.3" height="3.3" fill="url(#g2_34)"/>
<rect x="25.1" y="406.4" width="207.3" height="3.3" fill="url(#g2_35)"/>
<rect x="25.1" y="408.4" width="207.3" height="3.3" fill="url(#g2_36)"/>
<rect x="25.1" y="410.4" width="207.3" height="3.3" fill="url(#g2_37)"/>
<rect x="25.1" y="412.4" width="207.3" height="3.3" fill="url(#g2_38)"/>
<rect x="25.1" y="414.4" width="207.3" height="3.3" fill="url(#g2_39)"/>
<rect x="25.1" y="416.4" width="207.3" height="3.3" fill="url(#g2_40)"/>
<rect x="25.1" y="418.4" width="207.3" height="3.3" fill="url(#g2_41)"/>
<rect x="25.1" y="420.4" width="207.3" height="3.3" fill="url(#g2_42)"/>
<rect x="25.1" y="422.4" width="207.3" height="3.3" fill="url(#g2_43)"/>
<rect x="25.1" y="424.4" width="207.3" height="3.3" fill="url(#g2_44)"/>
<rect x="25.1" y="426.4" width="207.3" height="3.3" fill="url(#g2_45)"/>
<rect x="25.1" y="428.4" width="207.3" height="3.3" fill="url(#g2_46)"/>
<rect x="25.1" y="430.4" width="207.3" height="3.3" fill="url(#g2_47)"/>
<rect x="25.1" y="432.4" width="207.3" height="3.3" fill="url(#g2_48)"/>
<rect x="25.1" y="434.4" width="207.3" height="3.3" fill="url(#g2_49)"/>
<rect x="25.1" y="436.4" width="207.3" height="3.3" fill="url(#g2_50)"/>
<rect x="25.1" y="438.4" width="207.3" height="3.3" fill="url(#g2_51)"/>
<rect x="25.1" y="440.4" width="207.3" height="3.3" fill="url(#g2_52)"/>
<rect x="25.1" y="442.4" width="207.3" height="3.3" fill="url(#g2_53)"/>
<rect x="25.1" y="444.4" width="207.3" height="3.3" fill="url(#g2_54)"/>
<rect x="25.1" y="446.4" width="207.3" height="3.3" fill="url(#g2_55)"/>
<rect x="25.1" y="448.4" width="207.3" height="3.3" fill="url(#g2_56)"/>
<rect x="25.1" y="450.4" width="207.3" height="3.3" fill="url(#g2_57)"/>
<rect x="25.1" y="452.4" width="207.3" height="3.3" fill="url(#g2_58)"/>
<rect x="25.1" y="454.4" width="207.3" height="3.3" fill="url(#g2_59)"/>
<rect x="25.1" y="456.4" width="207.3" height="3.3" fill="url(#g2_60)"/>
<rect x="25.1" y="458.4" width="207.3" height="3.3" fill="url(#g2_61)"/>
<rect x="25.1" y="460.4" width="207.3" height="3.3" fill="url(#g2_62)"/>
<rect x="25.1" y="462.4" width="207.3" height="3.3" fill="url(#g2_63)"/>
<rect x="25.1" y="464.4" width="207.3" height="3.3" fill="url(#g2_64)"/>
<rect x="25.1" y="466.4" width="207.3" height="3.3" fill="url(#g2_65)"/>
<rect x="25.1" y="468.4" width="207.3" height="3.3" fill="url(#g2_66)"/>
<rect x="25.1" y="470.4" width="207.3" height="3.3" fill="url(#g2_67)"/>
<rect x="25.1" y="472.4" width="207.3" height="3.3" fill="url(#g2_68)"/>
<rect x="25.1" y="474.4" width="207.3" height="3.3" fill="url(#g2_69)"/>
<rect x="25.1" y="476.4" width="207.3" height="3.3" fill="url(#g2_70)"/>
<rect x="25.1" y="478.4" width="207.3" height="3.3" fill="url(#g2_71)"/>
<rect x="25.1" y="480.4" width="207.3" height="3.3" fill="url(#g2_72)"/>
<rect x="25.1" y="482.4" width="207.3" height="3.3" fill="url(#g2_73)"/>
<rect x="25.1" y="484.4" width="207.3" height="3.3" fill="url(#g2_74)"/>
<rect x="25.1" y="486.4" width="207.3" height="3.3" fill="url(#g2_75)"/>
<rect x="25.1" y="488.4" width="207.3" height="3.3" fill="url(#g2_76)"/>
<rect x="25.1" y="490.4" width="207.3" height="3.3" fill="url(#g2_77)"/>
<rect x="25.1" y="492.4" width="207.3" height="3.3" fill="url(#g2_78)"/>
<rect x="25.1" y="494.4" width="207.3" height="3.3" fill="url(#g2_79)"/>
<rect x="25.1" y="496.4" width="207.3" height="3.3" fill="url(#g2_80)"/>
<rect x="25.1" y="498.4" width="207.3" height="3.3" fill="url(#g2_81)"/>
<rect x="25.1" y="500.4" width="207.3" height="3.3" fill="url(#g2_82)"/>
<rect x="25.1" y="502.4" width="207.3" height="3.3" fill="url(#g2_83)"/>
<rect x="25.1" y="504.4" width="207.3" height="3.3" fill="url(#g2_84)"/>
<rect x="25.1" y="506.4" width="207.3" height="3.3" fill="url(#g2_85)"/>
<rect x="25.1" y="508.4" width="207.3" height="3.3" fill="url(#g2_86)"/>
<rect x="25.1" y="510.4" width="207.3" height="3.3" fill="url(#g2_87)"/>
<rect x="25.1" y="512.4" width="207.3" height="3.3" fill="url(#g2_88)"/>
<rect x="25.1" y="514.4" width="207.3" height="3.3" fill="url(#g2_89)"/>
<rect x="25.1" y="516.4" width="207.3" height="3.3" fill="url(#g2_90)"/>
<rect x="25.1" y="518.4" width="207.3" height="3.3" fill="url(#g2_91)"/>
<rect x="25.1" y="520.4" width="207.3" height="3.3" fill="url(#g2_92)"/>
<rect x="25.1" y="522.4" width="207.3" height="3.3" fill="url(#g2_93)"/>
<rect x="25.1" y="524.4" width="207.3" height="3.3" fill="url(#g2_94)"/>
<rect x="25.1" y="526.4" width="207.3" height="3.3" fill="url(#g2_95)"/>
<rect x="25.1" y="528.4" width="207.3" height="3.3" fill="url(#g2_96)"/>
<rect x="25.1" y="530.4" width="207.3" height="3.3" fill="url(#g2_97)"/>
<rect x="25.1" y="532.4" width="207.3" height="3.3" fill="url(#g2_98)"/>
<rect x="25.1" y="534.4" width="207.3" height="3.3" fill="url(#g2_99)"/>
<rect x="25.1" y="536.4" width="207.3" height="3.3" fill="url(#g2_100)"/>
<rect x="25.1" y="538.4" width="207.3" height="3.3" fill="url(#g2_101)"/>
<rect x="25.1" y="540.4" width="207.3" height="3.3" fill="url(#g2_102)"/>
<rect x="25.1" y="542.4" width="207.3" height="3.3" fill="url(#g2_103)"/>
<rect x="25.1" y="544.4" width="207.3" height="3.3" fill="url(#g2_104)"/>
<rect x="25.1" y="546.4" width="207.3" height="3.3" fill="url(#g2_105)"/>
<rect x="25.1" y="548.4" width="207.3" height="3.3" fill="url(#g2_106)"/>
<rect x="25.1" y="550.4" width="207.3" height="3.3" fill="url(#g2_107)"/>
<rect x="25.1" y="552.4" width="207.3" height="3.3" fill="url(#g2_108)"/>
<rect x="25.1" y="554.4" width="207.3" height="3.3" fill="url(#g2_109)"/>
<rect x="25.1" y="556.4" width="207.3" height="3.3" fill="url(#g2_110)"/>
<rect x="25.1" y="558.4" width="207.3" height="3.3" fill="url(#g2_111)"/>
<rect x="25.1" y="560.4" width="207.3" height="3.3" fill="url(#g2_112)"/>
<rect x="25.1" y="562.4" width="207.3" height="3.3" fill="url(#g2_113)"/>
<linearGradient id="bc" gradientUnits="userSpaceOnUse" x1="25.1" x2="232.4" y1="0" y2="0"><stop offset="0" stop-color="#fdae61"/><stop offset="0.1" stop-color="#f67a49"/><stop offset="0.3" stop-color="#d73027"/><stop offset="0.5" stop-color="#b2132a"/><stop offset="1" stop-color="#a50026"/></linearGradient><path fill="url(#bc)" d="M13.8 525.5L16.5 524.3L19.1 523L21.7 521.7L24.3 520.5L26.9 519.2L29.5 517.9L32 516.6L34.6 515.3L37.2 514L39.7 512.6L42.3 511.3L44.8 509.9L47.4 508.5L49.9 507.1L52.4 505.7L54.9 504.3L57.4 502.8L59.8 501.3L62.3 499.8L64.8 498.3L67.2 496.8L69.7 495.3L72.1 493.7L74.6 492.2L77 490.6L79.5 489.1L82 487.6L84.4 486.1L86.9 484.5L89.3 483L91.7 481.4L94.2 479.9L96.6 478.3L98.9 476.7L101.3 475L103.6 473.3L106 471.6L108.3 469.9L110.6 468.1L112.9 466.4L115.3 464.7L117.6 463L120 461.3L122.3 459.6L124.7 457.9L127 456.2L129.3 454.5L131.5 452.7L133.8 450.9L136 449L138.1 447.1L140.1 445.2L142.1 443.1L144 441L145.9 438.8L147.7 436.6L149.5 434.3L151.3 432.1L153 429.8L154.7 427.4L156.4 425.1L158 422.7L159.6 420.3L161.2 417.9L162.7 415.5L164.3 413L165.7 410.6L167.2 408.1L168.6 405.6L170 403.1L171.4 400.5L172.8 398L174.1 395.4L175.3 392.8L176.6 390.2L177.8 387.6L179 385L180.2 382.3L181.3 379.7L182.4 377L183.4 374.4L184.4 371.7L185.3 369L186.1 366.2L186.9 363.5L187.6 360.7L188.3 357.9L189.1 355L189.8 352.2L190.6 349.4L191.5 346.7L192.4 343.9L193.3 341.1L194.2 338.4L195.2 335.7L196.2 332.9L197.2 330.2L198.2 327.5L199.2 324.8L234.4 322.4L234.4 564.6L11.1 564.6Z"/>
<path fill="#191970" d="M19.3 536.8L21.1 533L25.3 533.8L27.1 530L31.3 530.8L33.1 527L37.3 527.8L39 524L43.2 524.7L44.9 520.8L49.1 521.5L50.7 517.6L54.9 518.2L56.5 514.3L60.7 514.9L62.3 510.9L66.5 511.4L68 507.4L72.2 507.9L73.6 503.9L77.8 504.3L79.2 500.3L83.4 500.7L85 496.8L89.2 497.3L90.7 493.3L94.9 493.9L96.4 489.9L100.6 490.4L102.1 486.4L106.3 486.7L107.6 482.7L111.8 482.9L113.1 478.9L117.3 479L118.5 475L122.7 475.2L124 471.1L128.2 471.4L129.5 467.4L133.7 467.4L134.7 463.3L139 463.2L139.8 459.1L144.1 458.8L144.7 454.6L148.9 454.1L149.2 449.9L153.4 449L153.5 444.8L157.6 443.8L157.5 439.5L161.6 438.3L161.4 434.1L165.4 432.8L165.1 428.6L169 427.1L168.6 422.9L172.5 421.4L172 417.2L175.9 415.6L175.2 411.4L179.1 409.7L178.6 405.6L182.6 404L182 399.9L185.9 398.2L185.3 394L189.1 392.3L188.4 388.2L192.2 386.3L191.3 382.2L195.1 380.3L194 376.2L197.7 374L196.4 370L199.9 367.7L198.5 363.7L201.9 361.3L200.5 357.3L204 355L202.7 350.9L206.3 348.7L205.1 344.7L208.8 342.6L207.7 338.5L211.4 336.4L210.3 332.3L214 330.3L234.4 322.4L234.4 564.6L11.1 564.6Z"/>
<path class="c" d="M49.4 336.4L48 339.4L46.6 342.4L45.2 345.3L43.8 348.3L42.5 351.3L41.1 354.3M29.7 381.1L28.7 384.1L27.7 387L26.8 390L25.9 393L24.9 396L23.9 399L23 401.9L22 404.9L21 407.9"/>
<path class="c" d="M83.4 336.4L82.4 339.4L81.3 342.4L80.3 345.4L79.2 348.3L78.2 351.3L77.1 354.3L76.1 357.3L75.1 360.3L74 363.3L73 366.2L71.9 369.2L70.9 372.2L69.9 375.2L68.8 378.2L67.8 381.2L66.7 384.1L65.7 387.1L64.6 390.1L63.5 393.1L62.4 396.1L61.3 399.1L60.2 402L59.1 405L58 408L57 411L55.9 414L54.9 417L53.9 419.9L53 422.9L52 425.9L51 428.9L49.9 431.9L48.8 434.9L47.6 437.8L46.5 440.8L45.3 443.8L44.1 446.8L42.9 449.8L41.8 452.8M31.1 479.6L30.2 482.6L29.3 485.6L28.6 488.6L27.8 491.5L27.1 494.5L26.4 497.5L25.8 500.5L25.3 503.5L24.6 506.5L23.9 509.4L23.2 512.4L22.5 515.4L21.8 518.4"/>
<path class="c" d="M117.9 336.4L116.8 339.4L115.8 342.4L114.7 345.4L113.7 348.4L112.6 351.4L111.6 354.4L110.5 357.3L109.5 360.3L108.5 363.3L107.5 366.3L106.5 369.3L105.6 372.3L104.6 375.3L103.6 378.3L102.6 381.3L101.6 384.3L100.6 387.3L99.6 390.3L98.5 393.3L97.4 396.3L96.2 399.2L95.1 402.2L93.9 405.2L92.7 408.2L91.5 411.2L90.3 414.2L89.1 417.2L87.8 420.2L86.5 423.2L85.3 426.2L84.1 429.2L83 432.2L81.9 435.2M72.9 462.1L71.9 465.1L70.9 468.1L70 471.1L69 474.1L68.1 477.1L67.1 480.1L66.2 483L65.3 486L64.4 489L63.5 492L62.5 495L61.6 498L60.7 501"/>
<path class="c" d="M151.6 336.4L150.5 339.4L149.4 342.4L148.3 345.3L147.2 348.3L146.1 351.3L145.1 354.3L144 357.3L142.9 360.2L141.8 363.2L140.7 366.2L139.6 369.2L138.6 372.2L137.5 375.1L136.4 378.1L135.3 381.1L134.2 384.1L133.1 387.1L131.9 390L130.7 393L129.4 396L128.1 399L126.8 402L125.7 404.9L124.6 407.9M116.5 431.8L115.6 434.8L114.6 437.7L113.6 440.7L112.7 443.7L111.7 446.7L110.7 449.7L109.6 452.6L108.6 455.6L107.5 458.6L106.4 461.6L105.3 464.6L104.2 467.5L103.1 470.5L101.9 473.5L100.8 476.5"/>
<path class="c" d="M182.1 336.4L181.2 339.3L180.3 342.3L179.4 345.2L178.5 348.2L177.6 351.1L176.6 354.1L175.6 357L174.6 360L173.6 362.9L172.6 365.9L171.6 368.8L170.6 371.8L169.5 374.7L168.4 377.7L167.3 380.6M158.2 404.2L157.2 407.1L156.2 410.1L155.1 413L154.1 416L153.2 418.9L152.2 421.9L151.3 424.8L150.3 427.8L149.4 430.7L148.4 433.7L147.4 436.6"/>
<path class="c" style="stroke-width:0.75" d="M21 523.4L23.4 519.8L27.7 520.1L30.1 516.5L34.4 516.8L36.7 513.1L41 513.3L43.2 509.6L47.5 509.8L49.7 506.1L54 506.2L56.1 502.4L60.4 502.4L62.4 498.6L66.8 498.5L68.7 494.7L73.1 494.6L75 490.7L79.3 490.6L81.3 486.8L85.6 486.7L87.6 482.9L91.9 482.7L93.8 478.9L98.2 478.6L100 474.7L104.3 474.3L105.9 470.4L110.2 469.9L111.9 465.9L116.2 465.5L117.9 461.6L122.2 461.2L123.9 457.2L128.2 456.8L129.8 452.8L134.1 452.2L135.5 448.1L139.7 447.2L140.8 443L144.9 441.8L145.6 437.5L149.7 436L150.2 431.8L154.2 430.1L154.6 425.8L158.6 424L158.8 419.7L162.7 417.8L162.8 413.5"/>
<path class="c" style="stroke-width:0.75" d="M23.7 525L26.8 520.8L31.9 520.9L34.9 516.7L40.1 516.8L43 512.5L48.1 512.4L51 508.1L56.1 507.9L58.8 503.6L64 503.3L66.6 498.8L71.8 498.4L74.4 494L79.5 493.6L82.1 489.1L87.3 488.8L89.8 484.3L95 483.9L97.5 479.3L102.6 478.7L104.9 474.1L110 473.3L112.2 468.7L117.3 467.9L119.6 463.3L124.7 462.6L127 457.9L132.1 457.1L134.2 452.4L139.2 451.2L140.9 446.4L145.8 444.7L147 439.7"/>
<path class="c" style="stroke-width:0.9" d="M121.4 465.3L125.5 463.1L128.9 459.9L132.9 457.6L136.1 454.3L140 451.8L142.9 448.2L146.5 445.3L149 441.4L152.4 438.2L154.8 434.3L158 430.9L160.1 426.8L163.2 423.4L165.2 419.2L168.2 415.6L170 411.4L172.8 407.7L174.5 403.4L177.2 399.6L178.7 395.3L181.2 391.4L182.6 387L185 383L186.2 378.5L188.4 374.5L189.3 369.9L191.2 365.7L191.7 361.1L193.5 356.8L194.1 352.2L196 348L196.8 343.5L198.9 339.3L199.9 334.8L202 330.7L203 326.2"/>
<path class="c" style="stroke-width:0.9" d="M175.4 409.4L177.1 405.1L179.8 401.3L181.4 396.9L183.9 393L185.3 388.5L187.7 384.5L188.9 380L191.2 375.9L192.1 371.4L194 367.1L194.6 362.5L196.3 358.1L196.9 353.5L198.8 349.3L199.7 344.7L201.8 340.5L202.8 335.9L204.9 331.8L205.9 327.2"/>
<path class="w" style="stroke-width:1.4" d="M14.3 526.4L16.9 525.2L19.5 523.9L22.1 522.6L24.7 521.4L27.3 520.1L29.9 518.8L32.5 517.5L35.1 516.2L37.6 514.9L40.2 513.5L42.8 512.2L45.3 510.8L47.8 509.4L50.4 508L52.9 506.6L55.4 505.1L57.9 503.7L60.4 502.2L62.8 500.7L65.3 499.2L67.8 497.6L70.2 496.1L72.7 494.6L75.1 493L77.6 491.5L80 490L82.5 488.4L84.9 486.9L87.4 485.4L89.8 483.8L92.3 482.3L94.7 480.7L97.1 479.1L99.5 477.5L101.9 475.8L104.2 474.1L106.5 472.4L108.9 470.7L111.2 468.9L113.5 467.2L115.8 465.5L118.2 463.8L120.5 462.1L122.9 460.4L125.2 458.7L127.6 457L129.9 455.3L132.2 453.5L134.4 451.7L136.6 449.8L138.7 447.9L140.8 445.9L142.8 443.8L144.8 441.6L146.6 439.5L148.5 437.2L150.3 435L152.1 432.7L153.8 430.3L155.5 428L157.2 425.6L158.8 423.3L160.4 420.9L162 418.4L163.6 416L165.1 413.5L166.6 411.1L168.1 408.6L169.5 406.1L170.9 403.5L172.3 401L173.6 398.4L175 395.9L176.2 393.3L177.5 390.7L178.7 388L179.9 385.4L181.1 382.7L182.2 380.1L183.3 377.4L184.4 374.7L185.4 372L186.3 369.3L187.1 366.5L187.9 363.7L188.6 360.9L189.3 358.1L190 355.3L190.8 352.5L191.6 349.7L192.4 347L193.3 344.2L194.2 341.5L195.2 338.7L196.2 336L197.1 333.3L198.1 330.6L199.1 327.8L200.1 325.1"/>
</g>
<text class="l" transform="translate(36.2 367.7) rotate(56)" text-anchor="middle" font-size="10.4" x="-0.8" y="2.2">10<tspan dx="0.9" dy="-3.5" font-size="6.9">−2</tspan></text>
<text class="l" transform="translate(39 466.7) rotate(56)" text-anchor="middle" font-size="10.4" x="-0.8" y="2.2">10<tspan dx="0.9" dy="-3.5" font-size="6.9">−1</tspan></text>
<text class="l" transform="translate(79.2 448.9) rotate(56)" text-anchor="middle" font-size="10.4" x="-0.8" y="2.2">10<tspan dx="0.9" dy="-3.5" font-size="6.9">0</tspan></text>
<text class="l" transform="translate(123.1 420.1) rotate(56)" text-anchor="middle" font-size="10.4" x="-0.8" y="2.2">10<tspan dx="0.9" dy="-3.5" font-size="6.9">1</tspan></text>
<text class="l" transform="translate(161.6 391.9) rotate(56)" text-anchor="middle" font-size="10.4" x="-0.8" y="2.2">10<tspan dx="0.9" dy="-3.5" font-size="6.9">2</tspan></text>
<text class="l" transform="translate(156.1 435.4) rotate(50)" text-anchor="middle" font-size="9" x="-0.8" y="2.2">10<tspan dx="0.9" dy="-3.1" font-size="5.9">3</tspan></text>
<text class="s" font-size="16.5" transform="translate(94.2 516.3) rotate(-31.6)" textLength="101" lengthAdjust="spacingAndGlyphs">Overpressure</text><text class="s" font-size="16.5" transform="translate(99.3 538.5) rotate(-31.6)" textLength="126.2" lengthAdjust="spacingAndGlyphs">accommodated :</text><text class="s" font-size="16.5" transform="translate(124.4 550.4) rotate(-31.6)" textLength="89.4" lengthAdjust="spacingAndGlyphs">no eruption</text>
<text class="t" x="21.2" y="340" text-anchor="end">1</text>
<text class="t" x="21.2" y="365.1" text-anchor="end">2</text>
<text class="t" x="21.2" y="390.3" text-anchor="end">3</text>
<text class="t" x="21.2" y="415.4" text-anchor="end">4</text>
<text class="t" x="21.2" y="440.5" text-anchor="end">5</text>
<text class="t" x="21.2" y="465.7" text-anchor="end">6</text>
<text class="t" x="21.2" y="490.8" text-anchor="end">7</text>
<text class="t" x="21.2" y="515.9" text-anchor="end">8</text>
<text class="t" x="21.2" y="541.1" text-anchor="end">9</text>
<text class="t" x="21.2" y="566.2" text-anchor="end">10</text>
<text x="20.4" y="575.9" font-size="9.5" text-anchor="start">10<tspan dy="-5.5" font-size="6.6">1</tspan></text>
<text x="89.5" y="575.9" font-size="9.5" text-anchor="start">10<tspan dy="-5.5" font-size="6.6">2</tspan></text>
<text x="158.6" y="575.9" font-size="9.5" text-anchor="start">10<tspan dy="-5.5" font-size="6.6">3</tspan></text>
<text x="227.7" y="575.9" font-size="9.5" text-anchor="start">10<tspan dy="-5.5" font-size="6.6">4</tspan></text>
<path class="k" d="M25.1 336.4h-2.3M25.1 361.5h-2.3M25.1 386.7h-2.3M25.1 411.8h-2.3M25.1 436.9h-2.3M25.1 462.1h-2.3M25.1 487.2h-2.3M25.1 512.3h-2.3M25.1 537.5h-2.3M25.1 562.6h-2.3M25.1 562.6v2.3M45.9 562.6v1.3M58.1 562.6v1.3M66.7 562.6v1.3M73.4 562.6v1.3M78.9 562.6v1.3M83.5 562.6v1.3M87.5 562.6v1.3M91 562.6v1.3M94.2 562.6v2.3M115 562.6v1.3M127.2 562.6v1.3M135.8 562.6v1.3M142.5 562.6v1.3M148 562.6v1.3M152.6 562.6v1.3M156.6 562.6v1.3M160.1 562.6v1.3M163.3 562.6v2.3M184.1 562.6v1.3M196.3 562.6v1.3M204.9 562.6v1.3M211.6 562.6v1.3M217.1 562.6v1.3M221.7 562.6v1.3M225.7 562.6v1.3M229.2 562.6v1.3M232.4 562.6v2.3"/>
<text class="t" x="128.2" y="586.9" text-anchor="middle" font-size="9.6">Reservoir radius (m)</text>
<text class="t" transform="translate(6.7 449.5) rotate(-90)" text-anchor="middle" font-size="9.7">Reservoir depth (km)</text>
<text x="128.8" y="333.6" text-anchor="middle" font-size="11.5">(c) Freezing time with deformation</text>
<rect x="245.2" y="336.4" width="11.3" height="226.2" fill="url(#cb)" stroke="#333" stroke-width=".45"/>
<rect x="25.1" y="336.4" width="207.3" height="226.2" fill="none" stroke="#222" stroke-width=".45"/>
<text x="261.1" y="340.8" font-size="9.5" text-anchor="start">10<tspan dy="-5.5" font-size="6.6">3</tspan></text>
<text x="261.1" y="378.5" font-size="9.5" text-anchor="start">10<tspan dy="-5.5" font-size="6.6">2</tspan></text>
<text x="261.1" y="416.2" font-size="9.5" text-anchor="start">10<tspan dy="-5.5" font-size="6.6">1</tspan></text>
<text x="261.1" y="453.9" font-size="9.5" text-anchor="start">10<tspan dy="-5.5" font-size="6.6">0</tspan></text>
<text x="261.1" y="491.6" font-size="9.5" text-anchor="start">10<tspan dy="-5.5" font-size="6.6">−1</tspan></text>
<text x="261.1" y="529.3" font-size="9.5" text-anchor="start">10<tspan dy="-5.5" font-size="6.6">−2</tspan></text>
<text x="261.1" y="567" font-size="9.5" text-anchor="start">10<tspan dy="-5.5" font-size="6.6">−3</tspan></text>
<path class="k" d="M256.5 336.4h2M256.5 362.8h1.1M256.5 356.1h1.1M256.5 351.4h1.1M256.5 347.7h1.1M256.5 344.8h1.1M256.5 342.2h1.1M256.5 340.1h1.1M256.5 338.1h1.1M256.5 374.1h2M256.5 400.5h1.1M256.5 393.8h1.1M256.5 389.1h1.1M256.5 385.4h1.1M256.5 382.5h1.1M256.5 379.9h1.1M256.5 377.8h1.1M256.5 375.8h1.1M256.5 411.8h2M256.5 438.2h1.1M256.5 431.5h1.1M256.5 426.8h1.1M256.5 423.1h1.1M256.5 420.2h1.1M256.5 417.6h1.1M256.5 415.5h1.1M256.5 413.5h1.1M256.5 449.5h2M256.5 475.9h1.1M256.5 469.2h1.1M256.5 464.5h1.1M256.5 460.8h1.1M256.5 457.9h1.1M256.5 455.3h1.1M256.5 453.2h1.1M256.5 451.2h1.1M256.5 487.2h2M256.5 513.6h1.1M256.5 506.9h1.1M256.5 502.2h1.1M256.5 498.5h1.1M256.5 495.6h1.1M256.5 493h1.1M256.5 490.9h1.1M256.5 488.9h1.1M256.5 524.9h2M256.5 551.3h1.1M256.5 544.6h1.1M256.5 539.9h1.1M256.5 536.2h1.1M256.5 533.3h1.1M256.5 530.7h1.1M256.5 528.6h1.1M256.5 526.6h1.1M256.5 562.6h2"/>
<text x="233.8" y="325.3" font-size="9.7"><tspan font-style="italic" font-family="Liberation Sans" font-size="11">t</tspan><tspan dy="2" font-size="7.5" font-style="italic" font-family="Liberation Sans">cv</tspan><tspan dy="-2"> (years)</tspan></text>
<g clip-path="url(#p3)">
<rect x="330.7" y="336.4" width="207.3" height="3.3" fill="url(#g3_0)"/>
<rect x="330.7" y="338.4" width="207.3" height="3.3" fill="url(#g3_1)"/>
<rect x="330.7" y="340.4" width="207.3" height="3.3" fill="url(#g3_2)"/>
<rect x="330.7" y="342.4" width="207.3" height="3.3" fill="url(#g3_3)"/>
<rect x="330.7" y="344.4" width="207.3" height="3.3" fill="url(#g3_4)"/>
<rect x="330.7" y="346.4" width="207.3" height="3.3" fill="url(#g3_5)"/>
<rect x="330.7" y="348.4" width="207.3" height="3.3" fill="url(#g3_6)"/>
<rect x="330.7" y="350.4" width="207.3" height="3.3" fill="url(#g3_7)"/>
<rect x="330.7" y="352.4" width="207.3" height="3.3" fill="url(#g3_8)"/>
<rect x="330.7" y="354.4" width="207.3" height="3.3" fill="url(#g3_9)"/>
<rect x="330.7" y="356.4" width="207.3" height="3.3" fill="url(#g3_10)"/>
<rect x="330.7" y="358.4" width="207.3" height="3.3" fill="url(#g3_11)"/>
<rect x="330.7" y="360.4" width="207.3" height="3.3" fill="url(#g3_12)"/>
<rect x="330.7" y="362.4" width="207.3" height="3.3" fill="url(#g3_13)"/>
<rect x="330.7" y="364.4" width="207.3" height="3.3" fill="url(#g3_14)"/>
<rect x="330.7" y="366.4" width="207.3" height="3.3" fill="url(#g3_15)"/>
<rect x="330.7" y="368.4" width="207.3" height="3.3" fill="url(#g3_16)"/>
<rect x="330.7" y="370.4" width="207.3" height="3.3" fill="url(#g3_17)"/>
<rect x="330.7" y="372.4" width="207.3" height="3.3" fill="url(#g3_18)"/>
<rect x="330.7" y="374.4" width="207.3" height="3.3" fill="url(#g3_19)"/>
<rect x="330.7" y="376.4" width="207.3" height="3.3" fill="url(#g3_20)"/>
<rect x="330.7" y="378.4" width="207.3" height="3.3" fill="url(#g3_21)"/>
<rect x="330.7" y="380.4" width="207.3" height="3.3" fill="url(#g3_22)"/>
<rect x="330.7" y="382.4" width="207.3" height="3.3" fill="url(#g3_23)"/>
<rect x="330.7" y="384.4" width="207.3" height="3.3" fill="url(#g3_24)"/>
<rect x="330.7" y="386.4" width="207.3" height="3.3" fill="url(#g3_25)"/>
<rect x="330.7" y="388.4" width="207.3" height="3.3" fill="url(#g3_26)"/>
<rect x="330.7" y="390.4" width="207.3" height="3.3" fill="url(#g3_27)"/>
<rect x="330.7" y="392.4" width="207.3" height="3.3" fill="url(#g3_28)"/>
<rect x="330.7" y="394.4" width="207.3" height="3.3" fill="url(#g3_29)"/>
<rect x="330.7" y="396.4" width="207.3" height="3.3" fill="url(#g3_30)"/>
<rect x="330.7" y="398.4" width="207.3" height="3.3" fill="url(#g3_31)"/>
<rect x="330.7" y="400.4" width="207.3" height="3.3" fill="url(#g3_32)"/>
<rect x="330.7" y="402.4" width="207.3" height="3.3" fill="url(#g3_33)"/>
<rect x="330.7" y="404.4" width="207.3" height="3.3" fill="url(#g3_34)"/>
<rect x="330.7" y="406.4" width="207.3" height="3.3" fill="url(#g3_35)"/>
<rect x="330.7" y="408.4" width="207.3" height="3.3" fill="url(#g3_36)"/>
<rect x="330.7" y="410.4" width="207.3" height="3.3" fill="url(#g3_37)"/>
<rect x="330.7" y="412.4" width="207.3" height="3.3" fill="url(#g3_38)"/>
<rect x="330.7" y="414.4" width="207.3" height="3.3" fill="url(#g3_39)"/>
<rect x="330.7" y="416.4" width="207.3" height="3.3" fill="url(#g3_40)"/>
<rect x="330.7" y="418.4" width="207.3" height="3.3" fill="url(#g3_41)"/>
<rect x="330.7" y="420.4" width="207.3" height="3.3" fill="url(#g3_42)"/>
<rect x="330.7" y="422.4" width="207.3" height="3.3" fill="url(#g3_43)"/>
<rect x="330.7" y="424.4" width="207.3" height="3.3" fill="url(#g3_44)"/>
<rect x="330.7" y="426.4" width="207.3" height="3.3" fill="url(#g3_45)"/>
<rect x="330.7" y="428.4" width="207.3" height="3.3" fill="url(#g3_46)"/>
<rect x="330.7" y="430.4" width="207.3" height="3.3" fill="url(#g3_47)"/>
<rect x="330.7" y="432.4" width="207.3" height="3.3" fill="url(#g3_48)"/>
<rect x="330.7" y="434.4" width="207.3" height="3.3" fill="url(#g3_49)"/>
<rect x="330.7" y="436.4" width="207.3" height="3.3" fill="url(#g3_50)"/>
<rect x="330.7" y="438.4" width="207.3" height="3.3" fill="url(#g3_51)"/>
<rect x="330.7" y="440.4" width="207.3" height="3.3" fill="url(#g3_52)"/>
<rect x="330.7" y="442.4" width="207.3" height="3.3" fill="url(#g3_53)"/>
<rect x="330.7" y="444.4" width="207.3" height="3.3" fill="url(#g3_54)"/>
<rect x="330.7" y="446.4" width="207.3" height="3.3" fill="url(#g3_55)"/>
<rect x="330.7" y="448.4" width="207.3" height="3.3" fill="url(#g3_56)"/>
<rect x="330.7" y="450.4" width="207.3" height="3.3" fill="url(#g3_57)"/>
<rect x="330.7" y="452.4" width="207.3" height="3.3" fill="url(#g3_58)"/>
<rect x="330.7" y="454.4" width="207.3" height="3.3" fill="url(#g3_59)"/>
<rect x="330.7" y="456.4" width="207.3" height="3.3" fill="url(#g3_60)"/>
<rect x="330.7" y="458.4" width="207.3" height="3.3" fill="url(#g3_61)"/>
<rect x="330.7" y="460.4" width="207.3" height="3.3" fill="url(#g3_62)"/>
<rect x="330.7" y="462.4" width="207.3" height="3.3" fill="url(#g3_63)"/>
<rect x="330.7" y="464.4" width="207.3" height="3.3" fill="url(#g3_64)"/>
<rect x="330.7" y="466.4" width="207.3" height="3.3" fill="url(#g3_65)"/>
<rect x="330.7" y="468.4" width="207.3" height="3.3" fill="url(#g3_66)"/>
<rect x="330.7" y="470.4" width="207.3" height="3.3" fill="url(#g3_67)"/>
<rect x="330.7" y="472.4" width="207.3" height="3.3" fill="url(#g3_68)"/>
<rect x="330.7" y="474.4" width="207.3" height="3.3" fill="url(#g3_69)"/>
<rect x="330.7" y="476.4" width="207.3" height="3.3" fill="url(#g3_70)"/>
<rect x="330.7" y="478.4" width="207.3" height="3.3" fill="url(#g3_71)"/>
<rect x="330.7" y="480.4" width="207.3" height="3.3" fill="url(#g3_72)"/>
<rect x="330.7" y="482.4" width="207.3" height="3.3" fill="url(#g3_73)"/>
<rect x="330.7" y="484.4" width="207.3" height="3.3" fill="url(#g3_74)"/>
<rect x="330.7" y="486.4" width="207.3" height="3.3" fill="url(#g3_75)"/>
<rect x="330.7" y="488.4" width="207.3" height="3.3" fill="url(#g3_76)"/>
<rect x="330.7" y="490.4" width="207.3" height="3.3" fill="url(#g3_77)"/>
<rect x="330.7" y="492.4" width="207.3" height="3.3" fill="url(#g3_78)"/>
<rect x="330.7" y="494.4" width="207.3" height="3.3" fill="url(#g3_79)"/>
<rect x="330.7" y="496.4" width="207.3" height="3.3" fill="url(#g3_80)"/>
<rect x="330.7" y="498.4" width="207.3" height="3.3" fill="url(#g3_81)"/>
<rect x="330.7" y="500.4" width="207.3" height="3.3" fill="url(#g3_82)"/>
<rect x="330.7" y="502.4" width="207.3" height="3.3" fill="url(#g3_83)"/>
<rect x="330.7" y="504.4" width="207.3" height="3.3" fill="url(#g3_84)"/>
<rect x="330.7" y="506.4" width="207.3" height="3.3" fill="url(#g3_85)"/>
<rect x="330.7" y="508.4" width="207.3" height="3.3" fill="url(#g3_86)"/>
<rect x="330.7" y="510.4" width="207.3" height="3.3" fill="url(#g3_87)"/>
<rect x="330.7" y="512.4" width="207.3" height="3.3" fill="url(#g3_88)"/>
<rect x="330.7" y="514.4" width="207.3" height="3.3" fill="url(#g3_89)"/>
<rect x="330.7" y="516.4" width="207.3" height="3.3" fill="url(#g3_90)"/>
<rect x="330.7" y="518.4" width="207.3" height="3.3" fill="url(#g3_91)"/>
<rect x="330.7" y="520.4" width="207.3" height="3.3" fill="url(#g3_92)"/>
<rect x="330.7" y="522.4" width="207.3" height="3.3" fill="url(#g3_93)"/>
<rect x="330.7" y="524.4" width="207.3" height="3.3" fill="url(#g3_94)"/>
<rect x="330.7" y="526.4" width="207.3" height="3.3" fill="url(#g3_95)"/>
<rect x="330.7" y="528.4" width="207.3" height="3.3" fill="url(#g3_96)"/>
<rect x="330.7" y="530.4" width="207.3" height="3.3" fill="url(#g3_97)"/>
<rect x="330.7" y="532.4" width="207.3" height="3.3" fill="url(#g3_98)"/>
<rect x="330.7" y="534.4" width="207.3" height="3.3" fill="url(#g3_99)"/>
<rect x="330.7" y="536.4" width="207.3" height="3.3" fill="url(#g3_100)"/>
<rect x="330.7" y="538.4" width="207.3" height="3.3" fill="url(#g3_101)"/>
<rect x="330.7" y="540.4" width="207.3" height="3.3" fill="url(#g3_102)"/>
<rect x="330.7" y="542.4" width="207.3" height="3.3" fill="url(#g3_103)"/>
<rect x="330.7" y="544.4" width="207.3" height="3.3" fill="url(#g3_104)"/>
<rect x="330.7" y="546.4" width="207.3" height="3.3" fill="url(#g3_105)"/>
<rect x="330.7" y="548.4" width="207.3" height="3.3" fill="url(#g3_106)"/>
<rect x="330.7" y="550.4" width="207.3" height="3.3" fill="url(#g3_107)"/>
<rect x="330.7" y="552.4" width="207.3" height="3.3" fill="url(#g3_108)"/>
<rect x="330.7" y="554.4" width="207.3" height="3.3" fill="url(#g3_109)"/>
<rect x="330.7" y="556.4" width="207.3" height="3.3" fill="url(#g3_110)"/>
<rect x="330.7" y="558.4" width="207.3" height="3.3" fill="url(#g3_111)"/>
<rect x="330.7" y="560.4" width="207.3" height="3.3" fill="url(#g3_112)"/>
<rect x="330.7" y="562.4" width="207.3" height="3.3" fill="url(#g3_113)"/>
<linearGradient id="bd" gradientUnits="userSpaceOnUse" x1="330.7" x2="538" y1="0" y2="0"><stop offset="0" stop-color="#f99a58"/><stop offset="0.1" stop-color="#f46d43"/><stop offset="0.3" stop-color="#d73027"/><stop offset="0.5" stop-color="#b2132a"/><stop offset="1" stop-color="#a50026"/></linearGradient><path fill="url(#bd)" d="M319.6 510.2L322 508.9L324.4 507.6L326.8 506.3L329.2 505L331.6 503.7L334 502.5L336.4 501.1L338.8 499.8L341.2 498.5L343.6 497.2L345.9 495.9L348.3 494.5L350.7 493.2L353 491.8L355.4 490.4L357.7 489.1L360 487.7L362.4 486.3L364.7 484.9L367 483.5L369.3 482L371.7 480.6L374 479.2L376.3 477.7L378.6 476.3L380.9 474.8L383.2 473.4L385.5 472L387.8 470.5L390.1 469.1L392.4 467.6L394.7 466.2L397 464.7L399.3 463.3L401.6 461.8L403.9 460.4L406.2 458.9L408.5 457.4L410.8 456L413.1 454.5L415.4 453L417.6 451.5L419.9 450L422.1 448.4L424.3 446.9L426.5 445.3L428.7 443.6L430.8 442L433 440.3L435.2 438.7L437.4 437.1L439.6 435.5L441.7 433.8L443.9 432.2L445.9 430.5L448 428.7L450 426.9L451.9 425L453.8 423.1L455.5 421.1L457.2 419L458.8 416.9L460.2 414.6L461.6 412.3L463 410L464.2 407.6L465.4 405.2L466.6 402.8L467.8 400.3L468.9 397.8L469.9 395.3L470.9 392.8L471.8 390.3L472.7 387.7L473.7 385.2L474.6 382.6L475.6 380L476.6 377.5L477.6 375L478.7 372.5L479.8 370L480.9 367.5L482 365L483.1 362.5L484.2 360L485.3 357.5L486.4 355L487.5 352.5L488.6 350L489.6 347.5L490.7 345L491.7 342.5L492.8 340L493.9 337.5L494.9 335L495.9 332.5L497 330L498 327.4L499.1 324.9L540 322.4L540 564.6L316.7 564.6Z"/>
<path fill="#191970" d="M321.1 522.3L322.6 518.3L326.9 518.8L328.4 514.9L332.6 515.4L334.2 511.4L338.4 511.9L339.9 508L344.1 508.5L345.7 504.5L349.9 505L351.5 501.1L355.7 501.6L357.3 497.7L361.5 498.2L363.1 494.3L367.3 494.8L368.9 490.9L373.1 491.4L374.7 487.5L379 488.1L380.6 484.2L384.8 484.8L386.5 480.9L390.7 481.6L392.4 477.7L396.6 478.4L398.3 474.5L402.5 475.1L404.1 471.2L408.3 471.7L409.8 467.7L414 468L415.4 464L419.6 464.2L420.9 460.2L425.1 460.3L426.3 456.3L430.6 456.4L431.8 452.4L436.1 452.6L437.4 448.6L441.7 448.9L443.1 444.9L447.4 445.3L448.7 441.3L453 441.4L454 437.3L458.2 437L458.5 432.7L462.6 431.6L462.2 427.3L466.1 425.6L465.3 421.4L469.1 419.6L468.2 415.4L472 413.5L471.1 409.3L474.9 407.4L474 403.3L477.7 401.3L476.8 397.2L480.6 395.3L479.8 391.1L483.6 389.3L482.8 385.1L486.6 383.2L485.7 379.1L489.5 377.1L488.6 373L492.4 371.1L491.6 366.9L495.6 365.3L495 361L498.9 359.5L498.4 355.3L502.4 353.6L501.7 349.5L505.5 347.6L504.4 343.4L508.1 341.3L506.8 337.2L510.3 334.9L508.8 330.9L512.3 328.4L510.8 324.4L540 322.4L540 564.6L316.7 564.6Z"/>
<path class="c" d="M361.5 336.4L360.5 339.3L359.4 342.2L358.4 345.1L357.3 348.1L356.3 351L355.2 353.9L354.2 356.8L353.1 359.7L352 362.6L351 365.6L349.9 368.5L348.9 371.4L347.8 374.3L346.8 377.2M336.9 403.5L335.8 406.4L334.9 409.3L334 412.2L333.3 415.1L332.6 418.1L331.9 421L331.3 423.9L330.8 426.8L330.2 429.7L329.5 432.6L328.9 435.6L328.3 438.5L327.6 441.4"/>
<path class="c" d="M396.4 336.4L395.3 339.4L394.3 342.3L393.2 345.3L392.2 348.3L391.1 351.2L390.1 354.2L389.1 357.2L388.1 360.1L387.1 363.1L386.1 366.1L385.1 369L384.1 372L383.2 375L382.3 377.9L381.3 380.9L380.4 383.9L379.6 386.8L378.7 389.8L377.8 392.8L376.9 395.7L376 398.7L375 401.7L374.1 404.6M365.6 428.3L364.6 431.3L363.5 434.3L362.5 437.2L361.5 440.2L360.6 443.2L359.7 446.1L358.8 449.1L358 452.1L357.1 455L356.3 458L355.4 461L354.5 463.9L353.6 466.9L352.7 469.9L351.8 472.8L350.9 475.8L350 478.8L349 481.7L348 484.7L346.9 487.7L345.6 490.6L344.1 493.6L342.2 496.6L340.4 499.5"/>
<path class="c" d="M428.9 336.4L427.8 339.3L426.8 342.3L425.8 345.2L424.7 348.2L423.7 351.1L422.7 354L421.6 357L420.6 359.9L419.6 362.9L418.6 365.8L417.6 368.8L416.7 371.7M408.9 395.2L408 398.2L407 401.1L406.1 404L405.1 407L404.2 409.9L403.2 412.9L402.3 415.8L401.4 418.8L400.4 421.7L399.5 424.6L398.6 427.6L397.7 430.5L396.7 433.5L395.9 436.4L395 439.3L394.2 442.3L393.4 445.2L392.6 448.2L391.7 451.1L390.8 454L389.9 457L388.8 459.9L387.7 462.9L386.4 465.8L384.9 468.8L383.3 471.7L381.8 474.6"/>
<path class="c" d="M465.6 336.4L464.3 339.4L462.9 342.4L461.6 345.4L460.3 348.4L459 351.3M449.1 375.2L448.1 378.2L447.3 381.2L446.4 384.2L445.5 387.2L444.6 390.2L443.7 393.2L442.7 396.2L441.7 399.1L440.7 402.1L439.7 405.1L438.7 408.1L437.7 411.1L436.7 414.1L435.7 417.1L434.7 420.1L433.8 423.1L432.8 426L431.9 429L430.8 432L429.8 435L428.6 438L427.4 441L426.1 444L424.7 447"/>
<path class="c" style="stroke-width:0.75" d="M326.8 507.7L329 504L333.4 504.2L335.6 500.5L339.9 500.6L342.1 496.9L346.5 496.9L348.6 493.2L353 493.2L355.1 489.4L359.4 489.4L361.5 485.6L365.8 485.6L367.9 481.8L372.2 481.7L374.2 477.8L378.5 477.7L380.5 473.9L384.9 473.8L386.9 469.9L391.2 469.8L393.2 466L397.5 465.8L399.5 462L403.9 461.8L405.8 458L410.1 457.8L412.1 453.9L416.4 453.7L418.3 449.8L422.6 449.5L424.4 445.6L428.7 445.1L430.3 441.1L434.7 440.6L436.3 436.6L440.6 436.1L442.3 432.1L446.6 431.5L448 427.4L452.2 426.5L453.2 422.2L457.3 420.8L457.8 416.5L461.7 414.6L461.7 410.3L465.4 408L465.1 403.7L468.6 401.3L468.1 397L471.6 394.3"/>
<path class="c" style="stroke-width:0.75" d="M329.5 509.2L332.4 504.9L337.6 504.8L340.5 500.5L345.6 500.4L348.4 496L353.6 495.8L356.4 491.5L361.6 491.2L364.2 486.8L369.4 486.5L372.1 482L377.2 481.6L379.8 477.2L385 476.8L387.6 472.3L392.8 471.9L395.4 467.4L400.6 467L403.1 462.5L408.3 462.1L410.9 457.6L416 457.1L418.5 452.6L423.7 452L426 447.4L431.1 446.6L433.3 441.9L438.4 441L440.7 436.4L445.8 435.5L447.8 430.7L452.8 429.5L454.4 424.5"/>
<path class="c" style="stroke-width:0.9" d="M427.8 449.4L431.9 447.1L435.2 443.8L439.3 441.5L442.6 438.3L446.6 436L449.8 432.6L453.6 429.9L456.4 426.3L459.9 423.2L462.2 419.1L465.2 415.6L466.9 411.3L469.6 407.5L471 403L473.4 399.1L474.6 394.6L476.8 390.5L477.7 385.9L479.9 381.8L481.1 377.3L483.5 373.3L484.8 368.9L487.2 364.9L488.5 360.4L490.9 356.5L492.2 352L494.5 348L495.8 343.5L498.1 339.5L499.3 335L501.7 331L502.9 326.5"/>
<path class="c" style="stroke-width:0.9" d="M480.4 387.6L482.6 383.4L483.8 378.9L486.2 374.9L487.5 370.4L490 366.4L491.3 361.9L493.7 357.9L495 353.4L497.3 349.3L498.6 344.8L500.9 340.8L502.2 336.3L504.5 332.2L505.7 327.7"/>
<path class="w" style="stroke-width:1.4" d="M320.1 511.1L322.5 509.8L324.9 508.5L327.3 507.2L329.7 505.9L332.1 504.6L334.5 503.3L336.9 502L339.3 500.7L341.7 499.4L344.1 498.1L346.4 496.7L348.8 495.4L351.2 494L353.5 492.7L355.9 491.3L358.2 489.9L360.6 488.5L362.9 487.1L365.2 485.7L367.5 484.3L369.9 482.9L372.2 481.5L374.5 480L376.8 478.6L379.1 477.1L381.4 475.7L383.7 474.3L386 472.8L388.4 471.4L390.7 469.9L393 468.5L395.3 467L397.6 465.6L399.9 464.1L402.2 462.7L404.5 461.2L406.8 459.7L409.1 458.3L411.4 456.8L413.6 455.3L415.9 453.8L418.2 452.3L420.4 450.8L422.7 449.2L424.9 447.7L427.1 446.1L429.3 444.4L431.4 442.8L433.6 441.1L435.8 439.5L438 437.9L440.2 436.3L442.3 434.6L444.5 432.9L446.6 431.2L448.7 429.5L450.7 427.6L452.6 425.7L454.5 423.8L456.3 421.7L458 419.6L459.6 417.4L461.1 415.2L462.5 412.8L463.8 410.5L465.1 408.1L466.3 405.6L467.5 403.2L468.7 400.7L469.8 398.2L470.8 395.7L471.8 393.2L472.8 390.6L473.7 388.1L474.6 385.5L475.5 383L476.5 380.4L477.5 377.9L478.6 375.4L479.6 372.9L480.7 370.4L481.8 367.9L483 365.4L484.1 362.9L485.1 360.4L486.2 357.9L487.3 355.4L488.4 352.9L489.5 350.4L490.5 347.9L491.6 345.4L492.7 342.9L493.7 340.4L494.8 337.9L495.8 335.4L496.9 332.9L497.9 330.3L499 327.8L500 325.3"/>
</g>
<text class="l" transform="translate(344 389.9) rotate(56)" text-anchor="middle" font-size="10.4" x="-0.8" y="2.2">10<tspan dx="0.9" dy="-3.5" font-size="6.9">−1</tspan></text>
<text class="l" transform="translate(371.5 415.9) rotate(56)" text-anchor="middle" font-size="10.4" x="-0.8" y="2.2">10<tspan dx="0.9" dy="-3.5" font-size="6.9">0</tspan></text>
<text class="l" transform="translate(414.1 383.4) rotate(56)" text-anchor="middle" font-size="10.4" x="-0.8" y="2.2">10<tspan dx="0.9" dy="-3.5" font-size="6.9">1</tspan></text>
<text class="l" transform="translate(454.9 362.5) rotate(56)" text-anchor="middle" font-size="10.4" x="-0.8" y="2.2">10<tspan dx="0.9" dy="-3.5" font-size="6.9">2</tspan></text>
<text class="l" transform="translate(497.9 347) rotate(62)" text-anchor="middle" font-size="9" x="-0.8" y="2.2">10<tspan dx="0.9" dy="-3.1" font-size="5.9">3</tspan></text>
<text class="l" transform="translate(461.3 418.9) rotate(50)" text-anchor="middle" font-size="9" x="-0.8" y="2.2">10<tspan dx="0.9" dy="-3.1" font-size="5.9">3</tspan></text>
<text class="s" font-size="16.5" transform="translate(399.8 516.3) rotate(-31.6)" textLength="101" lengthAdjust="spacingAndGlyphs">Overpressure</text><text class="s" font-size="16.5" transform="translate(404.9 538.5) rotate(-31.6)" textLength="126.2" lengthAdjust="spacingAndGlyphs">accommodated :</text><text class="s" font-size="16.5" transform="translate(430 550.4) rotate(-31.6)" textLength="89.4" lengthAdjust="spacingAndGlyphs">no eruption</text>
<text class="t" x="326.8" y="340" text-anchor="end">1</text>
<text class="t" x="326.8" y="365.1" text-anchor="end">2</text>
<text class="t" x="326.8" y="390.3" text-anchor="end">3</text>
<text class="t" x="326.8" y="415.4" text-anchor="end">4</text>
<text class="t" x="326.8" y="440.5" text-anchor="end">5</text>
<text class="t" x="326.8" y="465.7" text-anchor="end">6</text>
<text class="t" x="326.8" y="490.8" text-anchor="end">7</text>
<text class="t" x="326.8" y="515.9" text-anchor="end">8</text>
<text class="t" x="326.8" y="541.1" text-anchor="end">9</text>
<text class="t" x="326.8" y="566.2" text-anchor="end">10</text>
<text x="326" y="575.9" font-size="9.5" text-anchor="start">10<tspan dy="-5.5" font-size="6.6">1</tspan></text>
<text x="395.1" y="575.9" font-size="9.5" text-anchor="start">10<tspan dy="-5.5" font-size="6.6">2</tspan></text>
<text x="464.2" y="575.9" font-size="9.5" text-anchor="start">10<tspan dy="-5.5" font-size="6.6">3</tspan></text>
<text x="533.3" y="575.9" font-size="9.5" text-anchor="start">10<tspan dy="-5.5" font-size="6.6">4</tspan></text>
<path class="k" d="M330.7 336.4h-2.3M330.7 361.5h-2.3M330.7 386.7h-2.3M330.7 411.8h-2.3M330.7 436.9h-2.3M330.7 462.1h-2.3M330.7 487.2h-2.3M330.7 512.3h-2.3M330.7 537.5h-2.3M330.7 562.6h-2.3M330.7 562.6v2.3M351.5 562.6v1.3M363.7 562.6v1.3M372.3 562.6v1.3M379 562.6v1.3M384.5 562.6v1.3M389.1 562.6v1.3M393.1 562.6v1.3M396.6 562.6v1.3M399.8 562.6v2.3M420.6 562.6v1.3M432.8 562.6v1.3M441.4 562.6v1.3M448.1 562.6v1.3M453.6 562.6v1.3M458.2 562.6v1.3M462.2 562.6v1.3M465.7 562.6v1.3M468.9 562.6v2.3M489.7 562.6v1.3M501.9 562.6v1.3M510.5 562.6v1.3M517.2 562.6v1.3M522.7 562.6v1.3M527.3 562.6v1.3M531.3 562.6v1.3M534.8 562.6v1.3M538 562.6v2.3"/>
<text class="t" x="433.9" y="586.9" text-anchor="middle" font-size="9.6">Reservoir radius (m)</text>
<text class="t" transform="translate(312.3 449.5) rotate(-90)" text-anchor="middle" font-size="9.7">Reservoir depth (km)</text>
<text x="434.4" y="333.6" text-anchor="middle" font-size="11.5">(d) Freezing time with deformation</text>
<rect x="550.3" y="336.4" width="11.3" height="226.2" fill="url(#cb)" stroke="#333" stroke-width=".45"/>
<rect x="330.7" y="336.4" width="207.3" height="226.2" fill="none" stroke="#222" stroke-width=".45"/>
<text x="566.2" y="340.8" font-size="9.5" text-anchor="start">10<tspan dy="-5.5" font-size="6.6">3</tspan></text>
<text x="566.2" y="378.5" font-size="9.5" text-anchor="start">10<tspan dy="-5.5" font-size="6.6">2</tspan></text>
<text x="566.2" y="416.2" font-size="9.5" text-anchor="start">10<tspan dy="-5.5" font-size="6.6">1</tspan></text>
<text x="566.2" y="453.9" font-size="9.5" text-anchor="start">10<tspan dy="-5.5" font-size="6.6">0</tspan></text>
<text x="566.2" y="491.6" font-size="9.5" text-anchor="start">10<tspan dy="-5.5" font-size="6.6">−1</tspan></text>
<text x="566.2" y="529.3" font-size="9.5" text-anchor="start">10<tspan dy="-5.5" font-size="6.6">−2</tspan></text>
<text x="566.2" y="567" font-size="9.5" text-anchor="start">10<tspan dy="-5.5" font-size="6.6">−3</tspan></text>
<path class="k" d="M561.6 336.4h2M561.6 362.8h1.1M561.6 356.1h1.1M561.6 351.4h1.1M561.6 347.7h1.1M561.6 344.8h1.1M561.6 342.2h1.1M561.6 340.1h1.1M561.6 338.1h1.1M561.6 374.1h2M561.6 400.5h1.1M561.6 393.8h1.1M561.6 389.1h1.1M561.6 385.4h1.1M561.6 382.5h1.1M561.6 379.9h1.1M561.6 377.8h1.1M561.6 375.8h1.1M561.6 411.8h2M561.6 438.2h1.1M561.6 431.5h1.1M561.6 426.8h1.1M561.6 423.1h1.1M561.6 420.2h1.1M561.6 417.6h1.1M561.6 415.5h1.1M561.6 413.5h1.1M561.6 449.5h2M561.6 475.9h1.1M561.6 469.2h1.1M561.6 464.5h1.1M561.6 460.8h1.1M561.6 457.9h1.1M561.6 455.3h1.1M561.6 453.2h1.1M561.6 451.2h1.1M561.6 487.2h2M561.6 513.6h1.1M561.6 506.9h1.1M561.6 502.2h1.1M561.6 498.5h1.1M561.6 495.6h1.1M561.6 493h1.1M561.6 490.9h1.1M561.6 488.9h1.1M561.6 524.9h2M561.6 551.3h1.1M561.6 544.6h1.1M561.6 539.9h1.1M561.6 536.2h1.1M561.6 533.3h1.1M561.6 530.7h1.1M561.6 528.6h1.1M561.6 526.6h1.1M561.6 562.6h2"/>
<text x="538.9" y="325.3" font-size="9.7"><tspan font-style="italic" font-family="Liberation Sans" font-size="11">t</tspan><tspan dy="2" font-size="7.5" font-style="italic" font-family="Liberation Sans">cv</tspan><tspan dy="-2"> (years)</tspan></text>
<g clip-path="url(#p4)">
<rect x="25.1" y="623.4" width="207.3" height="3.3" fill="url(#g4_0)"/>
<rect x="25.1" y="625.4" width="207.3" height="3.3" fill="url(#g4_1)"/>
<rect x="25.1" y="627.4" width="207.3" height="3.3" fill="url(#g4_2)"/>
<rect x="25.1" y="629.4" width="207.3" height="3.3" fill="url(#g4_3)"/>
<rect x="25.1" y="631.4" width="207.3" height="3.3" fill="url(#g4_4)"/>
<rect x="25.1" y="633.4" width="207.3" height="3.3" fill="url(#g4_5)"/>
<rect x="25.1" y="635.4" width="207.3" height="3.3" fill="url(#g4_6)"/>
<rect x="25.1" y="637.4" width="207.3" height="3.3" fill="url(#g4_7)"/>
<rect x="25.1" y="639.4" width="207.3" height="3.3" fill="url(#g4_8)"/>
<rect x="25.1" y="641.4" width="207.3" height="3.3" fill="url(#g4_9)"/>
<rect x="25.1" y="643.4" width="207.3" height="3.3" fill="url(#g4_10)"/>
<rect x="25.1" y="645.4" width="207.3" height="3.3" fill="url(#g4_11)"/>
<rect x="25.1" y="647.4" width="207.3" height="3.3" fill="url(#g4_12)"/>
<rect x="25.1" y="649.4" width="207.3" height="3.3" fill="url(#g4_13)"/>
<rect x="25.1" y="651.4" width="207.3" height="3.3" fill="url(#g4_14)"/>
<rect x="25.1" y="653.4" width="207.3" height="3.3" fill="url(#g4_15)"/>
<rect x="25.1" y="655.4" width="207.3" height="3.3" fill="url(#g4_16)"/>
<rect x="25.1" y="657.4" width="207.3" height="3.3" fill="url(#g4_17)"/>
<rect x="25.1" y="659.4" width="207.3" height="3.3" fill="url(#g4_18)"/>
<rect x="25.1" y="661.4" width="207.3" height="3.3" fill="url(#g4_19)"/>
<rect x="25.1" y="663.4" width="207.3" height="3.3" fill="url(#g4_20)"/>
<rect x="25.1" y="665.4" width="207.3" height="3.3" fill="url(#g4_21)"/>
<rect x="25.1" y="667.4" width="207.3" height="3.3" fill="url(#g4_22)"/>
<rect x="25.1" y="669.4" width="207.3" height="3.3" fill="url(#g4_23)"/>
<rect x="25.1" y="671.4" width="207.3" height="3.3" fill="url(#g4_24)"/>
<rect x="25.1" y="673.4" width="207.3" height="3.3" fill="url(#g4_25)"/>
<rect x="25.1" y="675.4" width="207.3" height="3.3" fill="url(#g4_26)"/>
<rect x="25.1" y="677.4" width="207.3" height="3.3" fill="url(#g4_27)"/>
<rect x="25.1" y="679.4" width="207.3" height="3.3" fill="url(#g4_28)"/>
<rect x="25.1" y="681.4" width="207.3" height="3.3" fill="url(#g4_29)"/>
<rect x="25.1" y="683.4" width="207.3" height="3.3" fill="url(#g4_30)"/>
<rect x="25.1" y="685.4" width="207.3" height="3.3" fill="url(#g4_31)"/>
<rect x="25.1" y="687.4" width="207.3" height="3.3" fill="url(#g4_32)"/>
<rect x="25.1" y="689.4" width="207.3" height="3.3" fill="url(#g4_33)"/>
<rect x="25.1" y="691.4" width="207.3" height="3.3" fill="url(#g4_34)"/>
<rect x="25.1" y="693.4" width="207.3" height="3.3" fill="url(#g4_35)"/>
<rect x="25.1" y="695.4" width="207.3" height="3.3" fill="url(#g4_36)"/>
<rect x="25.1" y="697.4" width="207.3" height="3.3" fill="url(#g4_37)"/>
<rect x="25.1" y="699.4" width="207.3" height="3.3" fill="url(#g4_38)"/>
<rect x="25.1" y="701.4" width="207.3" height="3.3" fill="url(#g4_39)"/>
<rect x="25.1" y="703.4" width="207.3" height="3.3" fill="url(#g4_40)"/>
<rect x="25.1" y="705.4" width="207.3" height="3.3" fill="url(#g4_41)"/>
<rect x="25.1" y="707.4" width="207.3" height="3.3" fill="url(#g4_42)"/>
<rect x="25.1" y="709.4" width="207.3" height="3.3" fill="url(#g4_43)"/>
<rect x="25.1" y="711.4" width="207.3" height="3.3" fill="url(#g4_44)"/>
<rect x="25.1" y="713.4" width="207.3" height="3.3" fill="url(#g4_45)"/>
<rect x="25.1" y="715.4" width="207.3" height="3.3" fill="url(#g4_46)"/>
<rect x="25.1" y="717.4" width="207.3" height="3.3" fill="url(#g4_47)"/>
<rect x="25.1" y="719.4" width="207.3" height="3.3" fill="url(#g4_48)"/>
<rect x="25.1" y="721.4" width="207.3" height="3.3" fill="url(#g4_49)"/>
<rect x="25.1" y="723.4" width="207.3" height="3.3" fill="url(#g4_50)"/>
<rect x="25.1" y="725.4" width="207.3" height="3.3" fill="url(#g4_51)"/>
<rect x="25.1" y="727.4" width="207.3" height="3.3" fill="url(#g4_52)"/>
<rect x="25.1" y="729.4" width="207.3" height="3.3" fill="url(#g4_53)"/>
<rect x="25.1" y="731.4" width="207.3" height="3.3" fill="url(#g4_54)"/>
<rect x="25.1" y="733.4" width="207.3" height="3.3" fill="url(#g4_55)"/>
<rect x="25.1" y="735.4" width="207.3" height="3.3" fill="url(#g4_56)"/>
<rect x="25.1" y="737.4" width="207.3" height="3.3" fill="url(#g4_57)"/>
<rect x="25.1" y="739.4" width="207.3" height="3.3" fill="url(#g4_58)"/>
<rect x="25.1" y="741.4" width="207.3" height="3.3" fill="url(#g4_59)"/>
<rect x="25.1" y="743.4" width="207.3" height="3.3" fill="url(#g4_60)"/>
<rect x="25.1" y="745.4" width="207.3" height="3.3" fill="url(#g4_61)"/>
<rect x="25.1" y="747.4" width="207.3" height="3.3" fill="url(#g4_62)"/>
<rect x="25.1" y="749.4" width="207.3" height="3.3" fill="url(#g4_63)"/>
<rect x="25.1" y="751.4" width="207.3" height="3.3" fill="url(#g4_64)"/>
<rect x="25.1" y="753.4" width="207.3" height="3.3" fill="url(#g4_65)"/>
<rect x="25.1" y="755.4" width="207.3" height="3.3" fill="url(#g4_66)"/>
<rect x="25.1" y="757.4" width="207.3" height="3.3" fill="url(#g4_67)"/>
<rect x="25.1" y="759.4" width="207.3" height="3.3" fill="url(#g4_68)"/>
<rect x="25.1" y="761.4" width="207.3" height="3.3" fill="url(#g4_69)"/>
<rect x="25.1" y="763.4" width="207.3" height="3.3" fill="url(#g4_70)"/>
<rect x="25.1" y="765.4" width="207.3" height="3.3" fill="url(#g4_71)"/>
<rect x="25.1" y="767.4" width="207.3" height="3.3" fill="url(#g4_72)"/>
<rect x="25.1" y="769.4" width="207.3" height="3.3" fill="url(#g4_73)"/>
<rect x="25.1" y="771.4" width="207.3" height="3.3" fill="url(#g4_74)"/>
<rect x="25.1" y="773.4" width="207.3" height="3.3" fill="url(#g4_75)"/>
<rect x="25.1" y="775.4" width="207.3" height="3.3" fill="url(#g4_76)"/>
<rect x="25.1" y="777.4" width="207.3" height="3.3" fill="url(#g4_77)"/>
<rect x="25.1" y="779.4" width="207.3" height="3.3" fill="url(#g4_78)"/>
<rect x="25.1" y="781.4" width="207.3" height="3.3" fill="url(#g4_79)"/>
<rect x="25.1" y="783.4" width="207.3" height="3.3" fill="url(#g4_80)"/>
<rect x="25.1" y="785.4" width="207.3" height="3.3" fill="url(#g4_81)"/>
<rect x="25.1" y="787.4" width="207.3" height="3.3" fill="url(#g4_82)"/>
<rect x="25.1" y="789.4" width="207.3" height="3.3" fill="url(#g4_83)"/>
<rect x="25.1" y="791.4" width="207.3" height="3.3" fill="url(#g4_84)"/>
<rect x="25.1" y="793.4" width="207.3" height="3.3" fill="url(#g4_85)"/>
<rect x="25.1" y="795.4" width="207.3" height="3.3" fill="url(#g4_86)"/>
<rect x="25.1" y="797.4" width="207.3" height="3.3" fill="url(#g4_87)"/>
<rect x="25.1" y="799.4" width="207.3" height="3.3" fill="url(#g4_88)"/>
<rect x="25.1" y="801.4" width="207.3" height="3.3" fill="url(#g4_89)"/>
<rect x="25.1" y="803.4" width="207.3" height="3.3" fill="url(#g4_90)"/>
<rect x="25.1" y="805.4" width="207.3" height="3.3" fill="url(#g4_91)"/>
<rect x="25.1" y="807.4" width="207.3" height="3.3" fill="url(#g4_92)"/>
<rect x="25.1" y="809.4" width="207.3" height="3.3" fill="url(#g4_93)"/>
<rect x="25.1" y="811.4" width="207.3" height="3.3" fill="url(#g4_94)"/>
<rect x="25.1" y="813.4" width="207.3" height="3.3" fill="url(#g4_95)"/>
<rect x="25.1" y="815.4" width="207.3" height="3.3" fill="url(#g4_96)"/>
<rect x="25.1" y="817.4" width="207.3" height="3.3" fill="url(#g4_97)"/>
<rect x="25.1" y="819.4" width="207.3" height="3.3" fill="url(#g4_98)"/>
<rect x="25.1" y="821.4" width="207.3" height="3.3" fill="url(#g4_99)"/>
<rect x="25.1" y="823.4" width="207.3" height="3.3" fill="url(#g4_100)"/>
<rect x="25.1" y="825.4" width="207.3" height="3.3" fill="url(#g4_101)"/>
<rect x="25.1" y="827.4" width="207.3" height="3.3" fill="url(#g4_102)"/>
<rect x="25.1" y="829.4" width="207.3" height="3.3" fill="url(#g4_103)"/>
<rect x="25.1" y="831.4" width="207.3" height="3.3" fill="url(#g4_104)"/>
<rect x="25.1" y="833.4" width="207.3" height="3.3" fill="url(#g4_105)"/>
<rect x="25.1" y="835.4" width="207.3" height="3.3" fill="url(#g4_106)"/>
<rect x="25.1" y="837.4" width="207.3" height="3.3" fill="url(#g4_107)"/>
<rect x="25.1" y="839.4" width="207.3" height="3.3" fill="url(#g4_108)"/>
<rect x="25.1" y="841.4" width="207.3" height="3.3" fill="url(#g4_109)"/>
<rect x="25.1" y="843.4" width="207.3" height="3.3" fill="url(#g4_110)"/>
<rect x="25.1" y="845.4" width="207.3" height="3.3" fill="url(#g4_111)"/>
<rect x="25.1" y="847.4" width="207.3" height="3.3" fill="url(#g4_112)"/>
<rect x="25.1" y="849.4" width="207.3" height="3.3" fill="url(#g4_113)"/>
<path fill="none" stroke="#d22826" stroke-width="4.5" stroke-opacity="0.5" stroke-linecap="round" d="M131.4 737.2L132.7 736L134 734.8L135.3 733.6L136.6 732.4L137.9 731.1L139.1 729.9L140.4 728.7L141.6 727.4L142.9 726.1L144.1 724.8L145.3 723.5L146.4 722.2L147.6 720.8L148.7 719.4L149.8 718.1L150.9 716.7L152 715.2L153 713.8L154.1 712.4L155.1 711L156.1 709.5L157.2 708.1L158.2 706.6L159.2 705.2L160.3 703.7L161.3 702.3L162.3 700.8L163.3 699.3L164.3 697.9L165.2 696.4L166.1 694.9L167.1 693.3L167.9 691.8L168.8 690.3L169.6 688.7L170.5 687.1L171.2 685.5L172 683.9L172.8 682.3L173.5 680.7L174.2 679.1L174.9 677.4L175.6 675.8L176.2 674.2L176.9 672.5L177.6 670.9L178.3 669.2L178.9 667.6L179.6 665.9L180.3 664.3L180.9 662.6L181.6 661L182.2 659.3L182.8 657.7L183.4 656L184 654.3L184.6 652.7L185.1 651L185.7 649.3L186.2 647.6L186.7 645.9L187.3 644.2L187.8 642.5L188.3 640.8L188.8 639.1L189.3 637.4L189.8 635.7L190.3 634L190.9 632.3L191.4 630.6L191.9 628.9L192.4 627.2L192.9 625.5L193.4 623.8L193.9 622.1L194.4 620.4L194.9 618.7L195.4 617L195.9 615.3L196.4 613.6L196.9 611.9"/>
<text class="l" transform="translate(34.9 654.9) rotate(56)" text-anchor="middle" font-size="10.4" x="-0.8" y="2.2">10<tspan dx="0.9" dy="-3.5" font-size="6.9">−2</tspan></text>
<text class="l" transform="translate(38.9 752.8) rotate(56)" text-anchor="middle" font-size="10.4" x="-0.8" y="2.2">10<tspan dx="0.9" dy="-3.5" font-size="6.9">−1</tspan></text>
<text class="l" transform="translate(93.8 687.7) rotate(56)" text-anchor="middle" font-size="10.4" x="-0.8" y="2.2">10<tspan dx="0.9" dy="-3.5" font-size="6.9">0</tspan></text>
<text class="l" transform="translate(109.1 746.4) rotate(56)" text-anchor="middle" font-size="10.4" x="-0.8" y="2.2">10<tspan dx="0.9" dy="-3.5" font-size="6.9">1</tspan></text>
<text class="l" transform="translate(156.5 699.7) rotate(56)" text-anchor="middle" font-size="10.4" x="-0.8" y="2.2">10<tspan dx="0.9" dy="-3.5" font-size="6.9">2</tspan></text>
<path fill="#191970" d="M14.7 811L16.3 809.4L18.6 809L20.2 807.3L22.5 806.9L24.1 805.2L26.4 804.8L28.1 803.1L30.4 802.7L32 801L34.3 800.6L35.9 798.9L38.2 798.5L39.8 796.8L42.1 796.4L43.7 794.7L46 794.3L47.6 792.6L49.9 792.2L51.6 790.5L53.8 790.1L55.5 788.4L57.8 788L59.4 786.3L61.7 785.8L63.3 784.2L65.5 783.7L67.1 782L69.4 781.5L71 779.7L73.2 779.2L74.7 777.4L77 776.9L78.5 775.1L80.8 774.5L82.2 772.7L84.5 772L86 770.2L88.2 769.6L89.6 767.8L91.9 767.1L93.3 765.3L95.5 764.6L97 762.8L99.2 762.1L100.6 760.2L102.8 759.5L104.2 757.6L106.5 756.9L107.8 755L110 754.3L111.4 752.4L113.6 751.7L115 749.8L117.2 749L118.5 747.1L120.7 746.3L122.1 744.4L124.3 743.6L125.6 741.7L127.7 740.8L129 738.9L131.1 737.9L132.3 735.9L134.4 734.9L135.5 732.9L137.6 731.9L138.7 729.8L140.8 728.7L141.9 726.7L143.9 725.5L144.9 723.4L146.9 722.2L147.7 720.1L149.7 718.8L150.5 716.6L152.4 715.2L153.2 713L155 711.7L155.8 709.4L157.6 708L158.3 705.8L160.2 704.4L160.9 702.2L162.7 700.8L163.4 698.5L165.2 697.1L165.8 694.8L167.5 693.2L168 691L169.7 689.4L170.1 687.1L171.7 685.4L172 683.1L173.6 681.3L173.8 679L175.3 677.3L175.5 674.9L177 673.1L177.2 670.8L178.7 669L178.9 666.7L180.4 664.9L180.6 662.6L182 660.8L182.2 658.5L183.6 656.6L183.7 654.3L185 652.4L185.1 650.1L186.4 648.2L186.4 645.8L187.7 643.9L187.7 641.6L189 639.7L189 637.3L190.3 635.4L190.3 633.1L191.6 631.2L191.5 628.8L192.8 626.9L192.8 624.6L194.1 622.6L194 620.3L195.3 618.4L195.3 616L196.6 614.1L196.5 611.8L234.4 609.4L234.4 851.6L11.1 851.6Z"/>
<path class="c" d="M49.4 623.4L48 626.4L46.6 629.4L45.2 632.3L43.8 635.3L42.5 638.3L41.1 641.3M29.7 668.1L28.7 671.1L27.7 674L26.8 677L25.9 680L24.9 683L23.9 686L23 688.9L22 691.9L21 694.9"/>
<path class="c" d="M83.4 623.4L82.4 626.4L81.3 629.4L80.3 632.4L79.2 635.3L78.2 638.3L77.1 641.3L76.1 644.3L75.1 647.3L74 650.3L73 653.2L71.9 656.2L70.9 659.2L69.9 662.2L68.8 665.2L67.8 668.2L66.7 671.1L65.7 674.1L64.6 677.1L63.5 680.1L62.4 683.1L61.3 686.1L60.2 689L59.1 692L58 695L57 698L55.9 701L54.9 704L53.9 706.9L53 709.9L52 712.9L51 715.9L49.9 718.9L48.8 721.9L47.6 724.8L46.5 727.8L45.3 730.8L44.1 733.8L42.9 736.8L41.8 739.8M31.1 766.6L30.2 769.6L29.3 772.6L28.6 775.6L27.8 778.5L27.1 781.5L26.4 784.5L25.8 787.5L25.3 790.5L24.6 793.5L23.9 796.4L23.2 799.4L22.5 802.4L21.8 805.4"/>
<path class="c" d="M117.9 623.4L116.8 626.4L115.8 629.4L114.7 632.4L113.7 635.4L112.6 638.4L111.6 641.4L110.5 644.4L109.5 647.3L108.5 650.3L107.5 653.3L106.5 656.3L105.6 659.3L104.6 662.3L103.6 665.3L102.6 668.3L101.6 671.3L100.6 674.3M90.3 701.2L89.1 704.2L87.8 707.2L86.5 710.2L85.3 713.2L84.1 716.2L83 719.2L81.9 722.2L80.8 725.2L79.8 728.1L78.7 731.1L77.7 734.1L76.7 737.1L75.8 740.1L74.8 743.1L73.8 746.1L72.9 749.1L71.9 752.1L70.9 755.1L70 758.1L69 761.1L68.1 764.1L67.1 767.1L66.2 770L65.3 773L64.4 776L63.5 779L62.5 782L61.6 785"/>
<path class="c" d="M151.6 623.4L150.5 626.4L149.4 629.4L148.3 632.3L147.2 635.3L146.1 638.3L145.1 641.3L144 644.3L142.9 647.2L141.8 650.2L140.7 653.2L139.6 656.2L138.6 659.2L137.5 662.1L136.4 665.1L135.3 668.1L134.2 671.1L133.1 674.1L131.9 677L130.7 680L129.4 683L128.1 686L126.8 689L125.7 691.9L124.6 694.9L123.5 697.9L122.5 700.9L121.5 703.9L120.5 706.9L119.5 709.8L118.5 712.8L117.5 715.8L116.5 718.8L115.6 721.8L114.6 724.7L113.6 727.7L112.7 730.7L111.7 733.7"/>
<path class="c" d="M182.1 623.4L181.2 626.3L180.3 629.3L179.4 632.2L178.5 635.2L177.6 638.1L176.6 641.1L175.6 644L174.6 647L173.6 649.9L172.6 652.9L171.6 655.8L170.6 658.8L169.5 661.7L168.4 664.7L167.3 667.6L166.2 670.6L165 673.5L163.8 676.4L162.6 679.4L161.5 682.3L160.4 685.3L159.3 688.2M151.3 711.8L150.3 714.8L149.4 717.7"/>
<path class="w" d="M14.5 810.7L17 809.4L19.5 808.1L22.1 806.7L24.6 805.4L27.1 804L29.6 802.7L32.1 801.4L34.6 800L37.1 798.7L39.6 797.3L42.2 796L44.7 794.6L47.2 793.3L49.7 791.9L52.2 790.6L54.7 789.2L57.2 787.9L59.7 786.5L62.2 785.1L64.7 783.7L67.2 782.3L69.7 780.9L72.1 779.4L74.5 778L77 776.5L79.4 774.9L81.8 773.4L84.2 771.9L86.5 770.3L88.9 768.7L91.3 767.1L93.6 765.5L96 763.9L98.3 762.3L100.6 760.6L103 759L105.3 757.3L107.6 755.7L109.9 754L112.2 752.3L114.5 750.6L116.8 748.9L119.1 747.2L121.3 745.4L123.6 743.7L125.8 741.9L128 740.1L130.2 738.3L132.3 736.4L134.4 734.5L136.5 732.5L138.5 730.5L140.5 728.5L142.5 726.5L144.5 724.4L146.4 722.3L148.2 720.1L150 717.9L151.7 715.6L153.4 713.3L155.1 711L156.7 708.7L158.4 706.4L160.1 704L161.7 701.7L163.3 699.3L164.8 697L166.3 694.5L167.8 692.1L169.2 689.6L170.5 687.1L171.7 684.5L172.9 681.9L174.1 679.3L175.2 676.7L176.3 674.1L177.4 671.4L178.4 668.8L179.5 666.1L180.6 663.5L181.6 660.8L182.6 658.2L183.6 655.5L184.5 652.8L185.4 650.1L186.3 647.4L187.1 644.7L187.9 641.9L188.8 639.2L189.6 636.5L190.4 633.8L191.2 631L192 628.3L192.9 625.6L193.7 622.8L194.5 620.1L195.3 617.4L196.1 614.6L196.9 611.9"/>
</g>
<g transform="translate(87.4 818.5) rotate(-31.6)"><text class="s" x="3.2" y="1.5" font-size="17.5">τ</text><text class="s" x="11.9" y="8.6" font-size="10.5">M</text><text class="s" x="21.4" y="1.5" font-size="16.5">&lt;</text><text class="s" x="31.5" y="1.5" font-size="17.5">τ</text><text class="s" x="38.9" y="8" font-size="9.5">c</text><text class="s" x="43.4" y="1.5" font-size="16.5">:</text><text class="s" x="51.4" y="0" font-size="16.5" textLength="89.4" lengthAdjust="spacingAndGlyphs">no eruption</text></g>
<text class="t" x="21.2" y="627" text-anchor="end">1</text>
<text class="t" x="21.2" y="652.1" text-anchor="end">2</text>
<text class="t" x="21.2" y="677.3" text-anchor="end">3</text>
<text class="t" x="21.2" y="702.4" text-anchor="end">4</text>
<text class="t" x="21.2" y="727.5" text-anchor="end">5</text>
<text class="t" x="21.2" y="752.7" text-anchor="end">6</text>
<text class="t" x="21.2" y="777.8" text-anchor="end">7</text>
<text class="t" x="21.2" y="802.9" text-anchor="end">8</text>
<text class="t" x="21.2" y="828.1" text-anchor="end">9</text>
<text class="t" x="21.2" y="853.2" text-anchor="end">10</text>
<text x="20.4" y="862.9" font-size="9.5" text-anchor="start">10<tspan dy="-5.5" font-size="6.6">1</tspan></text>
<text x="89.5" y="862.9" font-size="9.5" text-anchor="start">10<tspan dy="-5.5" font-size="6.6">2</tspan></text>
<text x="158.6" y="862.9" font-size="9.5" text-anchor="start">10<tspan dy="-5.5" font-size="6.6">3</tspan></text>
<text x="227.7" y="862.9" font-size="9.5" text-anchor="start">10<tspan dy="-5.5" font-size="6.6">4</tspan></text>
<path class="k" d="M25.1 623.4h-2.3M25.1 648.5h-2.3M25.1 673.7h-2.3M25.1 698.8h-2.3M25.1 723.9h-2.3M25.1 749.1h-2.3M25.1 774.2h-2.3M25.1 799.3h-2.3M25.1 824.5h-2.3M25.1 849.6h-2.3M25.1 849.6v2.3M45.9 849.6v1.3M58.1 849.6v1.3M66.7 849.6v1.3M73.4 849.6v1.3M78.9 849.6v1.3M83.5 849.6v1.3M87.5 849.6v1.3M91 849.6v1.3M94.2 849.6v2.3M115 849.6v1.3M127.2 849.6v1.3M135.8 849.6v1.3M142.5 849.6v1.3M148 849.6v1.3M152.6 849.6v1.3M156.6 849.6v1.3M160.1 849.6v1.3M163.3 849.6v2.3M184.1 849.6v1.3M196.3 849.6v1.3M204.9 849.6v1.3M211.6 849.6v1.3M217.1 849.6v1.3M221.7 849.6v1.3M225.7 849.6v1.3M229.2 849.6v1.3M232.4 849.6v2.3"/>
<text class="t" x="128.2" y="873.9" text-anchor="middle" font-size="9.6">Reservoir radius (m)</text>
<text class="t" transform="translate(6.7 736.5) rotate(-90)" text-anchor="middle" font-size="9.7">Reservoir depth (km)</text>
<text x="128.8" y="608.2" text-anchor="middle" font-size="11.5">(e) Freezing time with</text>
<text x="128.8" y="619.9" text-anchor="middle" font-size="11.5">deformation and Maxwell time filter</text>
<rect x="245.2" y="623.4" width="11.3" height="226.2" fill="url(#cb)" stroke="#333" stroke-width=".45"/>
<rect x="25.1" y="623.4" width="207.3" height="226.2" fill="none" stroke="#222" stroke-width=".45"/>
<text x="261.1" y="627.8" font-size="9.5" text-anchor="start">10<tspan dy="-5.5" font-size="6.6">3</tspan></text>
<text x="261.1" y="665.5" font-size="9.5" text-anchor="start">10<tspan dy="-5.5" font-size="6.6">2</tspan></text>
<text x="261.1" y="703.2" font-size="9.5" text-anchor="start">10<tspan dy="-5.5" font-size="6.6">1</tspan></text>
<text x="261.1" y="740.9" font-size="9.5" text-anchor="start">10<tspan dy="-5.5" font-size="6.6">0</tspan></text>
<text x="261.1" y="778.6" font-size="9.5" text-anchor="start">10<tspan dy="-5.5" font-size="6.6">−1</tspan></text>
<text x="261.1" y="816.3" font-size="9.5" text-anchor="start">10<tspan dy="-5.5" font-size="6.6">−2</tspan></text>
<text x="261.1" y="854" font-size="9.5" text-anchor="start">10<tspan dy="-5.5" font-size="6.6">−3</tspan></text>
<path class="k" d="M256.5 623.4h2M256.5 649.8h1.1M256.5 643.1h1.1M256.5 638.4h1.1M256.5 634.7h1.1M256.5 631.8h1.1M256.5 629.2h1.1M256.5 627.1h1.1M256.5 625.1h1.1M256.5 661.1h2M256.5 687.5h1.1M256.5 680.8h1.1M256.5 676.1h1.1M256.5 672.4h1.1M256.5 669.5h1.1M256.5 666.9h1.1M256.5 664.8h1.1M256.5 662.8h1.1M256.5 698.8h2M256.5 725.2h1.1M256.5 718.5h1.1M256.5 713.8h1.1M256.5 710.1h1.1M256.5 707.2h1.1M256.5 704.6h1.1M256.5 702.5h1.1M256.5 700.5h1.1M256.5 736.5h2M256.5 762.9h1.1M256.5 756.2h1.1M256.5 751.5h1.1M256.5 747.8h1.1M256.5 744.9h1.1M256.5 742.3h1.1M256.5 740.2h1.1M256.5 738.2h1.1M256.5 774.2h2M256.5 800.6h1.1M256.5 793.9h1.1M256.5 789.2h1.1M256.5 785.5h1.1M256.5 782.6h1.1M256.5 780h1.1M256.5 777.9h1.1M256.5 775.9h1.1M256.5 811.9h2M256.5 838.3h1.1M256.5 831.6h1.1M256.5 826.9h1.1M256.5 823.2h1.1M256.5 820.3h1.1M256.5 817.7h1.1M256.5 815.6h1.1M256.5 813.6h1.1M256.5 849.6h2"/>
<text x="233.8" y="612.3" font-size="9.7"><tspan font-style="italic" font-family="Liberation Sans" font-size="11">t</tspan><tspan dy="2" font-size="7.5" font-style="italic" font-family="Liberation Sans">cv</tspan><tspan dy="-2"> (years)</tspan></text>
<g clip-path="url(#p5)">
<rect x="330.7" y="623.4" width="207.3" height="3.3" fill="url(#g5_0)"/>
<rect x="330.7" y="625.4" width="207.3" height="3.3" fill="url(#g5_1)"/>
<rect x="330.7" y="627.4" width="207.3" height="3.3" fill="url(#g5_2)"/>
<rect x="330.7" y="629.4" width="207.3" height="3.3" fill="url(#g5_3)"/>
<rect x="330.7" y="631.4" width="207.3" height="3.3" fill="url(#g5_4)"/>
<rect x="330.7" y="633.4" width="207.3" height="3.3" fill="url(#g5_5)"/>
<rect x="330.7" y="635.4" width="207.3" height="3.3" fill="url(#g5_6)"/>
<rect x="330.7" y="637.4" width="207.3" height="3.3" fill="url(#g5_7)"/>
<rect x="330.7" y="639.4" width="207.3" height="3.3" fill="url(#g5_8)"/>
<rect x="330.7" y="641.4" width="207.3" height="3.3" fill="url(#g5_9)"/>
<rect x="330.7" y="643.4" width="207.3" height="3.3" fill="url(#g5_10)"/>
<rect x="330.7" y="645.4" width="207.3" height="3.3" fill="url(#g5_11)"/>
<rect x="330.7" y="647.4" width="207.3" height="3.3" fill="url(#g5_12)"/>
<rect x="330.7" y="649.4" width="207.3" height="3.3" fill="url(#g5_13)"/>
<rect x="330.7" y="651.4" width="207.3" height="3.3" fill="url(#g5_14)"/>
<rect x="330.7" y="653.4" width="207.3" height="3.3" fill="url(#g5_15)"/>
<rect x="330.7" y="655.4" width="207.3" height="3.3" fill="url(#g5_16)"/>
<rect x="330.7" y="657.4" width="207.3" height="3.3" fill="url(#g5_17)"/>
<rect x="330.7" y="659.4" width="207.3" height="3.3" fill="url(#g5_18)"/>
<rect x="330.7" y="661.4" width="207.3" height="3.3" fill="url(#g5_19)"/>
<rect x="330.7" y="663.4" width="207.3" height="3.3" fill="url(#g5_20)"/>
<rect x="330.7" y="665.4" width="207.3" height="3.3" fill="url(#g5_21)"/>
<rect x="330.7" y="667.4" width="207.3" height="3.3" fill="url(#g5_22)"/>
<rect x="330.7" y="669.4" width="207.3" height="3.3" fill="url(#g5_23)"/>
<rect x="330.7" y="671.4" width="207.3" height="3.3" fill="url(#g5_24)"/>
<rect x="330.7" y="673.4" width="207.3" height="3.3" fill="url(#g5_25)"/>
<rect x="330.7" y="675.4" width="207.3" height="3.3" fill="url(#g5_26)"/>
<rect x="330.7" y="677.4" width="207.3" height="3.3" fill="url(#g5_27)"/>
<rect x="330.7" y="679.4" width="207.3" height="3.3" fill="url(#g5_28)"/>
<rect x="330.7" y="681.4" width="207.3" height="3.3" fill="url(#g5_29)"/>
<rect x="330.7" y="683.4" width="207.3" height="3.3" fill="url(#g5_30)"/>
<rect x="330.7" y="685.4" width="207.3" height="3.3" fill="url(#g5_31)"/>
<rect x="330.7" y="687.4" width="207.3" height="3.3" fill="url(#g5_32)"/>
<rect x="330.7" y="689.4" width="207.3" height="3.3" fill="url(#g5_33)"/>
<rect x="330.7" y="691.4" width="207.3" height="3.3" fill="url(#g5_34)"/>
<rect x="330.7" y="693.4" width="207.3" height="3.3" fill="url(#g5_35)"/>
<rect x="330.7" y="695.4" width="207.3" height="3.3" fill="url(#g5_36)"/>
<rect x="330.7" y="697.4" width="207.3" height="3.3" fill="url(#g5_37)"/>
<rect x="330.7" y="699.4" width="207.3" height="3.3" fill="url(#g5_38)"/>
<rect x="330.7" y="701.4" width="207.3" height="3.3" fill="url(#g5_39)"/>
<rect x="330.7" y="703.4" width="207.3" height="3.3" fill="url(#g5_40)"/>
<rect x="330.7" y="705.4" width="207.3" height="3.3" fill="url(#g5_41)"/>
<rect x="330.7" y="707.4" width="207.3" height="3.3" fill="url(#g5_42)"/>
<rect x="330.7" y="709.4" width="207.3" height="3.3" fill="url(#g5_43)"/>
<rect x="330.7" y="711.4" width="207.3" height="3.3" fill="url(#g5_44)"/>
<rect x="330.7" y="713.4" width="207.3" height="3.3" fill="url(#g5_45)"/>
<rect x="330.7" y="715.4" width="207.3" height="3.3" fill="url(#g5_46)"/>
<rect x="330.7" y="717.4" width="207.3" height="3.3" fill="url(#g5_47)"/>
<rect x="330.7" y="719.4" width="207.3" height="3.3" fill="url(#g5_48)"/>
<rect x="330.7" y="721.4" width="207.3" height="3.3" fill="url(#g5_49)"/>
<rect x="330.7" y="723.4" width="207.3" height="3.3" fill="url(#g5_50)"/>
<rect x="330.7" y="725.4" width="207.3" height="3.3" fill="url(#g5_51)"/>
<rect x="330.7" y="727.4" width="207.3" height="3.3" fill="url(#g5_52)"/>
<rect x="330.7" y="729.4" width="207.3" height="3.3" fill="url(#g5_53)"/>
<rect x="330.7" y="731.4" width="207.3" height="3.3" fill="url(#g5_54)"/>
<rect x="330.7" y="733.4" width="207.3" height="3.3" fill="url(#g5_55)"/>
<rect x="330.7" y="735.4" width="207.3" height="3.3" fill="url(#g5_56)"/>
<rect x="330.7" y="737.4" width="207.3" height="3.3" fill="url(#g5_57)"/>
<rect x="330.7" y="739.4" width="207.3" height="3.3" fill="url(#g5_58)"/>
<rect x="330.7" y="741.4" width="207.3" height="3.3" fill="url(#g5_59)"/>
<rect x="330.7" y="743.4" width="207.3" height="3.3" fill="url(#g5_60)"/>
<rect x="330.7" y="745.4" width="207.3" height="3.3" fill="url(#g5_61)"/>
<rect x="330.7" y="747.4" width="207.3" height="3.3" fill="url(#g5_62)"/>
<rect x="330.7" y="749.4" width="207.3" height="3.3" fill="url(#g5_63)"/>
<rect x="330.7" y="751.4" width="207.3" height="3.3" fill="url(#g5_64)"/>
<rect x="330.7" y="753.4" width="207.3" height="3.3" fill="url(#g5_65)"/>
<rect x="330.7" y="755.4" width="207.3" height="3.3" fill="url(#g5_66)"/>
<rect x="330.7" y="757.4" width="207.3" height="3.3" fill="url(#g5_67)"/>
<rect x="330.7" y="759.4" width="207.3" height="3.3" fill="url(#g5_68)"/>
<rect x="330.7" y="761.4" width="207.3" height="3.3" fill="url(#g5_69)"/>
<rect x="330.7" y="763.4" width="207.3" height="3.3" fill="url(#g5_70)"/>
<rect x="330.7" y="765.4" width="207.3" height="3.3" fill="url(#g5_71)"/>
<rect x="330.7" y="767.4" width="207.3" height="3.3" fill="url(#g5_72)"/>
<rect x="330.7" y="769.4" width="207.3" height="3.3" fill="url(#g5_73)"/>
<rect x="330.7" y="771.4" width="207.3" height="3.3" fill="url(#g5_74)"/>
<rect x="330.7" y="773.4" width="207.3" height="3.3" fill="url(#g5_75)"/>
<rect x="330.7" y="775.4" width="207.3" height="3.3" fill="url(#g5_76)"/>
<rect x="330.7" y="777.4" width="207.3" height="3.3" fill="url(#g5_77)"/>
<rect x="330.7" y="779.4" width="207.3" height="3.3" fill="url(#g5_78)"/>
<rect x="330.7" y="781.4" width="207.3" height="3.3" fill="url(#g5_79)"/>
<rect x="330.7" y="783.4" width="207.3" height="3.3" fill="url(#g5_80)"/>
<rect x="330.7" y="785.4" width="207.3" height="3.3" fill="url(#g5_81)"/>
<rect x="330.7" y="787.4" width="207.3" height="3.3" fill="url(#g5_82)"/>
<rect x="330.7" y="789.4" width="207.3" height="3.3" fill="url(#g5_83)"/>
<rect x="330.7" y="791.4" width="207.3" height="3.3" fill="url(#g5_84)"/>
<rect x="330.7" y="793.4" width="207.3" height="3.3" fill="url(#g5_85)"/>
<rect x="330.7" y="795.4" width="207.3" height="3.3" fill="url(#g5_86)"/>
<rect x="330.7" y="797.4" width="207.3" height="3.3" fill="url(#g5_87)"/>
<rect x="330.7" y="799.4" width="207.3" height="3.3" fill="url(#g5_88)"/>
<rect x="330.7" y="801.4" width="207.3" height="3.3" fill="url(#g5_89)"/>
<rect x="330.7" y="803.4" width="207.3" height="3.3" fill="url(#g5_90)"/>
<rect x="330.7" y="805.4" width="207.3" height="3.3" fill="url(#g5_91)"/>
<rect x="330.7" y="807.4" width="207.3" height="3.3" fill="url(#g5_92)"/>
<rect x="330.7" y="809.4" width="207.3" height="3.3" fill="url(#g5_93)"/>
<rect x="330.7" y="811.4" width="207.3" height="3.3" fill="url(#g5_94)"/>
<rect x="330.7" y="813.4" width="207.3" height="3.3" fill="url(#g5_95)"/>
<rect x="330.7" y="815.4" width="207.3" height="3.3" fill="url(#g5_96)"/>
<rect x="330.7" y="817.4" width="207.3" height="3.3" fill="url(#g5_97)"/>
<rect x="330.7" y="819.4" width="207.3" height="3.3" fill="url(#g5_98)"/>
<rect x="330.7" y="821.4" width="207.3" height="3.3" fill="url(#g5_99)"/>
<rect x="330.7" y="823.4" width="207.3" height="3.3" fill="url(#g5_100)"/>
<rect x="330.7" y="825.4" width="207.3" height="3.3" fill="url(#g5_101)"/>
<rect x="330.7" y="827.4" width="207.3" height="3.3" fill="url(#g5_102)"/>
<rect x="330.7" y="829.4" width="207.3" height="3.3" fill="url(#g5_103)"/>
<rect x="330.7" y="831.4" width="207.3" height="3.3" fill="url(#g5_104)"/>
<rect x="330.7" y="833.4" width="207.3" height="3.3" fill="url(#g5_105)"/>
<rect x="330.7" y="835.4" width="207.3" height="3.3" fill="url(#g5_106)"/>
<rect x="330.7" y="837.4" width="207.3" height="3.3" fill="url(#g5_107)"/>
<rect x="330.7" y="839.4" width="207.3" height="3.3" fill="url(#g5_108)"/>
<rect x="330.7" y="841.4" width="207.3" height="3.3" fill="url(#g5_109)"/>
<rect x="330.7" y="843.4" width="207.3" height="3.3" fill="url(#g5_110)"/>
<rect x="330.7" y="845.4" width="207.3" height="3.3" fill="url(#g5_111)"/>
<rect x="330.7" y="847.4" width="207.3" height="3.3" fill="url(#g5_112)"/>
<rect x="330.7" y="849.4" width="207.3" height="3.3" fill="url(#g5_113)"/>
<path fill="none" stroke="#d22826" stroke-width="4.5" stroke-opacity="0.5" stroke-linecap="round" d="M436 724.6L437.3 723.5L438.6 722.5L439.9 721.4L441.2 720.4L442.5 719.3L443.8 718.2L445 717.1L446.2 715.9L447.4 714.7L448.6 713.5L449.8 712.3L450.9 711.1L452.1 709.9L453.2 708.6L454.3 707.3L455.3 706L456.4 704.7L457.4 703.3L458.4 702L459.3 700.6L460.2 699.2L461.1 697.8L462 696.4L462.9 694.9L463.8 693.5L464.6 692L465.5 690.6L466.3 689.1L467.2 687.7L468 686.2L468.8 684.7L469.7 683.3L470.5 681.8L471.3 680.3L472.1 678.8L472.9 677.3L473.6 675.9L474.4 674.4L475.1 672.9L475.9 671.3L476.6 669.8L477.3 668.3L478 666.8L478.7 665.2L479.4 663.7L480.1 662.2L480.8 660.6L481.4 659.1L482.1 657.5L482.8 656L483.4 654.4L484 652.9L484.7 651.3L485.3 649.8L485.9 648.2L486.6 646.6L487.2 645.1L487.8 643.5L488.4 641.9L489 640.4L489.6 638.8L490.3 637.3L490.9 635.7L491.5 634.1L492.1 632.6L492.8 631L493.4 629.4L494 627.9L494.6 626.3L495.3 624.8L495.9 623.2L496.5 621.6L497.1 620.1L497.8 618.5L498.4 616.9L499 615.4L499.6 613.8L500.3 612.3"/>
<text class="l" transform="translate(344 674.9) rotate(56)" text-anchor="middle" font-size="10.4" x="-0.8" y="2.2">10<tspan dx="0.9" dy="-3.5" font-size="6.9">−1</tspan></text>
<text class="l" transform="translate(374 687.3) rotate(56)" text-anchor="middle" font-size="10.4" x="-0.8" y="2.2">10<tspan dx="0.9" dy="-3.5" font-size="6.9">0</tspan></text>
<text class="l" transform="translate(416.2 667.4) rotate(56)" text-anchor="middle" font-size="10.4" x="-0.8" y="2.2">10<tspan dx="0.9" dy="-3.5" font-size="6.9">1</tspan></text>
<text class="l" transform="translate(459.7 639.4) rotate(56)" text-anchor="middle" font-size="10.4" x="-0.8" y="2.2">10<tspan dx="0.9" dy="-3.5" font-size="6.9">2</tspan></text>
<path fill="#191970" d="M320.4 796.5L322 794.8L324.3 794.3L325.9 792.6L328.2 792.1L329.8 790.4L332.1 789.9L333.7 788.2L335.9 787.7L337.5 786L339.8 785.5L341.4 783.8L343.7 783.3L345.2 781.5L347.5 781L349.1 779.3L351.4 778.8L352.9 777L355.2 776.5L356.7 774.7L359 774.2L360.6 772.4L362.8 771.9L364.4 770.1L366.7 769.6L368.2 767.8L370.5 767.3L372 765.5L374.3 764.9L375.8 763.2L378 762.6L379.5 760.8L381.8 760.2L383.3 758.4L385.5 757.8L387 756L389.3 755.3L390.8 753.5L393 752.9L394.6 751.2L396.8 750.6L398.4 748.8L400.6 748.3L402.2 746.6L404.5 746.1L406.2 744.5L408.4 744L410.1 742.3L412.4 741.9L414 740.2L416.2 739.7L417.8 737.9L420 737.3L421.5 735.4L423.7 734.7L425 732.8L427.2 732L428.6 730.1L430.7 729.2L432 727.3L434.2 726.4L435.5 724.5L437.7 723.7L439 721.7L441.2 720.9L442.4 718.9L444.6 717.9L445.7 715.9L447.8 714.9L448.9 712.8L450.9 711.7L451.9 709.5L453.9 708.3L454.8 706.1L456.7 704.8L457.5 702.6L459.3 701.2L460 699L461.8 697.5L462.3 695.2L464.1 693.6L464.6 691.4L466.4 689.8L466.9 687.5L468.6 685.9L469.1 683.6L470.7 682L471.2 679.7L472.9 678.1L473.3 675.8L474.9 674.1L475.3 671.8L476.9 670.1L477.2 667.8L478.7 666.1L479 663.8L480.6 662L480.8 659.7L482.3 657.9L482.6 655.6L484.1 653.8L484.2 651.5L485.7 649.7L485.9 647.3L487.4 645.5L487.5 643.2L489 641.4L489.2 639L490.7 637.2L490.8 634.9L492.3 633.1L492.5 630.8L494 628.9L494.1 626.6L495.6 624.8L495.8 622.5L497.3 620.7L497.5 618.3L498.9 616.5L499.1 614.2L500.6 612.4L540 609.4L540 851.6L316.7 851.6Z"/>
<path class="c" d="M361.5 623.4L360.5 626.3L359.4 629.2L358.4 632.1L357.3 635.1L356.3 638L355.2 640.9L354.2 643.8L353.1 646.7L352 649.6L351 652.6L349.9 655.5L348.9 658.4L347.8 661.3M337.9 687.6L336.9 690.5L335.8 693.4L334.9 696.3L334 699.2L333.3 702.1L332.6 705.1L331.9 708L331.3 710.9L330.8 713.8L330.2 716.7L329.5 719.6L328.9 722.6L328.3 725.5L327.6 728.4"/>
<path class="c" d="M396.4 623.4L395.3 626.4L394.3 629.3L393.2 632.3L392.2 635.3L391.1 638.2L390.1 641.2L389.1 644.2L388.1 647.1L387.1 650.1L386.1 653.1L385.1 656L384.1 659L383.2 662L382.3 664.9L381.3 667.9L380.4 670.9L379.6 673.8M371 700.5L370 703.5L368.9 706.5L367.8 709.4L366.7 712.4L365.6 715.3L364.6 718.3L363.5 721.3L362.5 724.2L361.5 727.2L360.6 730.2L359.7 733.1L358.8 736.1L358 739.1L357.1 742L356.3 745L355.4 748L354.5 750.9L353.6 753.9L352.7 756.9L351.8 759.8L350.9 762.8L350 765.8L349 768.7L348 771.7L346.9 774.7L345.6 777.6L344.1 780.6L342.2 783.6"/>
<path class="c" d="M428.9 623.4L427.8 626.3L426.8 629.3L425.8 632.2L424.7 635.2L423.7 638.1L422.7 641L421.6 644L420.6 646.9L419.6 649.9L418.6 652.8L417.6 655.8M409.9 679.3L408.9 682.2L408 685.2L407 688.1L406.1 691L405.1 694L404.2 696.9L403.2 699.9L402.3 702.8L401.4 705.8L400.4 708.7L399.5 711.6L398.6 714.6L397.7 717.5L396.7 720.5L395.9 723.4L395 726.3L394.2 729.3L393.4 732.2L392.6 735.2L391.7 738.1L390.8 741L389.9 744L388.8 746.9L387.7 749.9L386.4 752.8L384.9 755.8L383.3 758.7"/>
<path class="c" d="M465.6 623.4L464.3 626.4M452.5 653.3L451.3 656.3L450.1 659.3L449.1 662.2L448.1 665.2L447.3 668.2L446.4 671.2L445.5 674.2L444.6 677.2L443.7 680.2L442.7 683.2L441.7 686.1L440.7 689.1L439.7 692.1L438.7 695.1L437.7 698.1L436.7 701.1L435.7 704.1L434.7 707.1L433.8 710.1L432.8 713L431.9 716L430.8 719L429.8 722L428.6 725L427.4 728L426.1 731"/>
<path class="w" d="M320.3 796.2L322.6 794.9L325 793.6L327.3 792.2L329.7 790.9L332 789.6L334.4 788.2L336.7 786.9L339 785.5L341.4 784.2L343.7 782.8L346.1 781.5L348.4 780.1L350.7 778.7L353 777.3L355.4 776L357.7 774.6L360 773.2L362.3 771.8L364.6 770.4L366.9 769L369.2 767.6L371.6 766.2L373.9 764.8L376.1 763.3L378.4 761.9L380.7 760.5L383 759L385.3 757.5L387.5 756.1L389.8 754.6L392.1 753.1L394.4 751.7L396.7 750.3L399 748.9L401.3 747.5L403.7 746.2L406 744.9L408.4 743.6L410.8 742.4L413.2 741L415.5 739.7L417.8 738.3L420.1 736.8L422.3 735.3L424.5 733.7L426.6 732L428.7 730.4L430.8 728.7L432.9 727L435.1 725.3L437.2 723.6L439.3 721.9L441.4 720.2L443.4 718.5L445.4 716.7L447.4 714.8L449.3 712.9L451.1 710.9L452.9 708.9L454.7 706.8L456.3 704.7L457.9 702.6L459.5 700.3L460.9 698.1L462.4 695.8L463.8 693.5L465.2 691.2L466.5 688.8L467.9 686.5L469.2 684.1L470.5 681.8L471.8 679.4L473 677L474.3 674.6L475.5 672.2L476.6 669.7L477.8 667.3L478.9 664.8L480 662.4L481.1 659.9L482.2 657.4L483.2 654.9L484.2 652.4L485.3 649.9L486.3 647.4L487.2 644.9L488.2 642.4L489.2 639.9L490.2 637.3L491.2 634.8L492.2 632.3L493.2 629.8L494.2 627.3L495.2 624.8L496.2 622.3L497.2 619.8L498.3 617.3L499.3 614.8L500.3 612.3"/>
</g>
<g transform="translate(393 818.5) rotate(-31.6)"><text class="s" x="3.2" y="1.5" font-size="17.5">τ</text><text class="s" x="11.9" y="8.6" font-size="10.5">M</text><text class="s" x="21.4" y="1.5" font-size="16.5">&lt;</text><text class="s" x="31.5" y="1.5" font-size="17.5">τ</text><text class="s" x="38.9" y="8" font-size="9.5">c</text><text class="s" x="43.4" y="1.5" font-size="16.5">:</text><text class="s" x="51.4" y="0" font-size="16.5" textLength="89.4" lengthAdjust="spacingAndGlyphs">no eruption</text></g>
<text class="t" x="326.8" y="627" text-anchor="end">1</text>
<text class="t" x="326.8" y="652.1" text-anchor="end">2</text>
<text class="t" x="326.8" y="677.3" text-anchor="end">3</text>
<text class="t" x="326.8" y="702.4" text-anchor="end">4</text>
<text class="t" x="326.8" y="727.5" text-anchor="end">5</text>
<text class="t" x="326.8" y="752.7" text-anchor="end">6</text>
<text class="t" x="326.8" y="777.8" text-anchor="end">7</text>
<text class="t" x="326.8" y="802.9" text-anchor="end">8</text>
<text class="t" x="326.8" y="828.1" text-anchor="end">9</text>
<text class="t" x="326.8" y="853.2" text-anchor="end">10</text>
<text x="326" y="862.9" font-size="9.5" text-anchor="start">10<tspan dy="-5.5" font-size="6.6">1</tspan></text>
<text x="395.1" y="862.9" font-size="9.5" text-anchor="start">10<tspan dy="-5.5" font-size="6.6">2</tspan></text>
<text x="464.2" y="862.9" font-size="9.5" text-anchor="start">10<tspan dy="-5.5" font-size="6.6">3</tspan></text>
<text x="533.3" y="862.9" font-size="9.5" text-anchor="start">10<tspan dy="-5.5" font-size="6.6">4</tspan></text>
<path class="k" d="M330.7 623.4h-2.3M330.7 648.5h-2.3M330.7 673.7h-2.3M330.7 698.8h-2.3M330.7 723.9h-2.3M330.7 749.1h-2.3M330.7 774.2h-2.3M330.7 799.3h-2.3M330.7 824.5h-2.3M330.7 849.6h-2.3M330.7 849.6v2.3M351.5 849.6v1.3M363.7 849.6v1.3M372.3 849.6v1.3M379 849.6v1.3M384.5 849.6v1.3M389.1 849.6v1.3M393.1 849.6v1.3M396.6 849.6v1.3M399.8 849.6v2.3M420.6 849.6v1.3M432.8 849.6v1.3M441.4 849.6v1.3M448.1 849.6v1.3M453.6 849.6v1.3M458.2 849.6v1.3M462.2 849.6v1.3M465.7 849.6v1.3M468.9 849.6v2.3M489.7 849.6v1.3M501.9 849.6v1.3M510.5 849.6v1.3M517.2 849.6v1.3M522.7 849.6v1.3M527.3 849.6v1.3M531.3 849.6v1.3M534.8 849.6v1.3M538 849.6v2.3"/>
<text class="t" x="433.9" y="873.9" text-anchor="middle" font-size="9.6">Reservoir radius (m)</text>
<text class="t" transform="translate(312.3 736.5) rotate(-90)" text-anchor="middle" font-size="9.7">Reservoir depth (km)</text>
<text x="434.4" y="608.2" text-anchor="middle" font-size="11.5">(f) Freezing time with</text>
<text x="434.4" y="619.9" text-anchor="middle" font-size="11.5">deformation and Maxwell time filter</text>
<rect x="550.3" y="623.4" width="11.3" height="226.2" fill="url(#cb)" stroke="#333" stroke-width=".45"/>
<rect x="330.7" y="623.4" width="207.3" height="226.2" fill="none" stroke="#222" stroke-width=".45"/>
<text x="566.2" y="627.8" font-size="9.5" text-anchor="start">10<tspan dy="-5.5" font-size="6.6">3</tspan></text>
<text x="566.2" y="665.5" font-size="9.5" text-anchor="start">10<tspan dy="-5.5" font-size="6.6">2</tspan></text>
<text x="566.2" y="703.2" font-size="9.5" text-anchor="start">10<tspan dy="-5.5" font-size="6.6">1</tspan></text>
<text x="566.2" y="740.9" font-size="9.5" text-anchor="start">10<tspan dy="-5.5" font-size="6.6">0</tspan></text>
<text x="566.2" y="778.6" font-size="9.5" text-anchor="start">10<tspan dy="-5.5" font-size="6.6">−1</tspan></text>
<text x="566.2" y="816.3" font-size="9.5" text-anchor="start">10<tspan dy="-5.5" font-size="6.6">−2</tspan></text>
<text x="566.2" y="854" font-size="9.5" text-anchor="start">10<tspan dy="-5.5" font-size="6.6">−3</tspan></text>
<path class="k" d="M561.6 623.4h2M561.6 649.8h1.1M561.6 643.1h1.1M561.6 638.4h1.1M561.6 634.7h1.1M561.6 631.8h1.1M561.6 629.2h1.1M561.6 627.1h1.1M561.6 625.1h1.1M561.6 661.1h2M561.6 687.5h1.1M561.6 680.8h1.1M561.6 676.1h1.1M561.6 672.4h1.1M561.6 669.5h1.1M561.6 666.9h1.1M561.6 664.8h1.1M561.6 662.8h1.1M561.6 698.8h2M561.6 725.2h1.1M561.6 718.5h1.1M561.6 713.8h1.1M561.6 710.1h1.1M561.6 707.2h1.1M561.6 704.6h1.1M561.6 702.5h1.1M561.6 700.5h1.1M561.6 736.5h2M561.6 762.9h1.1M561.6 756.2h1.1M561.6 751.5h1.1M561.6 747.8h1.1M561.6 744.9h1.1M561.6 742.3h1.1M561.6 740.2h1.1M561.6 738.2h1.1M561.6 774.2h2M561.6 800.6h1.1M561.6 793.9h1.1M561.6 789.2h1.1M561.6 785.5h1.1M561.6 782.6h1.1M561.6 780h1.1M561.6 777.9h1.1M561.6 775.9h1.1M561.6 811.9h2M561.6 838.3h1.1M561.6 831.6h1.1M561.6 826.9h1.1M561.6 823.2h1.1M561.6 820.3h1.1M561.6 817.7h1.1M561.6 815.6h1.1M561.6 813.6h1.1M561.6 849.6h2"/>
<text x="538.9" y="612.3" font-size="9.7"><tspan font-style="italic" font-family="Liberation Sans" font-size="11">t</tspan><tspan dy="2" font-size="7.5" font-style="italic" font-family="Liberation Sans">cv</tspan><tspan dy="-2"> (years)</tspan></text>
<text x="140.8" y="9.7" text-anchor="middle" font-size="13.7" font-weight="bold">Pure water:</text>
<text x="304.6" y="9.7" font-size="13.7" font-weight="bold">81 wt% H<tspan dy="4" font-size="8.8">2</tspan><tspan dy="-4">O + 16 wt% MgSO</tspan><tspan dy="4" font-size="8.8">4</tspan><tspan dy="-4"> + 3wt% Na</tspan><tspan dy="4" font-size="8.8">2</tspan><tspan dy="-4">SO</tspan><tspan dy="4" font-size="8.8">4</tspan><tspan dy="-4">:</tspan></text>
</svg></body></html>
